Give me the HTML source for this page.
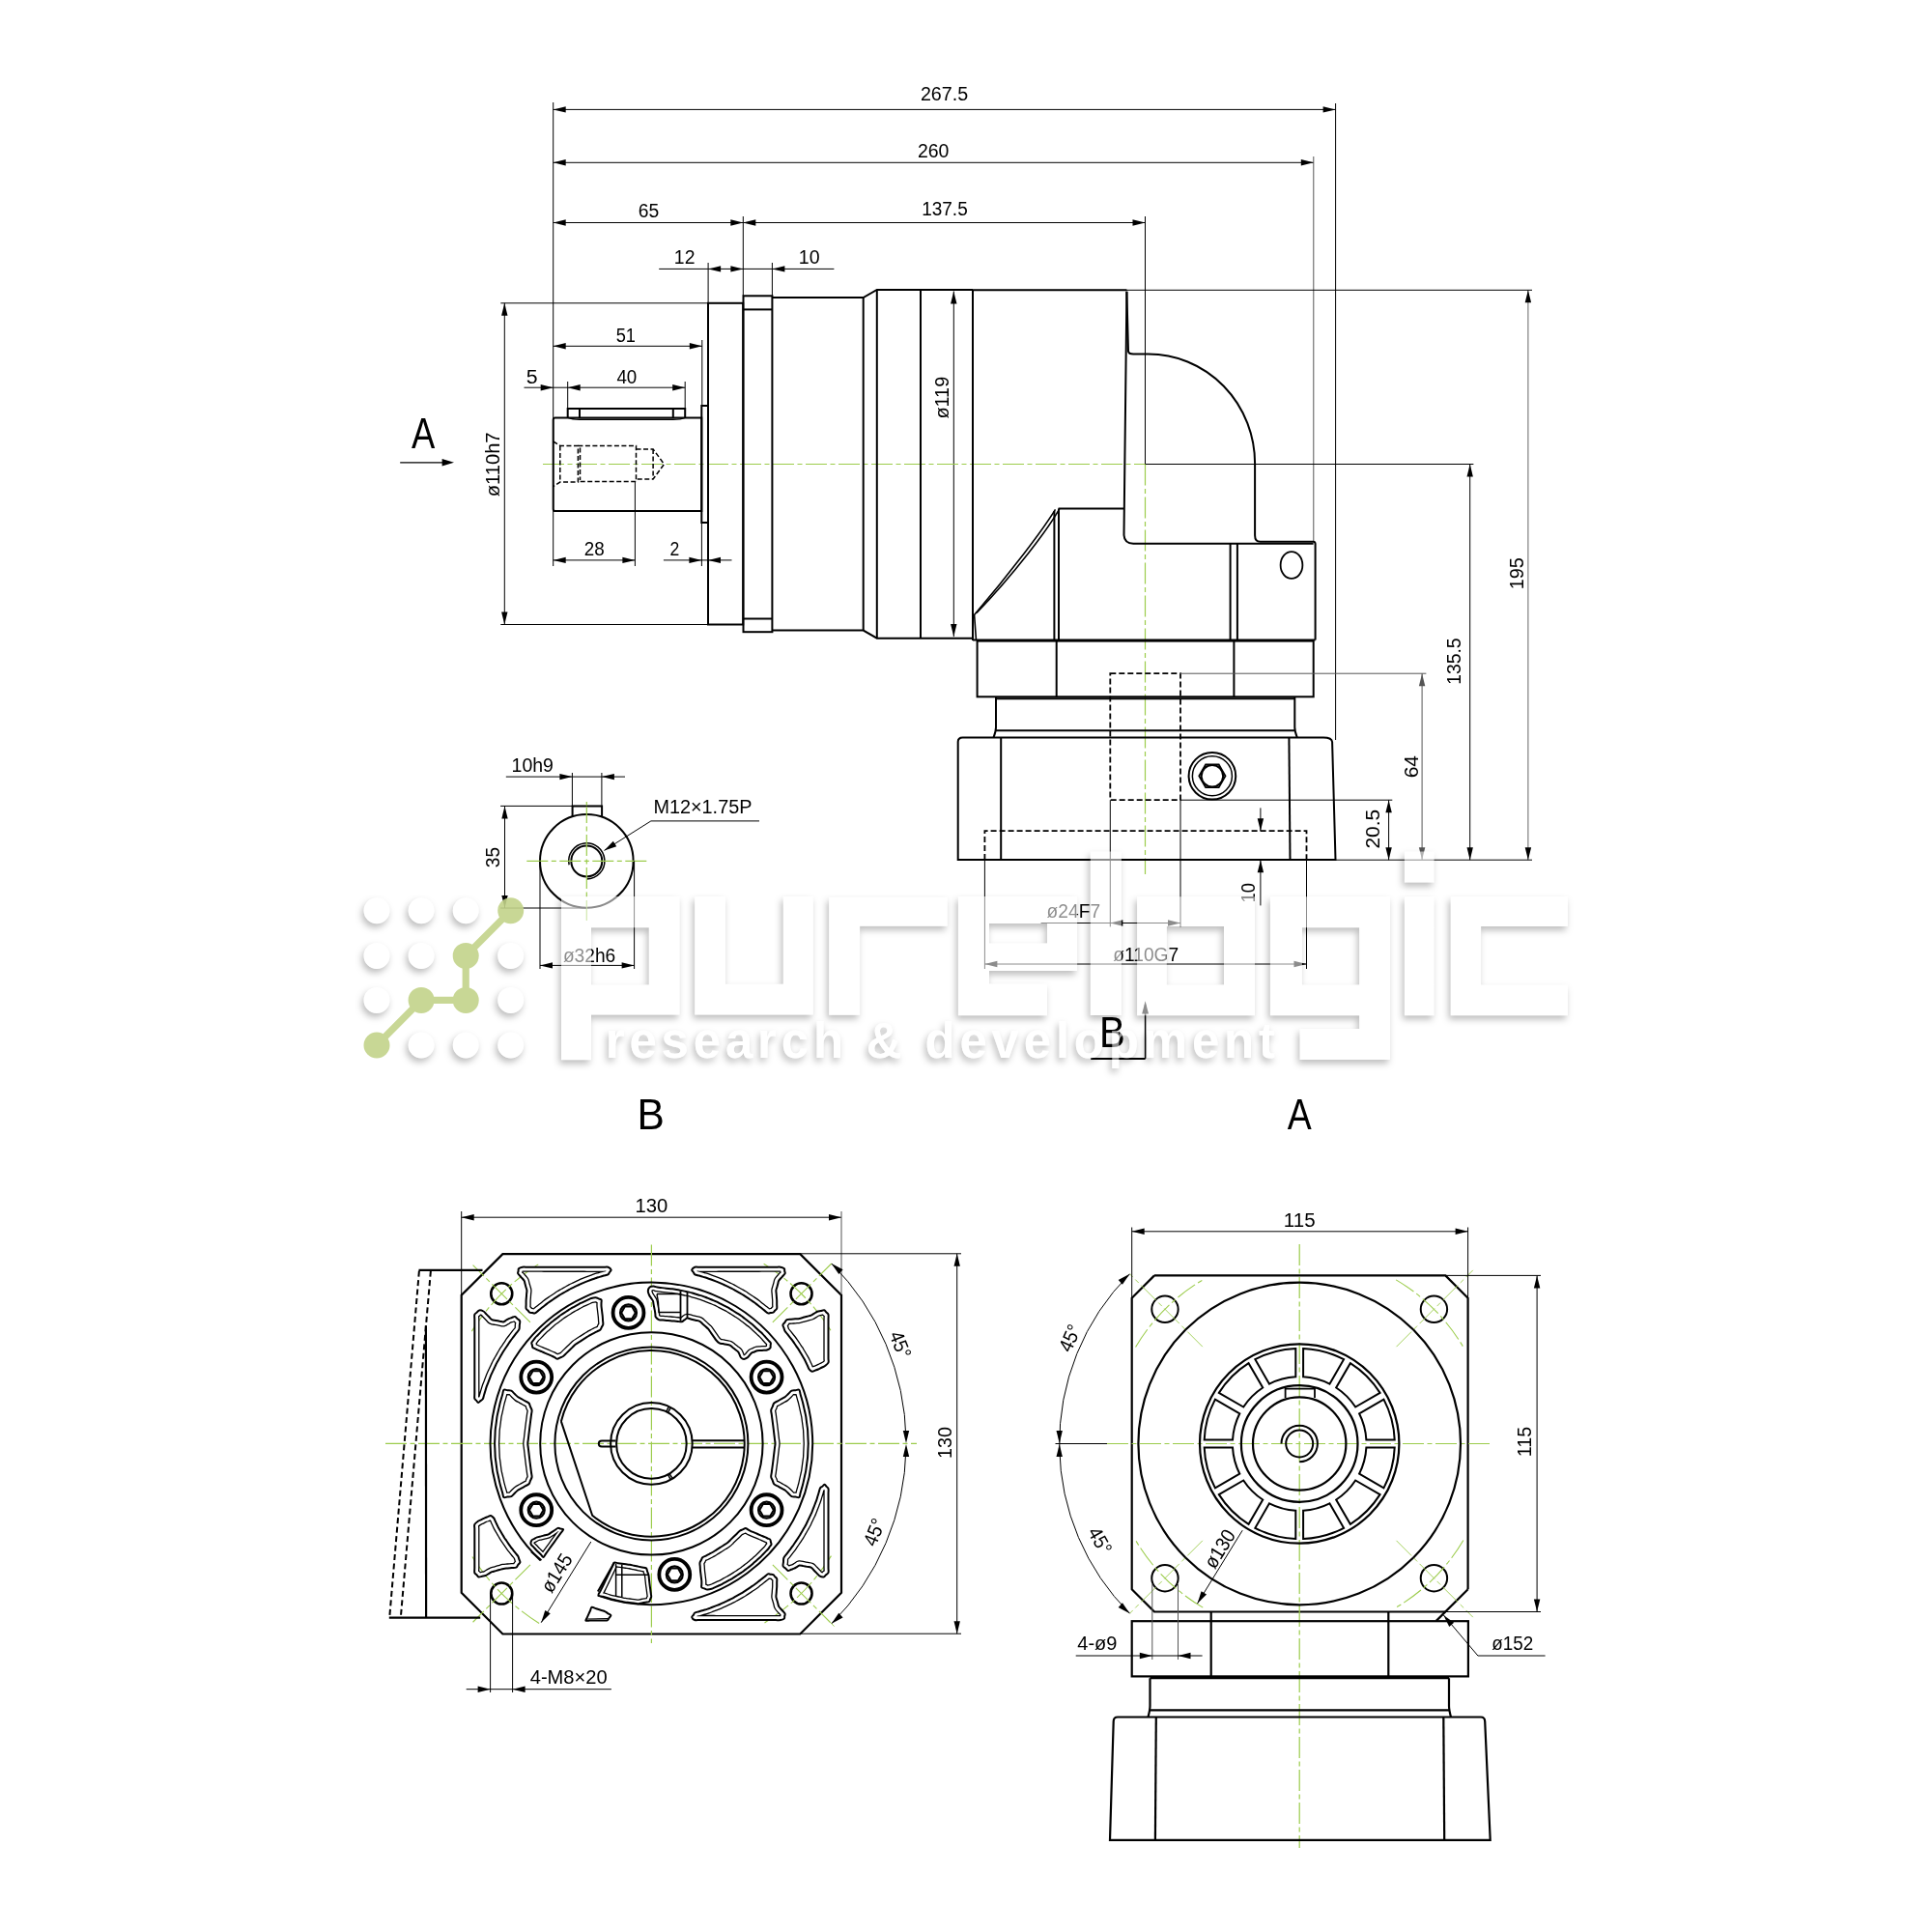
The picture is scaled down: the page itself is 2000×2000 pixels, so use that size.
<!DOCTYPE html>
<html><head><meta charset="utf-8"><style>
html,body{margin:0;padding:0;background:#fff;}
svg{display:block;}
text{font-family:"Liberation Sans",sans-serif;}
</style></head><body>
<svg xmlns="http://www.w3.org/2000/svg" width="2000" height="2000" viewBox="0 0 2000 2000">
<rect width="2000" height="2000" fill="#fff"/>
<g style="will-change:transform">
<line x1="572.7" y1="113.4" x2="1382.6" y2="113.4" stroke="#000" stroke-width="1.0"/>
<path d="M572.7,113.4 L585.7,110.2 L585.7,116.6 Z" fill="#000"/>
<path d="M1382.6,113.4 L1369.6,116.6 L1369.6,110.2 Z" fill="#000"/>
<text x="952.91" y="103.79" font-size="20.7" fill="#000" text-anchor="start" textLength="49.32" lengthAdjust="spacingAndGlyphs">267.5</text>
<line x1="572.7" y1="168.3" x2="1359.8" y2="168.3" stroke="#000" stroke-width="1.0"/>
<path d="M572.7,168.3 L585.7,165.1 L585.7,171.5 Z" fill="#000"/>
<path d="M1359.8,168.3 L1346.8,171.5 L1346.8,165.1 Z" fill="#000"/>
<text x="949.93" y="162.69" font-size="20.7" fill="#000" text-anchor="start" textLength="32.53" lengthAdjust="spacingAndGlyphs">260</text>
<line x1="572.7" y1="230.5" x2="769.3" y2="230.5" stroke="#000" stroke-width="1.0"/>
<path d="M572.7,230.5 L585.7,227.3 L585.7,233.7 Z" fill="#000"/>
<path d="M769.3,230.5 L756.3,233.7 L756.3,227.3 Z" fill="#000"/>
<text x="660.73" y="224.79" font-size="20.7" fill="#000" text-anchor="start" textLength="21.48" lengthAdjust="spacingAndGlyphs">65</text>
<line x1="769.3" y1="230.5" x2="1185.5" y2="230.5" stroke="#000" stroke-width="1.0"/>
<path d="M769.3,230.5 L782.3,227.3 L782.3,233.7 Z" fill="#000"/>
<path d="M1185.5,230.5 L1172.5,233.7 L1172.5,227.3 Z" fill="#000"/>
<text x="954.18" y="222.69" font-size="20.7" fill="#000" text-anchor="start" textLength="47.53" lengthAdjust="spacingAndGlyphs">137.5</text>
<line x1="682.2" y1="278.4" x2="863.4" y2="278.4" stroke="#000" stroke-width="1.0"/>
<path d="M733.1,278.4 L746.1,275.2 L746.1,281.6 Z" fill="#000"/>
<path d="M769.4,278.4 L756.4,281.6 L756.4,275.2 Z" fill="#000"/>
<path d="M799.4,278.4 L812.4,275.2 L812.4,281.6 Z" fill="#000"/>
<text x="697.85" y="272.85" font-size="20.7" fill="#000" text-anchor="start" textLength="21.57" lengthAdjust="spacingAndGlyphs">12</text>
<text x="826.83" y="272.74" font-size="20.7" fill="#000" text-anchor="start" textLength="21.8" lengthAdjust="spacingAndGlyphs">10</text>
<line x1="572.7" y1="106" x2="572.7" y2="586" stroke="#000" stroke-width="1.0"/>
<line x1="769.3" y1="224" x2="769.3" y2="306" stroke="#000" stroke-width="1.0"/>
<line x1="733.1" y1="272" x2="733.1" y2="314" stroke="#000" stroke-width="1.0"/>
<line x1="799.4" y1="272" x2="799.4" y2="306" stroke="#000" stroke-width="1.0"/>
<line x1="1185.5" y1="224" x2="1185.5" y2="480.5" stroke="#000" stroke-width="1.0"/>
<line x1="1359.8" y1="162" x2="1359.8" y2="561" stroke="#555" stroke-width="1.0"/>
<line x1="1382.6" y1="107" x2="1382.6" y2="766" stroke="#000" stroke-width="1.0"/>
<line x1="522.3" y1="313.8" x2="522.3" y2="646.5" stroke="#000" stroke-width="1.0"/>
<path d="M522.3,313.8 L525.5,326.8 L519.1,326.8 Z" fill="#000"/>
<path d="M522.3,646.5 L519.1,633.5 L525.5,633.5 Z" fill="#000"/>
<line x1="518.3" y1="313.8" x2="733" y2="313.8" stroke="#000" stroke-width="1.0"/>
<line x1="518.3" y1="646.5" x2="733" y2="646.5" stroke="#000" stroke-width="1.0"/>
<text x="517.2" y="514.2" font-size="20.7" fill="#000" text-anchor="start" textLength="66.76" lengthAdjust="spacingAndGlyphs" transform="rotate(-90 517.2 514.2)">ø110h7</text>
<line x1="572.7" y1="358.3" x2="726.8" y2="358.3" stroke="#000" stroke-width="1.0"/>
<path d="M572.7,358.3 L585.7,355.1 L585.7,361.5 Z" fill="#000"/>
<path d="M726.8,358.3 L713.8,361.5 L713.8,355.1 Z" fill="#000"/>
<text x="637.67" y="353.54" font-size="20.7" fill="#000" text-anchor="start" textLength="20.28" lengthAdjust="spacingAndGlyphs">51</text>
<line x1="726.8" y1="352" x2="726.8" y2="420" stroke="#000" stroke-width="1.0"/>
<line x1="542.5" y1="401.2" x2="709.2" y2="401.2" stroke="#000" stroke-width="1.0"/>
<path d="M572.7,401.2 L559.7,404.4 L559.7,398 Z" fill="#000"/>
<path d="M587.7,401.2 L600.7,398 L600.7,404.4 Z" fill="#000"/>
<path d="M709.2,401.2 L696.2,404.4 L696.2,398 Z" fill="#000"/>
<text x="544.75" y="396.94" font-size="20.7" fill="#000" text-anchor="start" textLength="11.84" lengthAdjust="spacingAndGlyphs">5</text>
<text x="638.42" y="397.04" font-size="20.7" fill="#000" text-anchor="start" textLength="20.87" lengthAdjust="spacingAndGlyphs">40</text>
<line x1="587.7" y1="395" x2="587.7" y2="423" stroke="#000" stroke-width="1.0"/>
<line x1="709.2" y1="395" x2="709.2" y2="423" stroke="#000" stroke-width="1.0"/>
<line x1="572.7" y1="579.9" x2="657.4" y2="579.9" stroke="#000" stroke-width="1.0"/>
<path d="M572.7,579.9 L585.7,576.7 L585.7,583.1 Z" fill="#000"/>
<path d="M657.4,579.9 L644.4,583.1 L644.4,576.7 Z" fill="#000"/>
<text x="604.76" y="575.14" font-size="20.7" fill="#000" text-anchor="start" textLength="20.94" lengthAdjust="spacingAndGlyphs">28</text>
<line x1="657.4" y1="498" x2="657.4" y2="586" stroke="#000" stroke-width="1.0"/>
<line x1="686.9" y1="579.9" x2="757.5" y2="579.9" stroke="#000" stroke-width="1.0"/>
<path d="M726.4,579.9 L713.4,583.1 L713.4,576.7 Z" fill="#000"/>
<path d="M733,579.9 L746,576.7 L746,583.1 Z" fill="#000"/>
<text x="693.42" y="575.45" font-size="20.7" fill="#000" text-anchor="start" textLength="9.79" lengthAdjust="spacingAndGlyphs">2</text>
<line x1="726.4" y1="541" x2="726.4" y2="586" stroke="#000" stroke-width="1.0"/>
<line x1="987.3" y1="301.5" x2="987.3" y2="659.1" stroke="#000" stroke-width="1.0"/>
<path d="M987.3,301.5 L990.5,314.5 L984.1,314.5 Z" fill="#000"/>
<path d="M987.3,659.1 L984.1,646.1 L990.5,646.1 Z" fill="#000"/>
<text x="982.24" y="433.6" font-size="20.7" fill="#000" text-anchor="start" textLength="43.79" lengthAdjust="spacingAndGlyphs" transform="rotate(-90 982.24 433.6)">ø119</text>
<line x1="414.2" y1="478.8" x2="460" y2="478.8" stroke="#000" stroke-width="1.3"/>
<path d="M470,478.8 L457.6,482.5 L457.6,475.1 Z" fill="#000"/>
<text x="426" y="463.75" font-size="44.5" fill="#000" text-anchor="start" textLength="24.26" lengthAdjust="spacingAndGlyphs">A</text>
<line x1="562" y1="480.5" x2="1300" y2="480.5" stroke="#9ccc4c" stroke-width="1.2" stroke-dasharray="22 3.5 5 3.5"/>
<line x1="1185.5" y1="480.5" x2="1185.5" y2="905" stroke="#9ccc4c" stroke-width="1.2" stroke-dasharray="22 3.5 5 3.5"/>
<path d="M574.7,432.4 H726.3 V529.1 H574.7 Q572.7,529.1 572.7,527 V434.4 Q572.7,432.4 574.7,432.4" stroke="#000" stroke-width="2.0" fill="none"/>
<path d="M587.7,432.4 V423.1 H709.2 V432.4" stroke="#000" stroke-width="2.0" fill="none"/>
<line x1="600" y1="423.1" x2="600" y2="433" stroke="#000" stroke-width="2.0"/>
<line x1="696.8" y1="423.1" x2="696.8" y2="433" stroke="#000" stroke-width="2.0"/>
<path d="M588,432.4 Q592,434.3 600,434.3 H696.8 Q705,434.3 709.2,432.4" stroke="#000" stroke-width="1.4" fill="none"/>
<rect x="726.3" y="420" width="6.7" height="121" stroke="#000" stroke-width="2.0" fill="none"/>
<path d="M572.7,457 L579.8,461.4 H598.4 V499.1 H579.8 L572.7,503.5" stroke="#000" stroke-width="1.5" fill="none" stroke-dasharray="5 2.5"/>
<line x1="579.8" y1="461.4" x2="579.8" y2="499.1" stroke="#000" stroke-width="1.5" stroke-dasharray="5 2.5"/>
<path d="M598.4,461.4 H658.5 V498.5 H598.4" stroke="#000" stroke-width="1.5" fill="none" stroke-dasharray="5 2.5"/>
<line x1="600.5" y1="463.5" x2="600.5" y2="497" stroke="#000" stroke-width="1.5" stroke-dasharray="5 2.5"/>
<path d="M658.5,464.9 H676.1 L687.5,480.5 L676.1,496 H658.5" stroke="#000" stroke-width="1.5" fill="none" stroke-dasharray="5 2.5"/>
<line x1="676.1" y1="464.9" x2="676.1" y2="496" stroke="#000" stroke-width="1.5" stroke-dasharray="5 2.5"/>
<rect x="733" y="313.8" width="36.2" height="332.7" stroke="#000" stroke-width="2.0" fill="none"/>
<rect x="769.5" y="306.3" width="29.9" height="347.9" stroke="#000" stroke-width="2.0" fill="none"/>
<line x1="769.5" y1="320.4" x2="799.4" y2="320.4" stroke="#000" stroke-width="2.0"/>
<line x1="769.5" y1="640.5" x2="799.4" y2="640.5" stroke="#000" stroke-width="2.0"/>
<path d="M799.4,308 H893.7 L907.8,300 H1007" stroke="#000" stroke-width="2.0" fill="none"/>
<path d="M799.4,652.6 H893.7 L907.8,660.7 H1007" stroke="#000" stroke-width="2.0" fill="none"/>
<line x1="893.7" y1="308" x2="893.7" y2="652.6" stroke="#000" stroke-width="2.0"/>
<line x1="907.8" y1="300" x2="907.8" y2="660.7" stroke="#000" stroke-width="2.0"/>
<line x1="953" y1="300" x2="953" y2="660.7" stroke="#000" stroke-width="2.0"/>
<line x1="1007" y1="300.3" x2="1166.4" y2="300.3" stroke="#000" stroke-width="2.0"/>
<line x1="1007" y1="300" x2="1007" y2="663" stroke="#000" stroke-width="2.0"/>
<path d="M1166.4,301.7 L1168,363.8 Q1168.5,366.5 1173.2,366.5 H1188.8 A110.3,113.3 0 0 1 1299.1,479.8 V554.3 Q1299.1,560.8 1304.7,560.8 H1359.6 Q1361.6,561 1361.6,563 V662.6" stroke="#000" stroke-width="2.0" fill="none"/>
<path d="M1166.4,301.7 L1163.5,554 Q1164,562.5 1173.2,562.8 H1359.6" stroke="#000" stroke-width="2.0" fill="none"/>
<line x1="1095.6" y1="526.4" x2="1163.5" y2="526.4" stroke="#000" stroke-width="2.0"/>
<line x1="1091.4" y1="529" x2="1091.4" y2="662.6" stroke="#000" stroke-width="2.0"/>
<line x1="1096" y1="526.4" x2="1096" y2="662.6" stroke="#000" stroke-width="2.0"/>
<path d="M1092.5,527.4 C1080,548 1045,594 1008.6,636.5 L1010.5,662.6" stroke="#000" stroke-width="1.6" fill="none"/>
<path d="M1096.8,526.6 C1084.5,548.5 1049.5,594.5 1011,634.5" stroke="#000" stroke-width="1.6" fill="none"/>
<line x1="1007" y1="662.6" x2="1361.6" y2="662.6" stroke="#000" stroke-width="2.0"/>
<line x1="1273.6" y1="563" x2="1273.6" y2="662.6" stroke="#000" stroke-width="2.0"/>
<line x1="1280.9" y1="563" x2="1280.9" y2="662.6" stroke="#000" stroke-width="2.0"/>
<ellipse cx="1337" cy="585" rx="11.4" ry="13.9" stroke="#000" stroke-width="1.8" fill="none"/>
<rect x="1011.6" y="663.6" width="348.1" height="57.7" stroke="#000" stroke-width="2.0" fill="none"/>
<line x1="1093.7" y1="663.6" x2="1093.7" y2="721.3" stroke="#000" stroke-width="2.0"/>
<line x1="1277.4" y1="663.6" x2="1277.4" y2="721.3" stroke="#000" stroke-width="2.0"/>
<path d="M1031,721.3 V753 Q1031,757 1028.5,763.5 M1340.3,721.3 V753 Q1340.3,757 1342.8,763.5" stroke="#000" stroke-width="2.0" fill="none"/>
<line x1="1031" y1="723.2" x2="1340.3" y2="723.2" stroke="#000" stroke-width="2.0"/>
<line x1="1031" y1="756.2" x2="1340.3" y2="756.2" stroke="#000" stroke-width="2.0"/>
<path d="M991.7,890 V768 Q991.7,763.5 996.5,763.5 H1370 Q1378.6,763.5 1379.1,768 L1382.5,890 Z" stroke="#000" stroke-width="2.0" fill="none"/>
<line x1="1036.2" y1="763.5" x2="1036.2" y2="890" stroke="#000" stroke-width="2.0"/>
<line x1="1334.4" y1="763.5" x2="1335.5" y2="890" stroke="#000" stroke-width="2.0"/>
<rect x="1149.3" y="697.2" width="72.7" height="131" stroke="#000" stroke-width="1.8" fill="none" stroke-dasharray="6 3"/>
<path d="M1019.4,890 V860.2 H1352.5 V890" stroke="#000" stroke-width="1.8" fill="none" stroke-dasharray="6 3"/>
<circle cx="1254.9" cy="803.3" r="24.3" stroke="#000" stroke-width="2" fill="none"/>
<circle cx="1254.9" cy="803.3" r="20.5" stroke="#000" stroke-width="1.5" fill="none"/>
<circle cx="1254.9" cy="803.3" r="11.2" stroke="#000" stroke-width="2" fill="none"/>
<path d="M1268.5,803.3 L1261.7,815.08 L1248.1,815.08 L1241.3,803.3 L1248.1,791.52 L1261.7,791.52 Z" stroke="#000" stroke-width="1.8" fill="none"/>
<line x1="1581.9" y1="300.3" x2="1581.9" y2="890.2" stroke="#666" stroke-width="1.0"/>
<path d="M1581.9,300.3 L1585.1,313.3 L1578.7,313.3 Z" fill="#000"/>
<path d="M1581.9,890.2 L1578.7,877.2 L1585.1,877.2 Z" fill="#000"/>
<line x1="1166" y1="300.3" x2="1586" y2="300.3" stroke="#000" stroke-width="1.0"/>
<line x1="1382.5" y1="890.2" x2="1586" y2="890.2" stroke="#000" stroke-width="1.0"/>
<text x="1576.64" y="610.29" font-size="20.7" fill="#000" text-anchor="start" textLength="33.16" lengthAdjust="spacingAndGlyphs" transform="rotate(-90 1576.64 610.29)">195</text>
<line x1="1521.7" y1="480.5" x2="1521.7" y2="890.2" stroke="#000" stroke-width="1.0"/>
<path d="M1521.7,480.5 L1524.9,493.5 L1518.5,493.5 Z" fill="#000"/>
<path d="M1521.7,890.2 L1518.5,877.2 L1524.9,877.2 Z" fill="#000"/>
<line x1="1185.5" y1="480.5" x2="1525.4" y2="480.5" stroke="#000" stroke-width="1.0"/>
<text x="1512.29" y="708.75" font-size="20.7" fill="#000" text-anchor="start" textLength="48.37" lengthAdjust="spacingAndGlyphs" transform="rotate(-90 1512.29 708.75)">135.5</text>
<line x1="1472.1" y1="697.2" x2="1472.1" y2="890.2" stroke="#555" stroke-width="1.0"/>
<path d="M1472.1,697.2 L1475.3,710.2 L1468.9,710.2 Z" fill="#555"/>
<path d="M1472.1,890.2 L1468.9,877.2 L1475.3,877.2 Z" fill="#555"/>
<line x1="1222" y1="697.2" x2="1476.4" y2="697.2" stroke="#555" stroke-width="1.0"/>
<text x="1468.14" y="805.35" font-size="20.7" fill="#000" text-anchor="start" textLength="23.43" lengthAdjust="spacingAndGlyphs" transform="rotate(-90 1468.14 805.35)">64</text>
<line x1="1437.6" y1="828.2" x2="1437.6" y2="890.2" stroke="#000" stroke-width="1.0"/>
<path d="M1437.6,828.2 L1440.8,841.2 L1434.4,841.2 Z" fill="#000"/>
<path d="M1437.6,890.2 L1434.4,877.2 L1440.8,877.2 Z" fill="#000"/>
<line x1="1222" y1="828.2" x2="1441.3" y2="828.2" stroke="#000" stroke-width="1.0"/>
<text x="1428.24" y="878.55" font-size="20.7" fill="#000" text-anchor="start" textLength="40.72" lengthAdjust="spacingAndGlyphs" transform="rotate(-90 1428.24 878.55)">20.5</text>
<line x1="1304.9" y1="836.4" x2="1304.9" y2="860.2" stroke="#000" stroke-width="1.0"/>
<path d="M1304.9,860.2 L1301.7,847.2 L1308.1,847.2 Z" fill="#000"/>
<line x1="1304.9" y1="890.2" x2="1304.9" y2="937.4" stroke="#000" stroke-width="1.0"/>
<path d="M1304.9,890.2 L1308.1,903.2 L1301.7,903.2 Z" fill="#000"/>
<text x="1298.64" y="934.47" font-size="20.7" fill="#000" text-anchor="start" textLength="20.45" lengthAdjust="spacingAndGlyphs" transform="rotate(-90 1298.64 934.47)">10</text>
<line x1="1149.3" y1="828.2" x2="1149.3" y2="959.4" stroke="#000" stroke-width="1.0"/>
<line x1="1222" y1="828.2" x2="1222" y2="959.4" stroke="#000" stroke-width="1.0"/>
<line x1="1077.6" y1="955.5" x2="1222" y2="955.5" stroke="#000" stroke-width="1.0"/>
<path d="M1149.3,955.5 L1162.3,952.3 L1162.3,958.7 Z" fill="#000"/>
<path d="M1222,955.5 L1209,958.7 L1209,952.3 Z" fill="#000"/>
<text x="1083.62" y="950.44" font-size="20.7" fill="#000" text-anchor="start" textLength="55.44" lengthAdjust="spacingAndGlyphs">ø24F7</text>
<line x1="1019.4" y1="890" x2="1019.4" y2="1003" stroke="#000" stroke-width="1.0"/>
<line x1="1352.5" y1="890" x2="1352.5" y2="1003" stroke="#000" stroke-width="1.0"/>
<line x1="1019.4" y1="998" x2="1352.5" y2="998" stroke="#000" stroke-width="1.0"/>
<path d="M1019.4,998 L1032.4,994.8 L1032.4,1001.2 Z" fill="#000"/>
<path d="M1352.5,998 L1339.5,1001.2 L1339.5,994.8 Z" fill="#000"/>
<text x="1152.33" y="994.89" font-size="20.7" fill="#000" text-anchor="start" textLength="67.81" lengthAdjust="spacingAndGlyphs">ø110G7</text>
<line x1="1185.6" y1="1040" x2="1185.6" y2="1096" stroke="#000" stroke-width="1.5"/>
<line x1="1129.2" y1="1096" x2="1185.6" y2="1096" stroke="#000" stroke-width="1.8"/>
<path d="M1185.6,1036.2 L1189,1049.5 L1182.2,1049.5 Z" fill="#000"/>
<text x="1137.88" y="1083.63" font-size="44" fill="#000" text-anchor="start" textLength="26.81" lengthAdjust="spacingAndGlyphs">B</text>
<circle cx="607.3" cy="891.4" r="48.3" stroke="#000" stroke-width="2.0" fill="none"/>
<circle cx="607.3" cy="891.4" r="16" stroke="#000" stroke-width="2.0" fill="none"/>
<path d="M589.11,895.27 A18.6,18.6 0 1 1 607.3,910" stroke="#000" stroke-width="1.5" fill="none"/>
<path d="M592.6,845.5 V834.4 H623.1 V845.8" stroke="#000" stroke-width="2.0" fill="none"/>
<line x1="545.3" y1="891.4" x2="669.5" y2="891.4" stroke="#9ccc4c" stroke-width="1.2" stroke-dasharray="22 3.5 5 3.5"/>
<line x1="607.3" y1="830" x2="607.3" y2="953" stroke="#9ccc4c" stroke-width="1.2" stroke-dasharray="22 3.5 5 3.5"/>
<line x1="523.8" y1="804.1" x2="647" y2="804.1" stroke="#000" stroke-width="1.0"/>
<path d="M592.4,804.1 L579.4,807.3 L579.4,800.9 Z" fill="#000"/>
<path d="M622.9,804.1 L635.9,800.9 L635.9,807.3 Z" fill="#000"/>
<line x1="592.4" y1="800" x2="592.4" y2="834.4" stroke="#000" stroke-width="1.0"/>
<line x1="622.9" y1="800" x2="622.9" y2="834.4" stroke="#000" stroke-width="1.0"/>
<text x="529.54" y="798.9" font-size="20.7" fill="#000" text-anchor="start" textLength="43.43" lengthAdjust="spacingAndGlyphs">10h9</text>
<line x1="522.5" y1="834.4" x2="522.5" y2="940" stroke="#000" stroke-width="1.0"/>
<path d="M522.5,834.4 L525.7,847.4 L519.3,847.4 Z" fill="#000"/>
<path d="M522.5,940 L519.3,927 L525.7,927 Z" fill="#000"/>
<line x1="518.1" y1="834.4" x2="622.9" y2="834.4" stroke="#000" stroke-width="1.0"/>
<line x1="518.1" y1="940" x2="607.3" y2="940" stroke="#000" stroke-width="1.0"/>
<text x="517.14" y="898.17" font-size="20.7" fill="#000" text-anchor="start" textLength="21.27" lengthAdjust="spacingAndGlyphs" transform="rotate(-90 517.14 898.17)">35</text>
<line x1="625.5" y1="880.4" x2="673.9" y2="849.9" stroke="#000" stroke-width="1.0"/>
<path d="M625.5,880.4 L634.79,870.76 L638.2,876.18 Z" fill="#000"/>
<line x1="673.9" y1="849.9" x2="786" y2="849.9" stroke="#000" stroke-width="1.0"/>
<text x="676.41" y="841.89" font-size="20.7" fill="#000" text-anchor="start" textLength="102.03" lengthAdjust="spacingAndGlyphs">M12×1.75P</text>
<line x1="559" y1="891.4" x2="559" y2="1003" stroke="#000" stroke-width="1.0"/>
<line x1="656.6" y1="891.4" x2="656.6" y2="1003" stroke="#000" stroke-width="1.0"/>
<line x1="559" y1="999.4" x2="656.6" y2="999.4" stroke="#000" stroke-width="1.0"/>
<path d="M559,999.4 L572,996.2 L572,1002.6 Z" fill="#000"/>
<path d="M656.6,999.4 L643.6,1002.6 L643.6,996.2 Z" fill="#000"/>
<text x="582.92" y="995.5" font-size="20.7" fill="#000" text-anchor="start" textLength="54.35" lengthAdjust="spacingAndGlyphs">ø32h6</text>
<path d="M520.4,1298.1 L828.3,1298.1 L871,1340.8 L871,1648.8 L828.3,1691.5 L520.4,1691.5 L477.7,1648.8 L477.7,1340.8 Z" stroke="#000" stroke-width="2.2" fill="none"/>
<line x1="399" y1="1494.4" x2="949" y2="1494.4" stroke="#9ccc4c" stroke-width="1.2" stroke-dasharray="22 3.5 5 3.5"/>
<line x1="674.4" y1="1288.5" x2="674.4" y2="1701" stroke="#9ccc4c" stroke-width="1.2" stroke-dasharray="22 3.5 5 3.5"/>
<circle cx="519.26" cy="1339.26" r="11" stroke="#000" stroke-width="2.6" fill="none"/>
<line x1="548.96" y1="1368.96" x2="489.56" y2="1309.56" stroke="#9ccc4c" stroke-width="1.1" stroke-dasharray="22 3.5 5 3.5"/>
<path d="M488.34,1378.14 A219.4,219.4 0 0 1 558.14,1308.34" stroke="#9ccc4c" stroke-width="1.1" fill="none" stroke-dasharray="22 3.5 5 3.5"/>
<circle cx="829.54" cy="1339.26" r="11" stroke="#000" stroke-width="2.6" fill="none"/>
<line x1="799.84" y1="1368.96" x2="860.79" y2="1308.01" stroke="#9ccc4c" stroke-width="1.1" stroke-dasharray="22 3.5 5 3.5"/>
<path d="M790.66,1308.34 A219.4,219.4 0 0 1 860.46,1378.14" stroke="#9ccc4c" stroke-width="1.1" fill="none" stroke-dasharray="22 3.5 5 3.5"/>
<circle cx="829.54" cy="1649.54" r="11" stroke="#000" stroke-width="2.6" fill="none"/>
<line x1="799.84" y1="1619.84" x2="859.24" y2="1679.24" stroke="#9ccc4c" stroke-width="1.1" stroke-dasharray="22 3.5 5 3.5"/>
<path d="M860.46,1610.66 A219.4,219.4 0 0 1 790.66,1680.46" stroke="#9ccc4c" stroke-width="1.1" fill="none" stroke-dasharray="22 3.5 5 3.5"/>
<circle cx="519.26" cy="1649.54" r="11" stroke="#000" stroke-width="2.6" fill="none"/>
<line x1="548.96" y1="1619.84" x2="489.56" y2="1679.24" stroke="#9ccc4c" stroke-width="1.1" stroke-dasharray="22 3.5 5 3.5"/>
<path d="M558.14,1680.46 A219.4,219.4 0 0 1 488.34,1610.66" stroke="#9ccc4c" stroke-width="1.1" fill="none" stroke-dasharray="22 3.5 5 3.5"/>
<path d="M559.37,1615.19 A166.8,166.8 0 1 1 618.72,1651.63" stroke="#000" stroke-width="2.0" fill="none"/>
<circle cx="674.4" cy="1494.4" r="115.2" stroke="#000" stroke-width="2.0" fill="none"/>
<circle cx="674.4" cy="1494.4" r="100" stroke="#000" stroke-width="2.0" fill="none"/>
<path d="M580.88,1471.43 A96.3,96.3 0 1 1 613.15,1568.71 L580.88,1471.43" stroke="#000" stroke-width="2.0" fill="none"/>
<circle cx="674.4" cy="1494.4" r="42.3" stroke="#000" stroke-width="2.0" fill="none"/>
<circle cx="674.4" cy="1494.4" r="36.3" stroke="#000" stroke-width="2.0" fill="none"/>
<line x1="691.44" y1="1462.35" x2="694.26" y2="1457.05" stroke="#000" stroke-width="1.5"/>
<line x1="689.74" y1="1461.5" x2="692.28" y2="1456.06" stroke="#000" stroke-width="1.5"/>
<line x1="691.44" y1="1526.45" x2="694.26" y2="1531.75" stroke="#000" stroke-width="1.5"/>
<line x1="693.1" y1="1525.52" x2="696.19" y2="1530.66" stroke="#000" stroke-width="1.5"/>
<line x1="716.5" y1="1491.3" x2="770" y2="1491.3" stroke="#000" stroke-width="2.0"/>
<line x1="716.5" y1="1498.6" x2="770" y2="1498.6" stroke="#000" stroke-width="2.0"/>
<path d="M637.5,1491.5 H623 Q619.8,1491.5 619.8,1494.6 Q619.8,1497.6 623,1497.6 H637.5" stroke="#000" stroke-width="2.0" fill="none"/>
<circle cx="555.23" cy="1425.6" r="15.95" stroke="#000" stroke-width="3.8" fill="none"/>
<circle cx="555.23" cy="1425.6" r="8.5" stroke="#000" stroke-width="2.2" fill="none"/>
<path d="M562.53,1425.6 L558.88,1431.92 L551.58,1431.92 L547.93,1425.6 L551.58,1419.28 L558.88,1419.28 Z" stroke="#000" stroke-width="2.0" fill="none"/>
<circle cx="650.51" cy="1358.89" r="15.95" stroke="#000" stroke-width="3.8" fill="none"/>
<circle cx="650.51" cy="1358.89" r="8.5" stroke="#000" stroke-width="2.2" fill="none"/>
<path d="M657.81,1358.89 L654.16,1365.21 L646.86,1365.21 L643.21,1358.89 L646.86,1352.57 L654.16,1352.57 Z" stroke="#000" stroke-width="2.0" fill="none"/>
<circle cx="793.57" cy="1425.6" r="15.95" stroke="#000" stroke-width="3.8" fill="none"/>
<circle cx="793.57" cy="1425.6" r="8.5" stroke="#000" stroke-width="2.2" fill="none"/>
<path d="M800.87,1425.6 L797.22,1431.92 L789.92,1431.92 L786.27,1425.6 L789.92,1419.28 L797.22,1419.28 Z" stroke="#000" stroke-width="2.0" fill="none"/>
<circle cx="793.57" cy="1563.2" r="15.95" stroke="#000" stroke-width="3.8" fill="none"/>
<circle cx="793.57" cy="1563.2" r="8.5" stroke="#000" stroke-width="2.2" fill="none"/>
<path d="M800.87,1563.2 L797.22,1569.52 L789.92,1569.52 L786.27,1563.2 L789.92,1556.88 L797.22,1556.88 Z" stroke="#000" stroke-width="2.0" fill="none"/>
<circle cx="698.29" cy="1629.91" r="15.95" stroke="#000" stroke-width="3.8" fill="none"/>
<circle cx="698.29" cy="1629.91" r="8.5" stroke="#000" stroke-width="2.2" fill="none"/>
<path d="M705.59,1629.91 L701.94,1636.23 L694.64,1636.23 L690.99,1629.91 L694.64,1623.59 L701.94,1623.59 Z" stroke="#000" stroke-width="2.0" fill="none"/>
<circle cx="555.23" cy="1563.2" r="15.95" stroke="#000" stroke-width="3.8" fill="none"/>
<circle cx="555.23" cy="1563.2" r="8.5" stroke="#000" stroke-width="2.2" fill="none"/>
<path d="M562.53,1563.2 L558.88,1569.52 L551.58,1569.52 L547.93,1563.2 L551.58,1556.88 L558.88,1556.88 Z" stroke="#000" stroke-width="2.0" fill="none"/>
<clipPath id="cp1"><path d="M616.7,1343.3 C617.95,1343.37 618.63,1344.03 619.6,1344.4 C620.57,1344.77 622.02,1344.78 622.5,1345.5 C622.98,1346.22 622.5,1347.67 622.5,1348.75 C622.5,1349.83 622.43,1350.85 622.5,1352 C622.57,1353.15 622.79,1354.44 622.93,1355.67 C623.08,1356.89 623.22,1358.11 623.37,1359.33 C623.51,1360.56 623.69,1361.72 623.8,1363 C623.91,1364.28 623.97,1365.67 624.05,1367 C624.13,1368.33 624.49,1369.88 624.3,1371 C624.11,1372.12 623.37,1372.83 622.9,1373.75 C622.43,1374.67 622.3,1375.75 621.5,1376.5 C620.7,1377.25 619.23,1377.68 618.1,1378.27 C616.97,1378.86 615.83,1379.44 614.7,1380.03 C613.57,1380.62 612.5,1381.1 611.3,1381.8 C610.1,1382.5 608.75,1383.42 607.47,1384.22 C606.2,1385.03 604.92,1385.84 603.65,1386.65 C602.38,1387.46 601.1,1388.27 599.83,1389.08 C598.55,1389.88 597.18,1390.58 596,1391.5 C594.82,1392.42 593.83,1393.58 592.75,1394.62 C591.67,1395.67 590.58,1396.71 589.5,1397.75 C588.42,1398.79 587.33,1399.83 586.25,1400.88 C585.17,1401.92 584.04,1403.25 583,1404 C581.96,1404.75 581,1404.93 580,1405.4 C579,1405.87 577.92,1406.8 577,1406.8 C576.08,1406.8 575.33,1405.87 574.5,1405.4 C573.67,1404.93 573.04,1404.5 572,1404 C570.96,1403.5 569.5,1402.93 568.25,1402.4 C567,1401.87 565.75,1401.33 564.5,1400.8 C563.25,1400.27 562,1399.73 560.75,1399.2 C559.5,1398.67 558.08,1398.08 557,1397.6 C555.92,1397.12 555.17,1396.73 554.25,1396.3 C553.33,1395.87 552.06,1395.63 551.5,1395 C550.94,1394.37 551.1,1393.33 550.9,1392.5 C550.7,1391.67 550.11,1390.83 550.3,1390 C550.49,1389.17 551.47,1388.35 552.05,1387.52 C552.63,1386.7 553.04,1385.93 553.8,1385.04 C554.55,1384.15 555.66,1383.14 556.59,1382.19 C557.52,1381.23 558.45,1380.28 559.38,1379.33 C560.3,1378.38 561.2,1377.39 562.16,1376.47 C563.13,1375.56 564.16,1374.71 565.16,1373.83 C566.15,1372.95 567.15,1372.06 568.15,1371.18 C569.14,1370.3 570.11,1369.38 571.14,1368.54 C572.17,1367.7 573.26,1366.93 574.32,1366.12 C575.38,1365.32 576.44,1364.51 577.49,1363.7 C578.55,1362.9 579.59,1362.05 580.67,1361.29 C581.76,1360.52 582.9,1359.84 584.02,1359.11 C585.14,1358.38 586.25,1357.66 587.37,1356.93 C588.48,1356.21 589.57,1355.44 590.71,1354.76 C591.86,1354.07 593.05,1353.47 594.21,1352.83 C595.38,1352.19 596.54,1351.55 597.71,1350.91 C598.88,1350.26 600.02,1349.58 601.21,1348.98 C602.4,1348.38 603.63,1347.87 604.84,1347.32 C606.05,1346.76 607.26,1346.21 608.47,1345.66 C609.68,1345.1 610.73,1344.38 612.1,1343.99 C613.47,1343.6 615.45,1343.23 616.7,1343.3 Z"/></clipPath>
<g clip-path="url(#cp1)"><path d="M616.7,1343.3 C617.95,1343.37 618.63,1344.03 619.6,1344.4 C620.57,1344.77 622.02,1344.78 622.5,1345.5 C622.98,1346.22 622.5,1347.67 622.5,1348.75 C622.5,1349.83 622.43,1350.85 622.5,1352 C622.57,1353.15 622.79,1354.44 622.93,1355.67 C623.08,1356.89 623.22,1358.11 623.37,1359.33 C623.51,1360.56 623.69,1361.72 623.8,1363 C623.91,1364.28 623.97,1365.67 624.05,1367 C624.13,1368.33 624.49,1369.88 624.3,1371 C624.11,1372.12 623.37,1372.83 622.9,1373.75 C622.43,1374.67 622.3,1375.75 621.5,1376.5 C620.7,1377.25 619.23,1377.68 618.1,1378.27 C616.97,1378.86 615.83,1379.44 614.7,1380.03 C613.57,1380.62 612.5,1381.1 611.3,1381.8 C610.1,1382.5 608.75,1383.42 607.47,1384.22 C606.2,1385.03 604.92,1385.84 603.65,1386.65 C602.38,1387.46 601.1,1388.27 599.83,1389.08 C598.55,1389.88 597.18,1390.58 596,1391.5 C594.82,1392.42 593.83,1393.58 592.75,1394.62 C591.67,1395.67 590.58,1396.71 589.5,1397.75 C588.42,1398.79 587.33,1399.83 586.25,1400.88 C585.17,1401.92 584.04,1403.25 583,1404 C581.96,1404.75 581,1404.93 580,1405.4 C579,1405.87 577.92,1406.8 577,1406.8 C576.08,1406.8 575.33,1405.87 574.5,1405.4 C573.67,1404.93 573.04,1404.5 572,1404 C570.96,1403.5 569.5,1402.93 568.25,1402.4 C567,1401.87 565.75,1401.33 564.5,1400.8 C563.25,1400.27 562,1399.73 560.75,1399.2 C559.5,1398.67 558.08,1398.08 557,1397.6 C555.92,1397.12 555.17,1396.73 554.25,1396.3 C553.33,1395.87 552.06,1395.63 551.5,1395 C550.94,1394.37 551.1,1393.33 550.9,1392.5 C550.7,1391.67 550.11,1390.83 550.3,1390 C550.49,1389.17 551.47,1388.35 552.05,1387.52 C552.63,1386.7 553.04,1385.93 553.8,1385.04 C554.55,1384.15 555.66,1383.14 556.59,1382.19 C557.52,1381.23 558.45,1380.28 559.38,1379.33 C560.3,1378.38 561.2,1377.39 562.16,1376.47 C563.13,1375.56 564.16,1374.71 565.16,1373.83 C566.15,1372.95 567.15,1372.06 568.15,1371.18 C569.14,1370.3 570.11,1369.38 571.14,1368.54 C572.17,1367.7 573.26,1366.93 574.32,1366.12 C575.38,1365.32 576.44,1364.51 577.49,1363.7 C578.55,1362.9 579.59,1362.05 580.67,1361.29 C581.76,1360.52 582.9,1359.84 584.02,1359.11 C585.14,1358.38 586.25,1357.66 587.37,1356.93 C588.48,1356.21 589.57,1355.44 590.71,1354.76 C591.86,1354.07 593.05,1353.47 594.21,1352.83 C595.38,1352.19 596.54,1351.55 597.71,1350.91 C598.88,1350.26 600.02,1349.58 601.21,1348.98 C602.4,1348.38 603.63,1347.87 604.84,1347.32 C606.05,1346.76 607.26,1346.21 608.47,1345.66 C609.68,1345.1 610.73,1344.38 612.1,1343.99 C613.47,1343.6 615.45,1343.23 616.7,1343.3 Z" fill="none" stroke="#000" stroke-width="10.3" stroke-linejoin="round"/><path d="M616.7,1343.3 C617.95,1343.37 618.63,1344.03 619.6,1344.4 C620.57,1344.77 622.02,1344.78 622.5,1345.5 C622.98,1346.22 622.5,1347.67 622.5,1348.75 C622.5,1349.83 622.43,1350.85 622.5,1352 C622.57,1353.15 622.79,1354.44 622.93,1355.67 C623.08,1356.89 623.22,1358.11 623.37,1359.33 C623.51,1360.56 623.69,1361.72 623.8,1363 C623.91,1364.28 623.97,1365.67 624.05,1367 C624.13,1368.33 624.49,1369.88 624.3,1371 C624.11,1372.12 623.37,1372.83 622.9,1373.75 C622.43,1374.67 622.3,1375.75 621.5,1376.5 C620.7,1377.25 619.23,1377.68 618.1,1378.27 C616.97,1378.86 615.83,1379.44 614.7,1380.03 C613.57,1380.62 612.5,1381.1 611.3,1381.8 C610.1,1382.5 608.75,1383.42 607.47,1384.22 C606.2,1385.03 604.92,1385.84 603.65,1386.65 C602.38,1387.46 601.1,1388.27 599.83,1389.08 C598.55,1389.88 597.18,1390.58 596,1391.5 C594.82,1392.42 593.83,1393.58 592.75,1394.62 C591.67,1395.67 590.58,1396.71 589.5,1397.75 C588.42,1398.79 587.33,1399.83 586.25,1400.88 C585.17,1401.92 584.04,1403.25 583,1404 C581.96,1404.75 581,1404.93 580,1405.4 C579,1405.87 577.92,1406.8 577,1406.8 C576.08,1406.8 575.33,1405.87 574.5,1405.4 C573.67,1404.93 573.04,1404.5 572,1404 C570.96,1403.5 569.5,1402.93 568.25,1402.4 C567,1401.87 565.75,1401.33 564.5,1400.8 C563.25,1400.27 562,1399.73 560.75,1399.2 C559.5,1398.67 558.08,1398.08 557,1397.6 C555.92,1397.12 555.17,1396.73 554.25,1396.3 C553.33,1395.87 552.06,1395.63 551.5,1395 C550.94,1394.37 551.1,1393.33 550.9,1392.5 C550.7,1391.67 550.11,1390.83 550.3,1390 C550.49,1389.17 551.47,1388.35 552.05,1387.52 C552.63,1386.7 553.04,1385.93 553.8,1385.04 C554.55,1384.15 555.66,1383.14 556.59,1382.19 C557.52,1381.23 558.45,1380.28 559.38,1379.33 C560.3,1378.38 561.2,1377.39 562.16,1376.47 C563.13,1375.56 564.16,1374.71 565.16,1373.83 C566.15,1372.95 567.15,1372.06 568.15,1371.18 C569.14,1370.3 570.11,1369.38 571.14,1368.54 C572.17,1367.7 573.26,1366.93 574.32,1366.12 C575.38,1365.32 576.44,1364.51 577.49,1363.7 C578.55,1362.9 579.59,1362.05 580.67,1361.29 C581.76,1360.52 582.9,1359.84 584.02,1359.11 C585.14,1358.38 586.25,1357.66 587.37,1356.93 C588.48,1356.21 589.57,1355.44 590.71,1354.76 C591.86,1354.07 593.05,1353.47 594.21,1352.83 C595.38,1352.19 596.54,1351.55 597.71,1350.91 C598.88,1350.26 600.02,1349.58 601.21,1348.98 C602.4,1348.38 603.63,1347.87 604.84,1347.32 C606.05,1346.76 607.26,1346.21 608.47,1345.66 C609.68,1345.1 610.73,1344.38 612.1,1343.99 C613.47,1343.6 615.45,1343.23 616.7,1343.3 Z" fill="none" stroke="#fff" stroke-width="7.7" stroke-linejoin="round"/></g>
<path d="M616.7,1343.3 C617.95,1343.37 618.63,1344.03 619.6,1344.4 C620.57,1344.77 622.02,1344.78 622.5,1345.5 C622.98,1346.22 622.5,1347.67 622.5,1348.75 C622.5,1349.83 622.43,1350.85 622.5,1352 C622.57,1353.15 622.79,1354.44 622.93,1355.67 C623.08,1356.89 623.22,1358.11 623.37,1359.33 C623.51,1360.56 623.69,1361.72 623.8,1363 C623.91,1364.28 623.97,1365.67 624.05,1367 C624.13,1368.33 624.49,1369.88 624.3,1371 C624.11,1372.12 623.37,1372.83 622.9,1373.75 C622.43,1374.67 622.3,1375.75 621.5,1376.5 C620.7,1377.25 619.23,1377.68 618.1,1378.27 C616.97,1378.86 615.83,1379.44 614.7,1380.03 C613.57,1380.62 612.5,1381.1 611.3,1381.8 C610.1,1382.5 608.75,1383.42 607.47,1384.22 C606.2,1385.03 604.92,1385.84 603.65,1386.65 C602.38,1387.46 601.1,1388.27 599.83,1389.08 C598.55,1389.88 597.18,1390.58 596,1391.5 C594.82,1392.42 593.83,1393.58 592.75,1394.62 C591.67,1395.67 590.58,1396.71 589.5,1397.75 C588.42,1398.79 587.33,1399.83 586.25,1400.88 C585.17,1401.92 584.04,1403.25 583,1404 C581.96,1404.75 581,1404.93 580,1405.4 C579,1405.87 577.92,1406.8 577,1406.8 C576.08,1406.8 575.33,1405.87 574.5,1405.4 C573.67,1404.93 573.04,1404.5 572,1404 C570.96,1403.5 569.5,1402.93 568.25,1402.4 C567,1401.87 565.75,1401.33 564.5,1400.8 C563.25,1400.27 562,1399.73 560.75,1399.2 C559.5,1398.67 558.08,1398.08 557,1397.6 C555.92,1397.12 555.17,1396.73 554.25,1396.3 C553.33,1395.87 552.06,1395.63 551.5,1395 C550.94,1394.37 551.1,1393.33 550.9,1392.5 C550.7,1391.67 550.11,1390.83 550.3,1390 C550.49,1389.17 551.47,1388.35 552.05,1387.52 C552.63,1386.7 553.04,1385.93 553.8,1385.04 C554.55,1384.15 555.66,1383.14 556.59,1382.19 C557.52,1381.23 558.45,1380.28 559.38,1379.33 C560.3,1378.38 561.2,1377.39 562.16,1376.47 C563.13,1375.56 564.16,1374.71 565.16,1373.83 C566.15,1372.95 567.15,1372.06 568.15,1371.18 C569.14,1370.3 570.11,1369.38 571.14,1368.54 C572.17,1367.7 573.26,1366.93 574.32,1366.12 C575.38,1365.32 576.44,1364.51 577.49,1363.7 C578.55,1362.9 579.59,1362.05 580.67,1361.29 C581.76,1360.52 582.9,1359.84 584.02,1359.11 C585.14,1358.38 586.25,1357.66 587.37,1356.93 C588.48,1356.21 589.57,1355.44 590.71,1354.76 C591.86,1354.07 593.05,1353.47 594.21,1352.83 C595.38,1352.19 596.54,1351.55 597.71,1350.91 C598.88,1350.26 600.02,1349.58 601.21,1348.98 C602.4,1348.38 603.63,1347.87 604.84,1347.32 C606.05,1346.76 607.26,1346.21 608.47,1345.66 C609.68,1345.1 610.73,1344.38 612.1,1343.99 C613.47,1343.6 615.45,1343.23 616.7,1343.3 Z" fill="none" stroke="#000" stroke-width="2.0" stroke-linejoin="round"/>
<clipPath id="cp2"><path d="M732.1,1645.5 C730.85,1645.43 730.17,1644.77 729.2,1644.4 C728.23,1644.03 726.78,1644.03 726.3,1643.3 C725.82,1642.58 726.3,1641.13 726.3,1640.05 C726.3,1638.97 726.37,1637.95 726.3,1636.8 C726.23,1635.65 726.01,1634.36 725.87,1633.13 C725.72,1631.91 725.58,1630.69 725.43,1629.47 C725.29,1628.24 725.11,1627.08 725,1625.8 C724.89,1624.52 724.83,1623.13 724.75,1621.8 C724.67,1620.47 724.31,1618.93 724.5,1617.8 C724.69,1616.68 725.43,1615.97 725.9,1615.05 C726.37,1614.13 726.5,1613.05 727.3,1612.3 C728.1,1611.55 729.57,1611.12 730.7,1610.53 C731.83,1609.94 732.97,1609.36 734.1,1608.77 C735.23,1608.18 736.3,1607.7 737.5,1607 C738.7,1606.3 740.05,1605.38 741.33,1604.58 C742.6,1603.77 743.88,1602.96 745.15,1602.15 C746.42,1601.34 747.7,1600.53 748.97,1599.73 C750.25,1598.92 751.62,1598.23 752.8,1597.3 C753.98,1596.38 754.97,1595.22 756.05,1594.18 C757.13,1593.13 758.22,1592.09 759.3,1591.05 C760.38,1590.01 761.47,1588.97 762.55,1587.93 C763.63,1586.88 764.76,1585.55 765.8,1584.8 C766.84,1584.05 767.8,1583.87 768.8,1583.4 C769.8,1582.93 770.88,1582 771.8,1582 C772.72,1582 773.47,1582.93 774.3,1583.4 C775.13,1583.87 775.76,1584.3 776.8,1584.8 C777.84,1585.3 779.3,1585.87 780.55,1586.4 C781.8,1586.93 783.05,1587.47 784.3,1588 C785.55,1588.53 786.8,1589.07 788.05,1589.6 C789.3,1590.13 790.72,1590.72 791.8,1591.2 C792.88,1591.68 793.63,1592.07 794.55,1592.5 C795.47,1592.93 796.74,1593.17 797.3,1593.8 C797.86,1594.43 797.7,1595.47 797.9,1596.3 C798.1,1597.13 798.69,1597.97 798.5,1598.8 C798.31,1599.63 797.33,1600.45 796.75,1601.28 C796.17,1602.1 795.76,1602.87 795,1603.76 C794.25,1604.65 793.14,1605.66 792.21,1606.61 C791.28,1607.57 790.35,1608.52 789.42,1609.47 C788.5,1610.42 787.6,1611.41 786.64,1612.33 C785.67,1613.24 784.64,1614.09 783.64,1614.97 C782.65,1615.85 781.65,1616.74 780.65,1617.62 C779.66,1618.5 778.69,1619.42 777.66,1620.26 C776.63,1621.1 775.54,1621.87 774.48,1622.68 C773.42,1623.48 772.36,1624.29 771.31,1625.1 C770.25,1625.9 769.21,1626.75 768.13,1627.51 C767.04,1628.28 765.9,1628.96 764.78,1629.69 C763.66,1630.42 762.55,1631.14 761.43,1631.87 C760.32,1632.59 759.23,1633.36 758.09,1634.04 C756.94,1634.73 755.75,1635.33 754.59,1635.97 C753.42,1636.61 752.26,1637.25 751.09,1637.89 C749.92,1638.54 748.78,1639.22 747.59,1639.82 C746.4,1640.42 745.17,1640.93 743.96,1641.48 C742.75,1642.04 741.54,1642.59 740.33,1643.14 C739.12,1643.7 738.07,1644.42 736.7,1644.81 C735.33,1645.2 733.35,1645.57 732.1,1645.5 Z"/></clipPath>
<g clip-path="url(#cp2)"><path d="M732.1,1645.5 C730.85,1645.43 730.17,1644.77 729.2,1644.4 C728.23,1644.03 726.78,1644.03 726.3,1643.3 C725.82,1642.58 726.3,1641.13 726.3,1640.05 C726.3,1638.97 726.37,1637.95 726.3,1636.8 C726.23,1635.65 726.01,1634.36 725.87,1633.13 C725.72,1631.91 725.58,1630.69 725.43,1629.47 C725.29,1628.24 725.11,1627.08 725,1625.8 C724.89,1624.52 724.83,1623.13 724.75,1621.8 C724.67,1620.47 724.31,1618.93 724.5,1617.8 C724.69,1616.68 725.43,1615.97 725.9,1615.05 C726.37,1614.13 726.5,1613.05 727.3,1612.3 C728.1,1611.55 729.57,1611.12 730.7,1610.53 C731.83,1609.94 732.97,1609.36 734.1,1608.77 C735.23,1608.18 736.3,1607.7 737.5,1607 C738.7,1606.3 740.05,1605.38 741.33,1604.58 C742.6,1603.77 743.88,1602.96 745.15,1602.15 C746.42,1601.34 747.7,1600.53 748.97,1599.73 C750.25,1598.92 751.62,1598.23 752.8,1597.3 C753.98,1596.38 754.97,1595.22 756.05,1594.18 C757.13,1593.13 758.22,1592.09 759.3,1591.05 C760.38,1590.01 761.47,1588.97 762.55,1587.93 C763.63,1586.88 764.76,1585.55 765.8,1584.8 C766.84,1584.05 767.8,1583.87 768.8,1583.4 C769.8,1582.93 770.88,1582 771.8,1582 C772.72,1582 773.47,1582.93 774.3,1583.4 C775.13,1583.87 775.76,1584.3 776.8,1584.8 C777.84,1585.3 779.3,1585.87 780.55,1586.4 C781.8,1586.93 783.05,1587.47 784.3,1588 C785.55,1588.53 786.8,1589.07 788.05,1589.6 C789.3,1590.13 790.72,1590.72 791.8,1591.2 C792.88,1591.68 793.63,1592.07 794.55,1592.5 C795.47,1592.93 796.74,1593.17 797.3,1593.8 C797.86,1594.43 797.7,1595.47 797.9,1596.3 C798.1,1597.13 798.69,1597.97 798.5,1598.8 C798.31,1599.63 797.33,1600.45 796.75,1601.28 C796.17,1602.1 795.76,1602.87 795,1603.76 C794.25,1604.65 793.14,1605.66 792.21,1606.61 C791.28,1607.57 790.35,1608.52 789.42,1609.47 C788.5,1610.42 787.6,1611.41 786.64,1612.33 C785.67,1613.24 784.64,1614.09 783.64,1614.97 C782.65,1615.85 781.65,1616.74 780.65,1617.62 C779.66,1618.5 778.69,1619.42 777.66,1620.26 C776.63,1621.1 775.54,1621.87 774.48,1622.68 C773.42,1623.48 772.36,1624.29 771.31,1625.1 C770.25,1625.9 769.21,1626.75 768.13,1627.51 C767.04,1628.28 765.9,1628.96 764.78,1629.69 C763.66,1630.42 762.55,1631.14 761.43,1631.87 C760.32,1632.59 759.23,1633.36 758.09,1634.04 C756.94,1634.73 755.75,1635.33 754.59,1635.97 C753.42,1636.61 752.26,1637.25 751.09,1637.89 C749.92,1638.54 748.78,1639.22 747.59,1639.82 C746.4,1640.42 745.17,1640.93 743.96,1641.48 C742.75,1642.04 741.54,1642.59 740.33,1643.14 C739.12,1643.7 738.07,1644.42 736.7,1644.81 C735.33,1645.2 733.35,1645.57 732.1,1645.5 Z" fill="none" stroke="#000" stroke-width="10.3" stroke-linejoin="round"/><path d="M732.1,1645.5 C730.85,1645.43 730.17,1644.77 729.2,1644.4 C728.23,1644.03 726.78,1644.03 726.3,1643.3 C725.82,1642.58 726.3,1641.13 726.3,1640.05 C726.3,1638.97 726.37,1637.95 726.3,1636.8 C726.23,1635.65 726.01,1634.36 725.87,1633.13 C725.72,1631.91 725.58,1630.69 725.43,1629.47 C725.29,1628.24 725.11,1627.08 725,1625.8 C724.89,1624.52 724.83,1623.13 724.75,1621.8 C724.67,1620.47 724.31,1618.93 724.5,1617.8 C724.69,1616.68 725.43,1615.97 725.9,1615.05 C726.37,1614.13 726.5,1613.05 727.3,1612.3 C728.1,1611.55 729.57,1611.12 730.7,1610.53 C731.83,1609.94 732.97,1609.36 734.1,1608.77 C735.23,1608.18 736.3,1607.7 737.5,1607 C738.7,1606.3 740.05,1605.38 741.33,1604.58 C742.6,1603.77 743.88,1602.96 745.15,1602.15 C746.42,1601.34 747.7,1600.53 748.97,1599.73 C750.25,1598.92 751.62,1598.23 752.8,1597.3 C753.98,1596.38 754.97,1595.22 756.05,1594.18 C757.13,1593.13 758.22,1592.09 759.3,1591.05 C760.38,1590.01 761.47,1588.97 762.55,1587.93 C763.63,1586.88 764.76,1585.55 765.8,1584.8 C766.84,1584.05 767.8,1583.87 768.8,1583.4 C769.8,1582.93 770.88,1582 771.8,1582 C772.72,1582 773.47,1582.93 774.3,1583.4 C775.13,1583.87 775.76,1584.3 776.8,1584.8 C777.84,1585.3 779.3,1585.87 780.55,1586.4 C781.8,1586.93 783.05,1587.47 784.3,1588 C785.55,1588.53 786.8,1589.07 788.05,1589.6 C789.3,1590.13 790.72,1590.72 791.8,1591.2 C792.88,1591.68 793.63,1592.07 794.55,1592.5 C795.47,1592.93 796.74,1593.17 797.3,1593.8 C797.86,1594.43 797.7,1595.47 797.9,1596.3 C798.1,1597.13 798.69,1597.97 798.5,1598.8 C798.31,1599.63 797.33,1600.45 796.75,1601.28 C796.17,1602.1 795.76,1602.87 795,1603.76 C794.25,1604.65 793.14,1605.66 792.21,1606.61 C791.28,1607.57 790.35,1608.52 789.42,1609.47 C788.5,1610.42 787.6,1611.41 786.64,1612.33 C785.67,1613.24 784.64,1614.09 783.64,1614.97 C782.65,1615.85 781.65,1616.74 780.65,1617.62 C779.66,1618.5 778.69,1619.42 777.66,1620.26 C776.63,1621.1 775.54,1621.87 774.48,1622.68 C773.42,1623.48 772.36,1624.29 771.31,1625.1 C770.25,1625.9 769.21,1626.75 768.13,1627.51 C767.04,1628.28 765.9,1628.96 764.78,1629.69 C763.66,1630.42 762.55,1631.14 761.43,1631.87 C760.32,1632.59 759.23,1633.36 758.09,1634.04 C756.94,1634.73 755.75,1635.33 754.59,1635.97 C753.42,1636.61 752.26,1637.25 751.09,1637.89 C749.92,1638.54 748.78,1639.22 747.59,1639.82 C746.4,1640.42 745.17,1640.93 743.96,1641.48 C742.75,1642.04 741.54,1642.59 740.33,1643.14 C739.12,1643.7 738.07,1644.42 736.7,1644.81 C735.33,1645.2 733.35,1645.57 732.1,1645.5 Z" fill="none" stroke="#fff" stroke-width="7.7" stroke-linejoin="round"/></g>
<path d="M732.1,1645.5 C730.85,1645.43 730.17,1644.77 729.2,1644.4 C728.23,1644.03 726.78,1644.03 726.3,1643.3 C725.82,1642.58 726.3,1641.13 726.3,1640.05 C726.3,1638.97 726.37,1637.95 726.3,1636.8 C726.23,1635.65 726.01,1634.36 725.87,1633.13 C725.72,1631.91 725.58,1630.69 725.43,1629.47 C725.29,1628.24 725.11,1627.08 725,1625.8 C724.89,1624.52 724.83,1623.13 724.75,1621.8 C724.67,1620.47 724.31,1618.93 724.5,1617.8 C724.69,1616.68 725.43,1615.97 725.9,1615.05 C726.37,1614.13 726.5,1613.05 727.3,1612.3 C728.1,1611.55 729.57,1611.12 730.7,1610.53 C731.83,1609.94 732.97,1609.36 734.1,1608.77 C735.23,1608.18 736.3,1607.7 737.5,1607 C738.7,1606.3 740.05,1605.38 741.33,1604.58 C742.6,1603.77 743.88,1602.96 745.15,1602.15 C746.42,1601.34 747.7,1600.53 748.97,1599.73 C750.25,1598.92 751.62,1598.23 752.8,1597.3 C753.98,1596.38 754.97,1595.22 756.05,1594.18 C757.13,1593.13 758.22,1592.09 759.3,1591.05 C760.38,1590.01 761.47,1588.97 762.55,1587.93 C763.63,1586.88 764.76,1585.55 765.8,1584.8 C766.84,1584.05 767.8,1583.87 768.8,1583.4 C769.8,1582.93 770.88,1582 771.8,1582 C772.72,1582 773.47,1582.93 774.3,1583.4 C775.13,1583.87 775.76,1584.3 776.8,1584.8 C777.84,1585.3 779.3,1585.87 780.55,1586.4 C781.8,1586.93 783.05,1587.47 784.3,1588 C785.55,1588.53 786.8,1589.07 788.05,1589.6 C789.3,1590.13 790.72,1590.72 791.8,1591.2 C792.88,1591.68 793.63,1592.07 794.55,1592.5 C795.47,1592.93 796.74,1593.17 797.3,1593.8 C797.86,1594.43 797.7,1595.47 797.9,1596.3 C798.1,1597.13 798.69,1597.97 798.5,1598.8 C798.31,1599.63 797.33,1600.45 796.75,1601.28 C796.17,1602.1 795.76,1602.87 795,1603.76 C794.25,1604.65 793.14,1605.66 792.21,1606.61 C791.28,1607.57 790.35,1608.52 789.42,1609.47 C788.5,1610.42 787.6,1611.41 786.64,1612.33 C785.67,1613.24 784.64,1614.09 783.64,1614.97 C782.65,1615.85 781.65,1616.74 780.65,1617.62 C779.66,1618.5 778.69,1619.42 777.66,1620.26 C776.63,1621.1 775.54,1621.87 774.48,1622.68 C773.42,1623.48 772.36,1624.29 771.31,1625.1 C770.25,1625.9 769.21,1626.75 768.13,1627.51 C767.04,1628.28 765.9,1628.96 764.78,1629.69 C763.66,1630.42 762.55,1631.14 761.43,1631.87 C760.32,1632.59 759.23,1633.36 758.09,1634.04 C756.94,1634.73 755.75,1635.33 754.59,1635.97 C753.42,1636.61 752.26,1637.25 751.09,1637.89 C749.92,1638.54 748.78,1639.22 747.59,1639.82 C746.4,1640.42 745.17,1640.93 743.96,1641.48 C742.75,1642.04 741.54,1642.59 740.33,1643.14 C739.12,1643.7 738.07,1644.42 736.7,1644.81 C735.33,1645.2 733.35,1645.57 732.1,1645.5 Z" fill="none" stroke="#000" stroke-width="2.0" stroke-linejoin="round"/>
<clipPath id="cp3"><path d="M521.5,1438.8 C522.35,1438.13 524.07,1439.07 525.35,1439.2 C526.63,1439.33 527.99,1439 529.2,1439.6 C530.41,1440.2 531.47,1441.73 532.6,1442.8 C533.73,1443.87 534.79,1445.11 536,1446 C537.21,1446.89 538.56,1447.44 539.83,1448.17 C541.11,1448.89 542.39,1449.61 543.67,1450.33 C544.94,1451.06 546.6,1451.51 547.5,1452.5 C548.4,1453.49 548.53,1455 549.05,1456.25 C549.57,1457.5 550.43,1458.71 550.6,1460 C550.77,1461.29 550.25,1462.67 550.08,1464 C549.9,1465.33 549.72,1466.67 549.55,1468 C549.38,1469.33 549.2,1470.67 549.02,1472 C548.85,1473.33 548.68,1474.57 548.5,1476 C548.32,1477.43 548.13,1479.07 547.95,1480.6 C547.77,1482.13 547.58,1483.67 547.4,1485.2 C547.22,1486.73 547.03,1488.27 546.85,1489.8 C546.67,1491.33 546.3,1492.86 546.3,1494.4 C546.3,1495.94 546.67,1497.5 546.85,1499.05 C547.03,1500.6 547.22,1502.15 547.4,1503.7 C547.58,1505.25 547.77,1506.8 547.95,1508.35 C548.13,1509.9 548.32,1511.56 548.5,1513 C548.68,1514.44 548.85,1515.67 549.02,1517 C549.2,1518.33 549.38,1519.67 549.55,1521 C549.72,1522.33 549.9,1523.67 550.08,1525 C550.25,1526.33 550.77,1527.72 550.6,1529 C550.43,1530.28 549.57,1531.43 549.05,1532.65 C548.53,1533.87 548.4,1535.33 547.5,1536.3 C546.6,1537.27 544.94,1537.74 543.67,1538.47 C542.39,1539.19 541.11,1539.91 539.83,1540.63 C538.56,1541.36 537.21,1541.91 536,1542.8 C534.79,1543.69 533.73,1544.93 532.6,1546 C531.47,1547.07 530.41,1548.6 529.2,1549.2 C527.99,1549.8 526.63,1549.47 525.35,1549.6 C524.07,1549.73 522.35,1550.67 521.5,1550 C520.65,1549.33 520.66,1547.07 520.25,1545.61 C519.83,1544.14 519.41,1542.68 518.99,1541.21 C518.58,1539.75 518.12,1538.32 517.74,1536.82 C517.36,1535.31 517.05,1533.72 516.7,1532.17 C516.35,1530.61 516,1529.06 515.66,1527.51 C515.31,1525.96 514.89,1524.42 514.62,1522.86 C514.34,1521.3 514.2,1519.71 513.99,1518.14 C513.78,1516.56 513.57,1514.99 513.36,1513.41 C513.15,1511.84 512.87,1510.27 512.73,1508.69 C512.59,1507.11 512.59,1505.51 512.52,1503.92 C512.45,1502.34 512.38,1500.75 512.31,1499.16 C512.24,1497.57 512.1,1495.99 512.1,1494.4 C512.1,1492.81 512.24,1491.23 512.31,1489.64 C512.38,1488.05 512.45,1486.46 512.52,1484.88 C512.59,1483.29 512.59,1481.69 512.73,1480.11 C512.87,1478.53 513.15,1476.96 513.36,1475.39 C513.57,1473.81 513.78,1472.24 513.99,1470.66 C514.2,1469.09 514.34,1467.5 514.62,1465.94 C514.89,1464.38 515.31,1462.84 515.66,1461.29 C516,1459.74 516.35,1458.19 516.7,1456.63 C517.05,1455.08 517.36,1453.49 517.74,1451.98 C518.12,1450.48 518.58,1449.05 518.99,1447.59 C519.41,1446.12 519.83,1444.66 520.25,1443.19 C520.66,1441.73 520.65,1439.47 521.5,1438.8 Z"/></clipPath>
<g clip-path="url(#cp3)"><path d="M521.5,1438.8 C522.35,1438.13 524.07,1439.07 525.35,1439.2 C526.63,1439.33 527.99,1439 529.2,1439.6 C530.41,1440.2 531.47,1441.73 532.6,1442.8 C533.73,1443.87 534.79,1445.11 536,1446 C537.21,1446.89 538.56,1447.44 539.83,1448.17 C541.11,1448.89 542.39,1449.61 543.67,1450.33 C544.94,1451.06 546.6,1451.51 547.5,1452.5 C548.4,1453.49 548.53,1455 549.05,1456.25 C549.57,1457.5 550.43,1458.71 550.6,1460 C550.77,1461.29 550.25,1462.67 550.08,1464 C549.9,1465.33 549.72,1466.67 549.55,1468 C549.38,1469.33 549.2,1470.67 549.02,1472 C548.85,1473.33 548.68,1474.57 548.5,1476 C548.32,1477.43 548.13,1479.07 547.95,1480.6 C547.77,1482.13 547.58,1483.67 547.4,1485.2 C547.22,1486.73 547.03,1488.27 546.85,1489.8 C546.67,1491.33 546.3,1492.86 546.3,1494.4 C546.3,1495.94 546.67,1497.5 546.85,1499.05 C547.03,1500.6 547.22,1502.15 547.4,1503.7 C547.58,1505.25 547.77,1506.8 547.95,1508.35 C548.13,1509.9 548.32,1511.56 548.5,1513 C548.68,1514.44 548.85,1515.67 549.02,1517 C549.2,1518.33 549.38,1519.67 549.55,1521 C549.72,1522.33 549.9,1523.67 550.08,1525 C550.25,1526.33 550.77,1527.72 550.6,1529 C550.43,1530.28 549.57,1531.43 549.05,1532.65 C548.53,1533.87 548.4,1535.33 547.5,1536.3 C546.6,1537.27 544.94,1537.74 543.67,1538.47 C542.39,1539.19 541.11,1539.91 539.83,1540.63 C538.56,1541.36 537.21,1541.91 536,1542.8 C534.79,1543.69 533.73,1544.93 532.6,1546 C531.47,1547.07 530.41,1548.6 529.2,1549.2 C527.99,1549.8 526.63,1549.47 525.35,1549.6 C524.07,1549.73 522.35,1550.67 521.5,1550 C520.65,1549.33 520.66,1547.07 520.25,1545.61 C519.83,1544.14 519.41,1542.68 518.99,1541.21 C518.58,1539.75 518.12,1538.32 517.74,1536.82 C517.36,1535.31 517.05,1533.72 516.7,1532.17 C516.35,1530.61 516,1529.06 515.66,1527.51 C515.31,1525.96 514.89,1524.42 514.62,1522.86 C514.34,1521.3 514.2,1519.71 513.99,1518.14 C513.78,1516.56 513.57,1514.99 513.36,1513.41 C513.15,1511.84 512.87,1510.27 512.73,1508.69 C512.59,1507.11 512.59,1505.51 512.52,1503.92 C512.45,1502.34 512.38,1500.75 512.31,1499.16 C512.24,1497.57 512.1,1495.99 512.1,1494.4 C512.1,1492.81 512.24,1491.23 512.31,1489.64 C512.38,1488.05 512.45,1486.46 512.52,1484.88 C512.59,1483.29 512.59,1481.69 512.73,1480.11 C512.87,1478.53 513.15,1476.96 513.36,1475.39 C513.57,1473.81 513.78,1472.24 513.99,1470.66 C514.2,1469.09 514.34,1467.5 514.62,1465.94 C514.89,1464.38 515.31,1462.84 515.66,1461.29 C516,1459.74 516.35,1458.19 516.7,1456.63 C517.05,1455.08 517.36,1453.49 517.74,1451.98 C518.12,1450.48 518.58,1449.05 518.99,1447.59 C519.41,1446.12 519.83,1444.66 520.25,1443.19 C520.66,1441.73 520.65,1439.47 521.5,1438.8 Z" fill="none" stroke="#000" stroke-width="10.3" stroke-linejoin="round"/><path d="M521.5,1438.8 C522.35,1438.13 524.07,1439.07 525.35,1439.2 C526.63,1439.33 527.99,1439 529.2,1439.6 C530.41,1440.2 531.47,1441.73 532.6,1442.8 C533.73,1443.87 534.79,1445.11 536,1446 C537.21,1446.89 538.56,1447.44 539.83,1448.17 C541.11,1448.89 542.39,1449.61 543.67,1450.33 C544.94,1451.06 546.6,1451.51 547.5,1452.5 C548.4,1453.49 548.53,1455 549.05,1456.25 C549.57,1457.5 550.43,1458.71 550.6,1460 C550.77,1461.29 550.25,1462.67 550.08,1464 C549.9,1465.33 549.72,1466.67 549.55,1468 C549.38,1469.33 549.2,1470.67 549.02,1472 C548.85,1473.33 548.68,1474.57 548.5,1476 C548.32,1477.43 548.13,1479.07 547.95,1480.6 C547.77,1482.13 547.58,1483.67 547.4,1485.2 C547.22,1486.73 547.03,1488.27 546.85,1489.8 C546.67,1491.33 546.3,1492.86 546.3,1494.4 C546.3,1495.94 546.67,1497.5 546.85,1499.05 C547.03,1500.6 547.22,1502.15 547.4,1503.7 C547.58,1505.25 547.77,1506.8 547.95,1508.35 C548.13,1509.9 548.32,1511.56 548.5,1513 C548.68,1514.44 548.85,1515.67 549.02,1517 C549.2,1518.33 549.38,1519.67 549.55,1521 C549.72,1522.33 549.9,1523.67 550.08,1525 C550.25,1526.33 550.77,1527.72 550.6,1529 C550.43,1530.28 549.57,1531.43 549.05,1532.65 C548.53,1533.87 548.4,1535.33 547.5,1536.3 C546.6,1537.27 544.94,1537.74 543.67,1538.47 C542.39,1539.19 541.11,1539.91 539.83,1540.63 C538.56,1541.36 537.21,1541.91 536,1542.8 C534.79,1543.69 533.73,1544.93 532.6,1546 C531.47,1547.07 530.41,1548.6 529.2,1549.2 C527.99,1549.8 526.63,1549.47 525.35,1549.6 C524.07,1549.73 522.35,1550.67 521.5,1550 C520.65,1549.33 520.66,1547.07 520.25,1545.61 C519.83,1544.14 519.41,1542.68 518.99,1541.21 C518.58,1539.75 518.12,1538.32 517.74,1536.82 C517.36,1535.31 517.05,1533.72 516.7,1532.17 C516.35,1530.61 516,1529.06 515.66,1527.51 C515.31,1525.96 514.89,1524.42 514.62,1522.86 C514.34,1521.3 514.2,1519.71 513.99,1518.14 C513.78,1516.56 513.57,1514.99 513.36,1513.41 C513.15,1511.84 512.87,1510.27 512.73,1508.69 C512.59,1507.11 512.59,1505.51 512.52,1503.92 C512.45,1502.34 512.38,1500.75 512.31,1499.16 C512.24,1497.57 512.1,1495.99 512.1,1494.4 C512.1,1492.81 512.24,1491.23 512.31,1489.64 C512.38,1488.05 512.45,1486.46 512.52,1484.88 C512.59,1483.29 512.59,1481.69 512.73,1480.11 C512.87,1478.53 513.15,1476.96 513.36,1475.39 C513.57,1473.81 513.78,1472.24 513.99,1470.66 C514.2,1469.09 514.34,1467.5 514.62,1465.94 C514.89,1464.38 515.31,1462.84 515.66,1461.29 C516,1459.74 516.35,1458.19 516.7,1456.63 C517.05,1455.08 517.36,1453.49 517.74,1451.98 C518.12,1450.48 518.58,1449.05 518.99,1447.59 C519.41,1446.12 519.83,1444.66 520.25,1443.19 C520.66,1441.73 520.65,1439.47 521.5,1438.8 Z" fill="none" stroke="#fff" stroke-width="7.7" stroke-linejoin="round"/></g>
<path d="M521.5,1438.8 C522.35,1438.13 524.07,1439.07 525.35,1439.2 C526.63,1439.33 527.99,1439 529.2,1439.6 C530.41,1440.2 531.47,1441.73 532.6,1442.8 C533.73,1443.87 534.79,1445.11 536,1446 C537.21,1446.89 538.56,1447.44 539.83,1448.17 C541.11,1448.89 542.39,1449.61 543.67,1450.33 C544.94,1451.06 546.6,1451.51 547.5,1452.5 C548.4,1453.49 548.53,1455 549.05,1456.25 C549.57,1457.5 550.43,1458.71 550.6,1460 C550.77,1461.29 550.25,1462.67 550.08,1464 C549.9,1465.33 549.72,1466.67 549.55,1468 C549.38,1469.33 549.2,1470.67 549.02,1472 C548.85,1473.33 548.68,1474.57 548.5,1476 C548.32,1477.43 548.13,1479.07 547.95,1480.6 C547.77,1482.13 547.58,1483.67 547.4,1485.2 C547.22,1486.73 547.03,1488.27 546.85,1489.8 C546.67,1491.33 546.3,1492.86 546.3,1494.4 C546.3,1495.94 546.67,1497.5 546.85,1499.05 C547.03,1500.6 547.22,1502.15 547.4,1503.7 C547.58,1505.25 547.77,1506.8 547.95,1508.35 C548.13,1509.9 548.32,1511.56 548.5,1513 C548.68,1514.44 548.85,1515.67 549.02,1517 C549.2,1518.33 549.38,1519.67 549.55,1521 C549.72,1522.33 549.9,1523.67 550.08,1525 C550.25,1526.33 550.77,1527.72 550.6,1529 C550.43,1530.28 549.57,1531.43 549.05,1532.65 C548.53,1533.87 548.4,1535.33 547.5,1536.3 C546.6,1537.27 544.94,1537.74 543.67,1538.47 C542.39,1539.19 541.11,1539.91 539.83,1540.63 C538.56,1541.36 537.21,1541.91 536,1542.8 C534.79,1543.69 533.73,1544.93 532.6,1546 C531.47,1547.07 530.41,1548.6 529.2,1549.2 C527.99,1549.8 526.63,1549.47 525.35,1549.6 C524.07,1549.73 522.35,1550.67 521.5,1550 C520.65,1549.33 520.66,1547.07 520.25,1545.61 C519.83,1544.14 519.41,1542.68 518.99,1541.21 C518.58,1539.75 518.12,1538.32 517.74,1536.82 C517.36,1535.31 517.05,1533.72 516.7,1532.17 C516.35,1530.61 516,1529.06 515.66,1527.51 C515.31,1525.96 514.89,1524.42 514.62,1522.86 C514.34,1521.3 514.2,1519.71 513.99,1518.14 C513.78,1516.56 513.57,1514.99 513.36,1513.41 C513.15,1511.84 512.87,1510.27 512.73,1508.69 C512.59,1507.11 512.59,1505.51 512.52,1503.92 C512.45,1502.34 512.38,1500.75 512.31,1499.16 C512.24,1497.57 512.1,1495.99 512.1,1494.4 C512.1,1492.81 512.24,1491.23 512.31,1489.64 C512.38,1488.05 512.45,1486.46 512.52,1484.88 C512.59,1483.29 512.59,1481.69 512.73,1480.11 C512.87,1478.53 513.15,1476.96 513.36,1475.39 C513.57,1473.81 513.78,1472.24 513.99,1470.66 C514.2,1469.09 514.34,1467.5 514.62,1465.94 C514.89,1464.38 515.31,1462.84 515.66,1461.29 C516,1459.74 516.35,1458.19 516.7,1456.63 C517.05,1455.08 517.36,1453.49 517.74,1451.98 C518.12,1450.48 518.58,1449.05 518.99,1447.59 C519.41,1446.12 519.83,1444.66 520.25,1443.19 C520.66,1441.73 520.65,1439.47 521.5,1438.8 Z" fill="none" stroke="#000" stroke-width="2.0" stroke-linejoin="round"/>
<clipPath id="cp4"><path d="M827.3,1550 C826.45,1550.67 824.73,1549.73 823.45,1549.6 C822.17,1549.47 820.81,1549.8 819.6,1549.2 C818.39,1548.6 817.33,1547.07 816.2,1546 C815.07,1544.93 814.01,1543.69 812.8,1542.8 C811.59,1541.91 810.24,1541.36 808.97,1540.63 C807.69,1539.91 806.41,1539.19 805.13,1538.47 C803.86,1537.74 802.2,1537.29 801.3,1536.3 C800.4,1535.31 800.27,1533.8 799.75,1532.55 C799.23,1531.3 798.37,1530.09 798.2,1528.8 C798.03,1527.51 798.55,1526.13 798.72,1524.8 C798.9,1523.47 799.08,1522.13 799.25,1520.8 C799.42,1519.47 799.6,1518.13 799.77,1516.8 C799.95,1515.47 800.12,1514.23 800.3,1512.8 C800.48,1511.37 800.67,1509.73 800.85,1508.2 C801.03,1506.67 801.22,1505.13 801.4,1503.6 C801.58,1502.07 801.77,1500.53 801.95,1499 C802.13,1497.47 802.5,1495.94 802.5,1494.4 C802.5,1492.86 802.13,1491.3 801.95,1489.75 C801.77,1488.2 801.58,1486.65 801.4,1485.1 C801.22,1483.55 801.03,1482 800.85,1480.45 C800.67,1478.9 800.48,1477.24 800.3,1475.8 C800.12,1474.36 799.95,1473.13 799.77,1471.8 C799.6,1470.47 799.42,1469.13 799.25,1467.8 C799.08,1466.47 798.9,1465.13 798.72,1463.8 C798.55,1462.47 798.03,1461.08 798.2,1459.8 C798.37,1458.53 799.23,1457.37 799.75,1456.15 C800.27,1454.93 800.4,1453.47 801.3,1452.5 C802.2,1451.53 803.86,1451.06 805.13,1450.33 C806.41,1449.61 807.69,1448.89 808.97,1448.17 C810.24,1447.44 811.59,1446.89 812.8,1446 C814.01,1445.11 815.07,1443.87 816.2,1442.8 C817.33,1441.73 818.39,1440.2 819.6,1439.6 C820.81,1439 822.17,1439.33 823.45,1439.2 C824.73,1439.07 826.45,1438.13 827.3,1438.8 C828.15,1439.47 828.14,1441.73 828.55,1443.19 C828.97,1444.66 829.39,1446.12 829.81,1447.59 C830.22,1449.05 830.68,1450.48 831.06,1451.98 C831.44,1453.49 831.75,1455.08 832.1,1456.63 C832.45,1458.19 832.8,1459.74 833.14,1461.29 C833.49,1462.84 833.91,1464.38 834.18,1465.94 C834.46,1467.5 834.6,1469.09 834.81,1470.66 C835.02,1472.24 835.23,1473.81 835.44,1475.39 C835.65,1476.96 835.93,1478.53 836.07,1480.11 C836.21,1481.69 836.21,1483.29 836.28,1484.88 C836.35,1486.46 836.42,1488.05 836.49,1489.64 C836.56,1491.23 836.7,1492.81 836.7,1494.4 C836.7,1495.99 836.56,1497.57 836.49,1499.16 C836.42,1500.75 836.35,1502.34 836.28,1503.92 C836.21,1505.51 836.21,1507.11 836.07,1508.69 C835.93,1510.27 835.65,1511.84 835.44,1513.41 C835.23,1514.99 835.02,1516.56 834.81,1518.14 C834.6,1519.71 834.46,1521.3 834.18,1522.86 C833.91,1524.42 833.49,1525.96 833.14,1527.51 C832.8,1529.06 832.45,1530.61 832.1,1532.17 C831.75,1533.72 831.44,1535.31 831.06,1536.82 C830.68,1538.32 830.22,1539.75 829.81,1541.21 C829.39,1542.68 828.97,1544.14 828.55,1545.61 C828.14,1547.07 828.15,1549.33 827.3,1550 Z"/></clipPath>
<g clip-path="url(#cp4)"><path d="M827.3,1550 C826.45,1550.67 824.73,1549.73 823.45,1549.6 C822.17,1549.47 820.81,1549.8 819.6,1549.2 C818.39,1548.6 817.33,1547.07 816.2,1546 C815.07,1544.93 814.01,1543.69 812.8,1542.8 C811.59,1541.91 810.24,1541.36 808.97,1540.63 C807.69,1539.91 806.41,1539.19 805.13,1538.47 C803.86,1537.74 802.2,1537.29 801.3,1536.3 C800.4,1535.31 800.27,1533.8 799.75,1532.55 C799.23,1531.3 798.37,1530.09 798.2,1528.8 C798.03,1527.51 798.55,1526.13 798.72,1524.8 C798.9,1523.47 799.08,1522.13 799.25,1520.8 C799.42,1519.47 799.6,1518.13 799.77,1516.8 C799.95,1515.47 800.12,1514.23 800.3,1512.8 C800.48,1511.37 800.67,1509.73 800.85,1508.2 C801.03,1506.67 801.22,1505.13 801.4,1503.6 C801.58,1502.07 801.77,1500.53 801.95,1499 C802.13,1497.47 802.5,1495.94 802.5,1494.4 C802.5,1492.86 802.13,1491.3 801.95,1489.75 C801.77,1488.2 801.58,1486.65 801.4,1485.1 C801.22,1483.55 801.03,1482 800.85,1480.45 C800.67,1478.9 800.48,1477.24 800.3,1475.8 C800.12,1474.36 799.95,1473.13 799.77,1471.8 C799.6,1470.47 799.42,1469.13 799.25,1467.8 C799.08,1466.47 798.9,1465.13 798.72,1463.8 C798.55,1462.47 798.03,1461.08 798.2,1459.8 C798.37,1458.53 799.23,1457.37 799.75,1456.15 C800.27,1454.93 800.4,1453.47 801.3,1452.5 C802.2,1451.53 803.86,1451.06 805.13,1450.33 C806.41,1449.61 807.69,1448.89 808.97,1448.17 C810.24,1447.44 811.59,1446.89 812.8,1446 C814.01,1445.11 815.07,1443.87 816.2,1442.8 C817.33,1441.73 818.39,1440.2 819.6,1439.6 C820.81,1439 822.17,1439.33 823.45,1439.2 C824.73,1439.07 826.45,1438.13 827.3,1438.8 C828.15,1439.47 828.14,1441.73 828.55,1443.19 C828.97,1444.66 829.39,1446.12 829.81,1447.59 C830.22,1449.05 830.68,1450.48 831.06,1451.98 C831.44,1453.49 831.75,1455.08 832.1,1456.63 C832.45,1458.19 832.8,1459.74 833.14,1461.29 C833.49,1462.84 833.91,1464.38 834.18,1465.94 C834.46,1467.5 834.6,1469.09 834.81,1470.66 C835.02,1472.24 835.23,1473.81 835.44,1475.39 C835.65,1476.96 835.93,1478.53 836.07,1480.11 C836.21,1481.69 836.21,1483.29 836.28,1484.88 C836.35,1486.46 836.42,1488.05 836.49,1489.64 C836.56,1491.23 836.7,1492.81 836.7,1494.4 C836.7,1495.99 836.56,1497.57 836.49,1499.16 C836.42,1500.75 836.35,1502.34 836.28,1503.92 C836.21,1505.51 836.21,1507.11 836.07,1508.69 C835.93,1510.27 835.65,1511.84 835.44,1513.41 C835.23,1514.99 835.02,1516.56 834.81,1518.14 C834.6,1519.71 834.46,1521.3 834.18,1522.86 C833.91,1524.42 833.49,1525.96 833.14,1527.51 C832.8,1529.06 832.45,1530.61 832.1,1532.17 C831.75,1533.72 831.44,1535.31 831.06,1536.82 C830.68,1538.32 830.22,1539.75 829.81,1541.21 C829.39,1542.68 828.97,1544.14 828.55,1545.61 C828.14,1547.07 828.15,1549.33 827.3,1550 Z" fill="none" stroke="#000" stroke-width="10.3" stroke-linejoin="round"/><path d="M827.3,1550 C826.45,1550.67 824.73,1549.73 823.45,1549.6 C822.17,1549.47 820.81,1549.8 819.6,1549.2 C818.39,1548.6 817.33,1547.07 816.2,1546 C815.07,1544.93 814.01,1543.69 812.8,1542.8 C811.59,1541.91 810.24,1541.36 808.97,1540.63 C807.69,1539.91 806.41,1539.19 805.13,1538.47 C803.86,1537.74 802.2,1537.29 801.3,1536.3 C800.4,1535.31 800.27,1533.8 799.75,1532.55 C799.23,1531.3 798.37,1530.09 798.2,1528.8 C798.03,1527.51 798.55,1526.13 798.72,1524.8 C798.9,1523.47 799.08,1522.13 799.25,1520.8 C799.42,1519.47 799.6,1518.13 799.77,1516.8 C799.95,1515.47 800.12,1514.23 800.3,1512.8 C800.48,1511.37 800.67,1509.73 800.85,1508.2 C801.03,1506.67 801.22,1505.13 801.4,1503.6 C801.58,1502.07 801.77,1500.53 801.95,1499 C802.13,1497.47 802.5,1495.94 802.5,1494.4 C802.5,1492.86 802.13,1491.3 801.95,1489.75 C801.77,1488.2 801.58,1486.65 801.4,1485.1 C801.22,1483.55 801.03,1482 800.85,1480.45 C800.67,1478.9 800.48,1477.24 800.3,1475.8 C800.12,1474.36 799.95,1473.13 799.77,1471.8 C799.6,1470.47 799.42,1469.13 799.25,1467.8 C799.08,1466.47 798.9,1465.13 798.72,1463.8 C798.55,1462.47 798.03,1461.08 798.2,1459.8 C798.37,1458.53 799.23,1457.37 799.75,1456.15 C800.27,1454.93 800.4,1453.47 801.3,1452.5 C802.2,1451.53 803.86,1451.06 805.13,1450.33 C806.41,1449.61 807.69,1448.89 808.97,1448.17 C810.24,1447.44 811.59,1446.89 812.8,1446 C814.01,1445.11 815.07,1443.87 816.2,1442.8 C817.33,1441.73 818.39,1440.2 819.6,1439.6 C820.81,1439 822.17,1439.33 823.45,1439.2 C824.73,1439.07 826.45,1438.13 827.3,1438.8 C828.15,1439.47 828.14,1441.73 828.55,1443.19 C828.97,1444.66 829.39,1446.12 829.81,1447.59 C830.22,1449.05 830.68,1450.48 831.06,1451.98 C831.44,1453.49 831.75,1455.08 832.1,1456.63 C832.45,1458.19 832.8,1459.74 833.14,1461.29 C833.49,1462.84 833.91,1464.38 834.18,1465.94 C834.46,1467.5 834.6,1469.09 834.81,1470.66 C835.02,1472.24 835.23,1473.81 835.44,1475.39 C835.65,1476.96 835.93,1478.53 836.07,1480.11 C836.21,1481.69 836.21,1483.29 836.28,1484.88 C836.35,1486.46 836.42,1488.05 836.49,1489.64 C836.56,1491.23 836.7,1492.81 836.7,1494.4 C836.7,1495.99 836.56,1497.57 836.49,1499.16 C836.42,1500.75 836.35,1502.34 836.28,1503.92 C836.21,1505.51 836.21,1507.11 836.07,1508.69 C835.93,1510.27 835.65,1511.84 835.44,1513.41 C835.23,1514.99 835.02,1516.56 834.81,1518.14 C834.6,1519.71 834.46,1521.3 834.18,1522.86 C833.91,1524.42 833.49,1525.96 833.14,1527.51 C832.8,1529.06 832.45,1530.61 832.1,1532.17 C831.75,1533.72 831.44,1535.31 831.06,1536.82 C830.68,1538.32 830.22,1539.75 829.81,1541.21 C829.39,1542.68 828.97,1544.14 828.55,1545.61 C828.14,1547.07 828.15,1549.33 827.3,1550 Z" fill="none" stroke="#fff" stroke-width="7.7" stroke-linejoin="round"/></g>
<path d="M827.3,1550 C826.45,1550.67 824.73,1549.73 823.45,1549.6 C822.17,1549.47 820.81,1549.8 819.6,1549.2 C818.39,1548.6 817.33,1547.07 816.2,1546 C815.07,1544.93 814.01,1543.69 812.8,1542.8 C811.59,1541.91 810.24,1541.36 808.97,1540.63 C807.69,1539.91 806.41,1539.19 805.13,1538.47 C803.86,1537.74 802.2,1537.29 801.3,1536.3 C800.4,1535.31 800.27,1533.8 799.75,1532.55 C799.23,1531.3 798.37,1530.09 798.2,1528.8 C798.03,1527.51 798.55,1526.13 798.72,1524.8 C798.9,1523.47 799.08,1522.13 799.25,1520.8 C799.42,1519.47 799.6,1518.13 799.77,1516.8 C799.95,1515.47 800.12,1514.23 800.3,1512.8 C800.48,1511.37 800.67,1509.73 800.85,1508.2 C801.03,1506.67 801.22,1505.13 801.4,1503.6 C801.58,1502.07 801.77,1500.53 801.95,1499 C802.13,1497.47 802.5,1495.94 802.5,1494.4 C802.5,1492.86 802.13,1491.3 801.95,1489.75 C801.77,1488.2 801.58,1486.65 801.4,1485.1 C801.22,1483.55 801.03,1482 800.85,1480.45 C800.67,1478.9 800.48,1477.24 800.3,1475.8 C800.12,1474.36 799.95,1473.13 799.77,1471.8 C799.6,1470.47 799.42,1469.13 799.25,1467.8 C799.08,1466.47 798.9,1465.13 798.72,1463.8 C798.55,1462.47 798.03,1461.08 798.2,1459.8 C798.37,1458.53 799.23,1457.37 799.75,1456.15 C800.27,1454.93 800.4,1453.47 801.3,1452.5 C802.2,1451.53 803.86,1451.06 805.13,1450.33 C806.41,1449.61 807.69,1448.89 808.97,1448.17 C810.24,1447.44 811.59,1446.89 812.8,1446 C814.01,1445.11 815.07,1443.87 816.2,1442.8 C817.33,1441.73 818.39,1440.2 819.6,1439.6 C820.81,1439 822.17,1439.33 823.45,1439.2 C824.73,1439.07 826.45,1438.13 827.3,1438.8 C828.15,1439.47 828.14,1441.73 828.55,1443.19 C828.97,1444.66 829.39,1446.12 829.81,1447.59 C830.22,1449.05 830.68,1450.48 831.06,1451.98 C831.44,1453.49 831.75,1455.08 832.1,1456.63 C832.45,1458.19 832.8,1459.74 833.14,1461.29 C833.49,1462.84 833.91,1464.38 834.18,1465.94 C834.46,1467.5 834.6,1469.09 834.81,1470.66 C835.02,1472.24 835.23,1473.81 835.44,1475.39 C835.65,1476.96 835.93,1478.53 836.07,1480.11 C836.21,1481.69 836.21,1483.29 836.28,1484.88 C836.35,1486.46 836.42,1488.05 836.49,1489.64 C836.56,1491.23 836.7,1492.81 836.7,1494.4 C836.7,1495.99 836.56,1497.57 836.49,1499.16 C836.42,1500.75 836.35,1502.34 836.28,1503.92 C836.21,1505.51 836.21,1507.11 836.07,1508.69 C835.93,1510.27 835.65,1511.84 835.44,1513.41 C835.23,1514.99 835.02,1516.56 834.81,1518.14 C834.6,1519.71 834.46,1521.3 834.18,1522.86 C833.91,1524.42 833.49,1525.96 833.14,1527.51 C832.8,1529.06 832.45,1530.61 832.1,1532.17 C831.75,1533.72 831.44,1535.31 831.06,1536.82 C830.68,1538.32 830.22,1539.75 829.81,1541.21 C829.39,1542.68 828.97,1544.14 828.55,1545.61 C828.14,1547.07 828.15,1549.33 827.3,1550 Z" fill="none" stroke="#000" stroke-width="2.0" stroke-linejoin="round"/>
<clipPath id="cp5"><path d="M670.8,1336.6 C670.85,1335.18 671.55,1333.35 672.5,1332.5 C673.45,1331.65 675.15,1331.48 676.5,1331.5 C677.85,1331.52 679.15,1332.33 680.6,1332.6 C682.05,1332.87 683.66,1332.95 685.2,1333.12 C686.73,1333.29 688.26,1333.47 689.79,1333.64 C691.32,1333.81 692.86,1333.99 694.39,1334.16 C695.92,1334.33 697.41,1334.43 698.98,1334.68 C700.56,1334.93 702.21,1335.33 703.82,1335.65 C705.43,1335.98 707.05,1336.3 708.66,1336.63 C710.27,1336.95 711.9,1337.2 713.49,1337.6 C715.09,1338 716.65,1338.54 718.22,1339.01 C719.8,1339.48 721.37,1339.95 722.95,1340.42 C724.53,1340.89 726.13,1341.29 727.68,1341.84 C729.23,1342.38 730.73,1343.06 732.26,1343.67 C733.78,1344.29 735.31,1344.9 736.84,1345.51 C738.36,1346.12 739.92,1346.67 741.41,1347.35 C742.91,1348.03 744.34,1348.85 745.81,1349.6 C747.27,1350.35 748.73,1351.1 750.2,1351.85 C751.66,1352.6 753.16,1353.28 754.59,1354.1 C756.02,1354.91 757.37,1355.86 758.76,1356.74 C760.14,1357.62 761.53,1358.5 762.92,1359.38 C764.31,1360.26 765.74,1361.08 767.09,1362.03 C768.44,1362.97 769.7,1364.03 771,1365.04 C772.3,1366.04 773.6,1367.05 774.91,1368.05 C776.21,1369.05 777.56,1370 778.81,1371.06 C780.07,1372.12 781.22,1373.3 782.43,1374.42 C783.63,1375.54 784.84,1376.66 786.05,1377.78 C787.25,1378.89 788.61,1380.07 789.66,1381.13 C790.72,1382.2 791.47,1383.15 792.37,1384.16 C793.28,1385.16 794.18,1386.17 795.09,1387.18 C795.99,1388.19 797.38,1389.27 797.8,1390.2 C798.22,1391.13 797.67,1391.9 797.6,1392.75 C797.53,1393.6 798,1394.51 797.4,1395.3 C796.8,1396.09 795.13,1397.09 794,1397.5 C792.87,1397.91 791.73,1397.68 790.6,1397.77 C789.47,1397.86 788.33,1397.94 787.2,1398.03 C786.07,1398.12 784.85,1398.06 783.8,1398.3 C782.75,1398.54 781.87,1399.07 780.9,1399.45 C779.93,1399.83 778.84,1400.01 778,1400.6 C777.16,1401.19 776.57,1402.2 775.85,1403 C775.13,1403.8 774.66,1404.73 773.7,1405.4 C772.74,1406.07 771.22,1407 770.1,1407 C768.98,1407 767.74,1406.15 767,1405.4 C766.26,1404.65 766.1,1403.47 765.65,1402.5 C765.2,1401.53 765.01,1400.47 764.3,1399.6 C763.59,1398.73 762.37,1398.04 761.4,1397.27 C760.43,1396.49 759.47,1395.71 758.5,1394.93 C757.53,1394.16 756.69,1393.12 755.6,1392.6 C754.51,1392.08 753.18,1392.09 751.97,1391.83 C750.76,1391.58 749.54,1391.32 748.33,1391.07 C747.12,1390.81 745.84,1390.89 744.7,1390.3 C743.56,1389.71 742.5,1388.62 741.5,1387.5 C740.5,1386.38 739.63,1384.88 738.7,1383.57 C737.77,1382.26 736.83,1380.94 735.9,1379.63 C734.97,1378.32 734.05,1376.79 733.1,1375.7 C732.15,1374.61 731.17,1373.94 730.2,1373.07 C729.23,1372.19 728.27,1371.31 727.3,1370.43 C726.33,1369.56 725.61,1368.42 724.4,1367.8 C723.19,1367.18 721.51,1367.09 720.07,1366.73 C718.62,1366.38 717.18,1366.02 715.73,1365.67 C714.29,1365.31 712.61,1364.47 711.4,1364.6 C710.19,1364.73 709.47,1365.83 708.5,1366.45 C707.53,1367.07 706.73,1368.05 705.6,1368.3 C704.47,1368.55 703.02,1368.06 701.73,1367.93 C700.44,1367.81 699.16,1367.69 697.87,1367.57 C696.58,1367.44 695.29,1367.31 694,1367.2 C692.71,1367.09 691.42,1367 690.13,1366.9 C688.84,1366.8 687.56,1366.7 686.27,1366.6 C684.98,1366.5 683.64,1366.83 682.4,1366.3 C681.16,1365.77 679.47,1364.37 678.8,1363.4 C678.13,1362.43 678.53,1361.47 678.4,1360.5 C678.27,1359.53 678.18,1358.69 678,1357.6 C677.82,1356.51 677.53,1355.18 677.3,1353.97 C677.07,1352.76 676.83,1351.54 676.6,1350.33 C676.37,1349.12 676.33,1347.78 675.9,1346.7 C675.47,1345.62 674.67,1344.8 674.05,1343.85 C673.43,1342.9 672.74,1342.21 672.2,1341 C671.66,1339.79 670.75,1338.02 670.8,1336.6 Z"/></clipPath>
<g clip-path="url(#cp5)"><path d="M670.8,1336.6 C670.85,1335.18 671.55,1333.35 672.5,1332.5 C673.45,1331.65 675.15,1331.48 676.5,1331.5 C677.85,1331.52 679.15,1332.33 680.6,1332.6 C682.05,1332.87 683.66,1332.95 685.2,1333.12 C686.73,1333.29 688.26,1333.47 689.79,1333.64 C691.32,1333.81 692.86,1333.99 694.39,1334.16 C695.92,1334.33 697.41,1334.43 698.98,1334.68 C700.56,1334.93 702.21,1335.33 703.82,1335.65 C705.43,1335.98 707.05,1336.3 708.66,1336.63 C710.27,1336.95 711.9,1337.2 713.49,1337.6 C715.09,1338 716.65,1338.54 718.22,1339.01 C719.8,1339.48 721.37,1339.95 722.95,1340.42 C724.53,1340.89 726.13,1341.29 727.68,1341.84 C729.23,1342.38 730.73,1343.06 732.26,1343.67 C733.78,1344.29 735.31,1344.9 736.84,1345.51 C738.36,1346.12 739.92,1346.67 741.41,1347.35 C742.91,1348.03 744.34,1348.85 745.81,1349.6 C747.27,1350.35 748.73,1351.1 750.2,1351.85 C751.66,1352.6 753.16,1353.28 754.59,1354.1 C756.02,1354.91 757.37,1355.86 758.76,1356.74 C760.14,1357.62 761.53,1358.5 762.92,1359.38 C764.31,1360.26 765.74,1361.08 767.09,1362.03 C768.44,1362.97 769.7,1364.03 771,1365.04 C772.3,1366.04 773.6,1367.05 774.91,1368.05 C776.21,1369.05 777.56,1370 778.81,1371.06 C780.07,1372.12 781.22,1373.3 782.43,1374.42 C783.63,1375.54 784.84,1376.66 786.05,1377.78 C787.25,1378.89 788.61,1380.07 789.66,1381.13 C790.72,1382.2 791.47,1383.15 792.37,1384.16 C793.28,1385.16 794.18,1386.17 795.09,1387.18 C795.99,1388.19 797.38,1389.27 797.8,1390.2 C798.22,1391.13 797.67,1391.9 797.6,1392.75 C797.53,1393.6 798,1394.51 797.4,1395.3 C796.8,1396.09 795.13,1397.09 794,1397.5 C792.87,1397.91 791.73,1397.68 790.6,1397.77 C789.47,1397.86 788.33,1397.94 787.2,1398.03 C786.07,1398.12 784.85,1398.06 783.8,1398.3 C782.75,1398.54 781.87,1399.07 780.9,1399.45 C779.93,1399.83 778.84,1400.01 778,1400.6 C777.16,1401.19 776.57,1402.2 775.85,1403 C775.13,1403.8 774.66,1404.73 773.7,1405.4 C772.74,1406.07 771.22,1407 770.1,1407 C768.98,1407 767.74,1406.15 767,1405.4 C766.26,1404.65 766.1,1403.47 765.65,1402.5 C765.2,1401.53 765.01,1400.47 764.3,1399.6 C763.59,1398.73 762.37,1398.04 761.4,1397.27 C760.43,1396.49 759.47,1395.71 758.5,1394.93 C757.53,1394.16 756.69,1393.12 755.6,1392.6 C754.51,1392.08 753.18,1392.09 751.97,1391.83 C750.76,1391.58 749.54,1391.32 748.33,1391.07 C747.12,1390.81 745.84,1390.89 744.7,1390.3 C743.56,1389.71 742.5,1388.62 741.5,1387.5 C740.5,1386.38 739.63,1384.88 738.7,1383.57 C737.77,1382.26 736.83,1380.94 735.9,1379.63 C734.97,1378.32 734.05,1376.79 733.1,1375.7 C732.15,1374.61 731.17,1373.94 730.2,1373.07 C729.23,1372.19 728.27,1371.31 727.3,1370.43 C726.33,1369.56 725.61,1368.42 724.4,1367.8 C723.19,1367.18 721.51,1367.09 720.07,1366.73 C718.62,1366.38 717.18,1366.02 715.73,1365.67 C714.29,1365.31 712.61,1364.47 711.4,1364.6 C710.19,1364.73 709.47,1365.83 708.5,1366.45 C707.53,1367.07 706.73,1368.05 705.6,1368.3 C704.47,1368.55 703.02,1368.06 701.73,1367.93 C700.44,1367.81 699.16,1367.69 697.87,1367.57 C696.58,1367.44 695.29,1367.31 694,1367.2 C692.71,1367.09 691.42,1367 690.13,1366.9 C688.84,1366.8 687.56,1366.7 686.27,1366.6 C684.98,1366.5 683.64,1366.83 682.4,1366.3 C681.16,1365.77 679.47,1364.37 678.8,1363.4 C678.13,1362.43 678.53,1361.47 678.4,1360.5 C678.27,1359.53 678.18,1358.69 678,1357.6 C677.82,1356.51 677.53,1355.18 677.3,1353.97 C677.07,1352.76 676.83,1351.54 676.6,1350.33 C676.37,1349.12 676.33,1347.78 675.9,1346.7 C675.47,1345.62 674.67,1344.8 674.05,1343.85 C673.43,1342.9 672.74,1342.21 672.2,1341 C671.66,1339.79 670.75,1338.02 670.8,1336.6 Z" fill="none" stroke="#000" stroke-width="9.7" stroke-linejoin="round"/><path d="M670.8,1336.6 C670.85,1335.18 671.55,1333.35 672.5,1332.5 C673.45,1331.65 675.15,1331.48 676.5,1331.5 C677.85,1331.52 679.15,1332.33 680.6,1332.6 C682.05,1332.87 683.66,1332.95 685.2,1333.12 C686.73,1333.29 688.26,1333.47 689.79,1333.64 C691.32,1333.81 692.86,1333.99 694.39,1334.16 C695.92,1334.33 697.41,1334.43 698.98,1334.68 C700.56,1334.93 702.21,1335.33 703.82,1335.65 C705.43,1335.98 707.05,1336.3 708.66,1336.63 C710.27,1336.95 711.9,1337.2 713.49,1337.6 C715.09,1338 716.65,1338.54 718.22,1339.01 C719.8,1339.48 721.37,1339.95 722.95,1340.42 C724.53,1340.89 726.13,1341.29 727.68,1341.84 C729.23,1342.38 730.73,1343.06 732.26,1343.67 C733.78,1344.29 735.31,1344.9 736.84,1345.51 C738.36,1346.12 739.92,1346.67 741.41,1347.35 C742.91,1348.03 744.34,1348.85 745.81,1349.6 C747.27,1350.35 748.73,1351.1 750.2,1351.85 C751.66,1352.6 753.16,1353.28 754.59,1354.1 C756.02,1354.91 757.37,1355.86 758.76,1356.74 C760.14,1357.62 761.53,1358.5 762.92,1359.38 C764.31,1360.26 765.74,1361.08 767.09,1362.03 C768.44,1362.97 769.7,1364.03 771,1365.04 C772.3,1366.04 773.6,1367.05 774.91,1368.05 C776.21,1369.05 777.56,1370 778.81,1371.06 C780.07,1372.12 781.22,1373.3 782.43,1374.42 C783.63,1375.54 784.84,1376.66 786.05,1377.78 C787.25,1378.89 788.61,1380.07 789.66,1381.13 C790.72,1382.2 791.47,1383.15 792.37,1384.16 C793.28,1385.16 794.18,1386.17 795.09,1387.18 C795.99,1388.19 797.38,1389.27 797.8,1390.2 C798.22,1391.13 797.67,1391.9 797.6,1392.75 C797.53,1393.6 798,1394.51 797.4,1395.3 C796.8,1396.09 795.13,1397.09 794,1397.5 C792.87,1397.91 791.73,1397.68 790.6,1397.77 C789.47,1397.86 788.33,1397.94 787.2,1398.03 C786.07,1398.12 784.85,1398.06 783.8,1398.3 C782.75,1398.54 781.87,1399.07 780.9,1399.45 C779.93,1399.83 778.84,1400.01 778,1400.6 C777.16,1401.19 776.57,1402.2 775.85,1403 C775.13,1403.8 774.66,1404.73 773.7,1405.4 C772.74,1406.07 771.22,1407 770.1,1407 C768.98,1407 767.74,1406.15 767,1405.4 C766.26,1404.65 766.1,1403.47 765.65,1402.5 C765.2,1401.53 765.01,1400.47 764.3,1399.6 C763.59,1398.73 762.37,1398.04 761.4,1397.27 C760.43,1396.49 759.47,1395.71 758.5,1394.93 C757.53,1394.16 756.69,1393.12 755.6,1392.6 C754.51,1392.08 753.18,1392.09 751.97,1391.83 C750.76,1391.58 749.54,1391.32 748.33,1391.07 C747.12,1390.81 745.84,1390.89 744.7,1390.3 C743.56,1389.71 742.5,1388.62 741.5,1387.5 C740.5,1386.38 739.63,1384.88 738.7,1383.57 C737.77,1382.26 736.83,1380.94 735.9,1379.63 C734.97,1378.32 734.05,1376.79 733.1,1375.7 C732.15,1374.61 731.17,1373.94 730.2,1373.07 C729.23,1372.19 728.27,1371.31 727.3,1370.43 C726.33,1369.56 725.61,1368.42 724.4,1367.8 C723.19,1367.18 721.51,1367.09 720.07,1366.73 C718.62,1366.38 717.18,1366.02 715.73,1365.67 C714.29,1365.31 712.61,1364.47 711.4,1364.6 C710.19,1364.73 709.47,1365.83 708.5,1366.45 C707.53,1367.07 706.73,1368.05 705.6,1368.3 C704.47,1368.55 703.02,1368.06 701.73,1367.93 C700.44,1367.81 699.16,1367.69 697.87,1367.57 C696.58,1367.44 695.29,1367.31 694,1367.2 C692.71,1367.09 691.42,1367 690.13,1366.9 C688.84,1366.8 687.56,1366.7 686.27,1366.6 C684.98,1366.5 683.64,1366.83 682.4,1366.3 C681.16,1365.77 679.47,1364.37 678.8,1363.4 C678.13,1362.43 678.53,1361.47 678.4,1360.5 C678.27,1359.53 678.18,1358.69 678,1357.6 C677.82,1356.51 677.53,1355.18 677.3,1353.97 C677.07,1352.76 676.83,1351.54 676.6,1350.33 C676.37,1349.12 676.33,1347.78 675.9,1346.7 C675.47,1345.62 674.67,1344.8 674.05,1343.85 C673.43,1342.9 672.74,1342.21 672.2,1341 C671.66,1339.79 670.75,1338.02 670.8,1336.6 Z" fill="none" stroke="#fff" stroke-width="7.1" stroke-linejoin="round"/></g>
<path d="M670.8,1336.6 C670.85,1335.18 671.55,1333.35 672.5,1332.5 C673.45,1331.65 675.15,1331.48 676.5,1331.5 C677.85,1331.52 679.15,1332.33 680.6,1332.6 C682.05,1332.87 683.66,1332.95 685.2,1333.12 C686.73,1333.29 688.26,1333.47 689.79,1333.64 C691.32,1333.81 692.86,1333.99 694.39,1334.16 C695.92,1334.33 697.41,1334.43 698.98,1334.68 C700.56,1334.93 702.21,1335.33 703.82,1335.65 C705.43,1335.98 707.05,1336.3 708.66,1336.63 C710.27,1336.95 711.9,1337.2 713.49,1337.6 C715.09,1338 716.65,1338.54 718.22,1339.01 C719.8,1339.48 721.37,1339.95 722.95,1340.42 C724.53,1340.89 726.13,1341.29 727.68,1341.84 C729.23,1342.38 730.73,1343.06 732.26,1343.67 C733.78,1344.29 735.31,1344.9 736.84,1345.51 C738.36,1346.12 739.92,1346.67 741.41,1347.35 C742.91,1348.03 744.34,1348.85 745.81,1349.6 C747.27,1350.35 748.73,1351.1 750.2,1351.85 C751.66,1352.6 753.16,1353.28 754.59,1354.1 C756.02,1354.91 757.37,1355.86 758.76,1356.74 C760.14,1357.62 761.53,1358.5 762.92,1359.38 C764.31,1360.26 765.74,1361.08 767.09,1362.03 C768.44,1362.97 769.7,1364.03 771,1365.04 C772.3,1366.04 773.6,1367.05 774.91,1368.05 C776.21,1369.05 777.56,1370 778.81,1371.06 C780.07,1372.12 781.22,1373.3 782.43,1374.42 C783.63,1375.54 784.84,1376.66 786.05,1377.78 C787.25,1378.89 788.61,1380.07 789.66,1381.13 C790.72,1382.2 791.47,1383.15 792.37,1384.16 C793.28,1385.16 794.18,1386.17 795.09,1387.18 C795.99,1388.19 797.38,1389.27 797.8,1390.2 C798.22,1391.13 797.67,1391.9 797.6,1392.75 C797.53,1393.6 798,1394.51 797.4,1395.3 C796.8,1396.09 795.13,1397.09 794,1397.5 C792.87,1397.91 791.73,1397.68 790.6,1397.77 C789.47,1397.86 788.33,1397.94 787.2,1398.03 C786.07,1398.12 784.85,1398.06 783.8,1398.3 C782.75,1398.54 781.87,1399.07 780.9,1399.45 C779.93,1399.83 778.84,1400.01 778,1400.6 C777.16,1401.19 776.57,1402.2 775.85,1403 C775.13,1403.8 774.66,1404.73 773.7,1405.4 C772.74,1406.07 771.22,1407 770.1,1407 C768.98,1407 767.74,1406.15 767,1405.4 C766.26,1404.65 766.1,1403.47 765.65,1402.5 C765.2,1401.53 765.01,1400.47 764.3,1399.6 C763.59,1398.73 762.37,1398.04 761.4,1397.27 C760.43,1396.49 759.47,1395.71 758.5,1394.93 C757.53,1394.16 756.69,1393.12 755.6,1392.6 C754.51,1392.08 753.18,1392.09 751.97,1391.83 C750.76,1391.58 749.54,1391.32 748.33,1391.07 C747.12,1390.81 745.84,1390.89 744.7,1390.3 C743.56,1389.71 742.5,1388.62 741.5,1387.5 C740.5,1386.38 739.63,1384.88 738.7,1383.57 C737.77,1382.26 736.83,1380.94 735.9,1379.63 C734.97,1378.32 734.05,1376.79 733.1,1375.7 C732.15,1374.61 731.17,1373.94 730.2,1373.07 C729.23,1372.19 728.27,1371.31 727.3,1370.43 C726.33,1369.56 725.61,1368.42 724.4,1367.8 C723.19,1367.18 721.51,1367.09 720.07,1366.73 C718.62,1366.38 717.18,1366.02 715.73,1365.67 C714.29,1365.31 712.61,1364.47 711.4,1364.6 C710.19,1364.73 709.47,1365.83 708.5,1366.45 C707.53,1367.07 706.73,1368.05 705.6,1368.3 C704.47,1368.55 703.02,1368.06 701.73,1367.93 C700.44,1367.81 699.16,1367.69 697.87,1367.57 C696.58,1367.44 695.29,1367.31 694,1367.2 C692.71,1367.09 691.42,1367 690.13,1366.9 C688.84,1366.8 687.56,1366.7 686.27,1366.6 C684.98,1366.5 683.64,1366.83 682.4,1366.3 C681.16,1365.77 679.47,1364.37 678.8,1363.4 C678.13,1362.43 678.53,1361.47 678.4,1360.5 C678.27,1359.53 678.18,1358.69 678,1357.6 C677.82,1356.51 677.53,1355.18 677.3,1353.97 C677.07,1352.76 676.83,1351.54 676.6,1350.33 C676.37,1349.12 676.33,1347.78 675.9,1346.7 C675.47,1345.62 674.67,1344.8 674.05,1343.85 C673.43,1342.9 672.74,1342.21 672.2,1341 C671.66,1339.79 670.75,1338.02 670.8,1336.6 Z" fill="none" stroke="#000" stroke-width="2.0" stroke-linejoin="round"/>
<path d="M704.5,1336.8 V1367.5 M711.5,1337 V1364.5" stroke="#000" stroke-width="1.8" fill="none"/>
<path d="M680,1339.5 Q682,1348 682,1358.5 H704.5 M680,1339.5 H704.5" stroke="#000" stroke-width="1.4" fill="none"/>
<clipPath id="cp6"><path d="M635.8,1617.7 C636.82,1617.09 638.5,1618.05 639.85,1618.22 C641.2,1618.4 642.55,1618.58 643.9,1618.75 C645.25,1618.92 646.6,1619.1 647.95,1619.28 C649.3,1619.45 650.62,1619.56 652,1619.8 C653.38,1620.04 654.82,1620.4 656.23,1620.7 C657.63,1621 659.04,1621.3 660.45,1621.6 C661.86,1621.9 663.27,1622.2 664.67,1622.5 C666.08,1622.8 667.99,1622.68 668.9,1623.4 C669.81,1624.12 669.73,1625.67 670.15,1626.8 C670.57,1627.93 671.1,1628.82 671.4,1630.2 C671.7,1631.58 671.77,1633.47 671.95,1635.1 C672.13,1636.73 672.32,1638.52 672.5,1640 C672.68,1641.48 672.87,1642.67 673.05,1644 C673.23,1645.33 673.46,1646.92 673.6,1648 C673.74,1649.08 673.8,1649.67 673.9,1650.5 C674,1651.33 674.33,1652.17 674.2,1653 C674.07,1653.83 673.47,1654.67 673.1,1655.5 C672.73,1656.33 672.82,1657.47 672,1658 C671.18,1658.53 669.47,1658.47 668.21,1658.71 C666.95,1658.95 665.68,1659.18 664.42,1659.42 C663.16,1659.66 662.04,1660.11 660.63,1660.13 C659.22,1660.15 657.53,1659.74 655.97,1659.54 C654.42,1659.35 652.87,1659.15 651.32,1658.96 C649.77,1658.76 648.21,1658.63 646.67,1658.37 C645.13,1658.11 643.61,1657.72 642.08,1657.39 C640.55,1657.07 639.02,1656.74 637.49,1656.42 C635.96,1656.09 634.42,1655.83 632.9,1655.44 C631.39,1655.05 629.91,1654.53 628.41,1654.08 C626.92,1653.62 625.42,1653.17 623.92,1652.72 C622.43,1652.26 619.84,1652.28 619.44,1651.35 C619.03,1650.43 620.8,1648.55 621.48,1647.15 C622.16,1645.75 622.84,1644.34 623.53,1642.94 C624.21,1641.54 624.89,1640.14 625.57,1638.73 C626.25,1637.33 626.94,1635.93 627.62,1634.53 C628.3,1633.12 628.98,1631.72 629.66,1630.32 C630.35,1628.92 631.03,1627.52 631.71,1626.11 C632.39,1624.71 633.07,1623.31 633.75,1621.91 C634.44,1620.5 634.78,1618.31 635.8,1617.7 Z"/></clipPath>
<g clip-path="url(#cp6)"><path d="M635.8,1617.7 C636.82,1617.09 638.5,1618.05 639.85,1618.22 C641.2,1618.4 642.55,1618.58 643.9,1618.75 C645.25,1618.92 646.6,1619.1 647.95,1619.28 C649.3,1619.45 650.62,1619.56 652,1619.8 C653.38,1620.04 654.82,1620.4 656.23,1620.7 C657.63,1621 659.04,1621.3 660.45,1621.6 C661.86,1621.9 663.27,1622.2 664.67,1622.5 C666.08,1622.8 667.99,1622.68 668.9,1623.4 C669.81,1624.12 669.73,1625.67 670.15,1626.8 C670.57,1627.93 671.1,1628.82 671.4,1630.2 C671.7,1631.58 671.77,1633.47 671.95,1635.1 C672.13,1636.73 672.32,1638.52 672.5,1640 C672.68,1641.48 672.87,1642.67 673.05,1644 C673.23,1645.33 673.46,1646.92 673.6,1648 C673.74,1649.08 673.8,1649.67 673.9,1650.5 C674,1651.33 674.33,1652.17 674.2,1653 C674.07,1653.83 673.47,1654.67 673.1,1655.5 C672.73,1656.33 672.82,1657.47 672,1658 C671.18,1658.53 669.47,1658.47 668.21,1658.71 C666.95,1658.95 665.68,1659.18 664.42,1659.42 C663.16,1659.66 662.04,1660.11 660.63,1660.13 C659.22,1660.15 657.53,1659.74 655.97,1659.54 C654.42,1659.35 652.87,1659.15 651.32,1658.96 C649.77,1658.76 648.21,1658.63 646.67,1658.37 C645.13,1658.11 643.61,1657.72 642.08,1657.39 C640.55,1657.07 639.02,1656.74 637.49,1656.42 C635.96,1656.09 634.42,1655.83 632.9,1655.44 C631.39,1655.05 629.91,1654.53 628.41,1654.08 C626.92,1653.62 625.42,1653.17 623.92,1652.72 C622.43,1652.26 619.84,1652.28 619.44,1651.35 C619.03,1650.43 620.8,1648.55 621.48,1647.15 C622.16,1645.75 622.84,1644.34 623.53,1642.94 C624.21,1641.54 624.89,1640.14 625.57,1638.73 C626.25,1637.33 626.94,1635.93 627.62,1634.53 C628.3,1633.12 628.98,1631.72 629.66,1630.32 C630.35,1628.92 631.03,1627.52 631.71,1626.11 C632.39,1624.71 633.07,1623.31 633.75,1621.91 C634.44,1620.5 634.78,1618.31 635.8,1617.7 Z" fill="none" stroke="#000" stroke-width="9.3" stroke-linejoin="round"/><path d="M635.8,1617.7 C636.82,1617.09 638.5,1618.05 639.85,1618.22 C641.2,1618.4 642.55,1618.58 643.9,1618.75 C645.25,1618.92 646.6,1619.1 647.95,1619.28 C649.3,1619.45 650.62,1619.56 652,1619.8 C653.38,1620.04 654.82,1620.4 656.23,1620.7 C657.63,1621 659.04,1621.3 660.45,1621.6 C661.86,1621.9 663.27,1622.2 664.67,1622.5 C666.08,1622.8 667.99,1622.68 668.9,1623.4 C669.81,1624.12 669.73,1625.67 670.15,1626.8 C670.57,1627.93 671.1,1628.82 671.4,1630.2 C671.7,1631.58 671.77,1633.47 671.95,1635.1 C672.13,1636.73 672.32,1638.52 672.5,1640 C672.68,1641.48 672.87,1642.67 673.05,1644 C673.23,1645.33 673.46,1646.92 673.6,1648 C673.74,1649.08 673.8,1649.67 673.9,1650.5 C674,1651.33 674.33,1652.17 674.2,1653 C674.07,1653.83 673.47,1654.67 673.1,1655.5 C672.73,1656.33 672.82,1657.47 672,1658 C671.18,1658.53 669.47,1658.47 668.21,1658.71 C666.95,1658.95 665.68,1659.18 664.42,1659.42 C663.16,1659.66 662.04,1660.11 660.63,1660.13 C659.22,1660.15 657.53,1659.74 655.97,1659.54 C654.42,1659.35 652.87,1659.15 651.32,1658.96 C649.77,1658.76 648.21,1658.63 646.67,1658.37 C645.13,1658.11 643.61,1657.72 642.08,1657.39 C640.55,1657.07 639.02,1656.74 637.49,1656.42 C635.96,1656.09 634.42,1655.83 632.9,1655.44 C631.39,1655.05 629.91,1654.53 628.41,1654.08 C626.92,1653.62 625.42,1653.17 623.92,1652.72 C622.43,1652.26 619.84,1652.28 619.44,1651.35 C619.03,1650.43 620.8,1648.55 621.48,1647.15 C622.16,1645.75 622.84,1644.34 623.53,1642.94 C624.21,1641.54 624.89,1640.14 625.57,1638.73 C626.25,1637.33 626.94,1635.93 627.62,1634.53 C628.3,1633.12 628.98,1631.72 629.66,1630.32 C630.35,1628.92 631.03,1627.52 631.71,1626.11 C632.39,1624.71 633.07,1623.31 633.75,1621.91 C634.44,1620.5 634.78,1618.31 635.8,1617.7 Z" fill="none" stroke="#fff" stroke-width="6.7" stroke-linejoin="round"/></g>
<path d="M635.8,1617.7 C636.82,1617.09 638.5,1618.05 639.85,1618.22 C641.2,1618.4 642.55,1618.58 643.9,1618.75 C645.25,1618.92 646.6,1619.1 647.95,1619.28 C649.3,1619.45 650.62,1619.56 652,1619.8 C653.38,1620.04 654.82,1620.4 656.23,1620.7 C657.63,1621 659.04,1621.3 660.45,1621.6 C661.86,1621.9 663.27,1622.2 664.67,1622.5 C666.08,1622.8 667.99,1622.68 668.9,1623.4 C669.81,1624.12 669.73,1625.67 670.15,1626.8 C670.57,1627.93 671.1,1628.82 671.4,1630.2 C671.7,1631.58 671.77,1633.47 671.95,1635.1 C672.13,1636.73 672.32,1638.52 672.5,1640 C672.68,1641.48 672.87,1642.67 673.05,1644 C673.23,1645.33 673.46,1646.92 673.6,1648 C673.74,1649.08 673.8,1649.67 673.9,1650.5 C674,1651.33 674.33,1652.17 674.2,1653 C674.07,1653.83 673.47,1654.67 673.1,1655.5 C672.73,1656.33 672.82,1657.47 672,1658 C671.18,1658.53 669.47,1658.47 668.21,1658.71 C666.95,1658.95 665.68,1659.18 664.42,1659.42 C663.16,1659.66 662.04,1660.11 660.63,1660.13 C659.22,1660.15 657.53,1659.74 655.97,1659.54 C654.42,1659.35 652.87,1659.15 651.32,1658.96 C649.77,1658.76 648.21,1658.63 646.67,1658.37 C645.13,1658.11 643.61,1657.72 642.08,1657.39 C640.55,1657.07 639.02,1656.74 637.49,1656.42 C635.96,1656.09 634.42,1655.83 632.9,1655.44 C631.39,1655.05 629.91,1654.53 628.41,1654.08 C626.92,1653.62 625.42,1653.17 623.92,1652.72 C622.43,1652.26 619.84,1652.28 619.44,1651.35 C619.03,1650.43 620.8,1648.55 621.48,1647.15 C622.16,1645.75 622.84,1644.34 623.53,1642.94 C624.21,1641.54 624.89,1640.14 625.57,1638.73 C626.25,1637.33 626.94,1635.93 627.62,1634.53 C628.3,1633.12 628.98,1631.72 629.66,1630.32 C630.35,1628.92 631.03,1627.52 631.71,1626.11 C632.39,1624.71 633.07,1623.31 633.75,1621.91 C634.44,1620.5 634.78,1618.31 635.8,1617.7 Z" fill="none" stroke="#000" stroke-width="2.0" stroke-linejoin="round"/>
<path d="M637.6,1619 V1652.5 M643.8,1619.5 V1653.5 M636.8,1630.3 H671" stroke="#000" stroke-width="1.5" fill="none"/>
<line x1="618.9" y1="1647.5" x2="635.8" y2="1617.7" stroke="#000" stroke-width="2.0"/>
<clipPath id="cp7"><path d="M550.4,1594.5 C551,1593.56 552.27,1593.47 553.2,1592.95 C554.13,1592.43 554.88,1591.83 556,1591.4 C557.12,1590.97 558.62,1590.71 559.93,1590.37 C561.24,1590.02 562.56,1589.68 563.87,1589.33 C565.18,1588.99 566.6,1588.83 567.8,1588.3 C569,1587.77 569.98,1586.88 571.07,1586.17 C572.16,1585.46 573.24,1584.74 574.33,1584.03 C575.42,1583.32 576.59,1582.14 577.6,1581.9 C578.61,1581.66 579.47,1582.37 580.4,1582.6 C581.33,1582.83 583.16,1582.59 583.2,1583.3 C583.24,1584.01 581.48,1585.68 580.61,1586.88 C579.75,1588.07 578.89,1589.26 578.03,1590.45 C577.16,1591.64 576.3,1592.83 575.44,1594.03 C574.58,1595.22 573.71,1596.41 572.85,1597.6 C571.99,1598.79 571.12,1599.98 570.26,1601.17 C569.4,1602.37 568.54,1603.56 567.67,1604.75 C566.81,1605.94 565.95,1607.13 565.09,1608.33 C564.23,1609.52 563.36,1611.73 562.5,1611.9 C561.64,1612.07 560.79,1610.19 559.93,1609.33 C559.08,1608.48 558.22,1607.62 557.37,1606.77 C556.51,1605.91 555.66,1605.09 554.8,1604.2 C553.94,1603.31 553.07,1602.33 552.2,1601.4 C551.33,1600.47 549.9,1599.75 549.6,1598.6 C549.3,1597.45 549.8,1595.44 550.4,1594.5 Z"/></clipPath>
<g clip-path="url(#cp7)"><path d="M550.4,1594.5 C551,1593.56 552.27,1593.47 553.2,1592.95 C554.13,1592.43 554.88,1591.83 556,1591.4 C557.12,1590.97 558.62,1590.71 559.93,1590.37 C561.24,1590.02 562.56,1589.68 563.87,1589.33 C565.18,1588.99 566.6,1588.83 567.8,1588.3 C569,1587.77 569.98,1586.88 571.07,1586.17 C572.16,1585.46 573.24,1584.74 574.33,1584.03 C575.42,1583.32 576.59,1582.14 577.6,1581.9 C578.61,1581.66 579.47,1582.37 580.4,1582.6 C581.33,1582.83 583.16,1582.59 583.2,1583.3 C583.24,1584.01 581.48,1585.68 580.61,1586.88 C579.75,1588.07 578.89,1589.26 578.03,1590.45 C577.16,1591.64 576.3,1592.83 575.44,1594.03 C574.58,1595.22 573.71,1596.41 572.85,1597.6 C571.99,1598.79 571.12,1599.98 570.26,1601.17 C569.4,1602.37 568.54,1603.56 567.67,1604.75 C566.81,1605.94 565.95,1607.13 565.09,1608.33 C564.23,1609.52 563.36,1611.73 562.5,1611.9 C561.64,1612.07 560.79,1610.19 559.93,1609.33 C559.08,1608.48 558.22,1607.62 557.37,1606.77 C556.51,1605.91 555.66,1605.09 554.8,1604.2 C553.94,1603.31 553.07,1602.33 552.2,1601.4 C551.33,1600.47 549.9,1599.75 549.6,1598.6 C549.3,1597.45 549.8,1595.44 550.4,1594.5 Z" fill="none" stroke="#000" stroke-width="8.5" stroke-linejoin="round"/><path d="M550.4,1594.5 C551,1593.56 552.27,1593.47 553.2,1592.95 C554.13,1592.43 554.88,1591.83 556,1591.4 C557.12,1590.97 558.62,1590.71 559.93,1590.37 C561.24,1590.02 562.56,1589.68 563.87,1589.33 C565.18,1588.99 566.6,1588.83 567.8,1588.3 C569,1587.77 569.98,1586.88 571.07,1586.17 C572.16,1585.46 573.24,1584.74 574.33,1584.03 C575.42,1583.32 576.59,1582.14 577.6,1581.9 C578.61,1581.66 579.47,1582.37 580.4,1582.6 C581.33,1582.83 583.16,1582.59 583.2,1583.3 C583.24,1584.01 581.48,1585.68 580.61,1586.88 C579.75,1588.07 578.89,1589.26 578.03,1590.45 C577.16,1591.64 576.3,1592.83 575.44,1594.03 C574.58,1595.22 573.71,1596.41 572.85,1597.6 C571.99,1598.79 571.12,1599.98 570.26,1601.17 C569.4,1602.37 568.54,1603.56 567.67,1604.75 C566.81,1605.94 565.95,1607.13 565.09,1608.33 C564.23,1609.52 563.36,1611.73 562.5,1611.9 C561.64,1612.07 560.79,1610.19 559.93,1609.33 C559.08,1608.48 558.22,1607.62 557.37,1606.77 C556.51,1605.91 555.66,1605.09 554.8,1604.2 C553.94,1603.31 553.07,1602.33 552.2,1601.4 C551.33,1600.47 549.9,1599.75 549.6,1598.6 C549.3,1597.45 549.8,1595.44 550.4,1594.5 Z" fill="none" stroke="#fff" stroke-width="5.9" stroke-linejoin="round"/></g>
<path d="M550.4,1594.5 C551,1593.56 552.27,1593.47 553.2,1592.95 C554.13,1592.43 554.88,1591.83 556,1591.4 C557.12,1590.97 558.62,1590.71 559.93,1590.37 C561.24,1590.02 562.56,1589.68 563.87,1589.33 C565.18,1588.99 566.6,1588.83 567.8,1588.3 C569,1587.77 569.98,1586.88 571.07,1586.17 C572.16,1585.46 573.24,1584.74 574.33,1584.03 C575.42,1583.32 576.59,1582.14 577.6,1581.9 C578.61,1581.66 579.47,1582.37 580.4,1582.6 C581.33,1582.83 583.16,1582.59 583.2,1583.3 C583.24,1584.01 581.48,1585.68 580.61,1586.88 C579.75,1588.07 578.89,1589.26 578.03,1590.45 C577.16,1591.64 576.3,1592.83 575.44,1594.03 C574.58,1595.22 573.71,1596.41 572.85,1597.6 C571.99,1598.79 571.12,1599.98 570.26,1601.17 C569.4,1602.37 568.54,1603.56 567.67,1604.75 C566.81,1605.94 565.95,1607.13 565.09,1608.33 C564.23,1609.52 563.36,1611.73 562.5,1611.9 C561.64,1612.07 560.79,1610.19 559.93,1609.33 C559.08,1608.48 558.22,1607.62 557.37,1606.77 C556.51,1605.91 555.66,1605.09 554.8,1604.2 C553.94,1603.31 553.07,1602.33 552.2,1601.4 C551.33,1600.47 549.9,1599.75 549.6,1598.6 C549.3,1597.45 549.8,1595.44 550.4,1594.5 Z" fill="none" stroke="#000" stroke-width="2.0" stroke-linejoin="round"/>
<line x1="549.9" y1="1606.3" x2="560.4" y2="1615.3" stroke="#000" stroke-width="2.0"/>
<path d="M612.6,1663.8 C613.63,1663.47 615.69,1664.8 617.23,1665.3 C618.78,1665.8 620.32,1666.3 621.87,1666.8 C623.41,1667.3 625.24,1667.72 626.5,1668.3 C627.76,1668.88 628.47,1669.63 629.45,1670.3 C630.43,1670.97 632.22,1671.54 632.4,1672.3 C632.58,1673.06 631.17,1674 630.55,1674.85 C629.93,1675.7 629.75,1676.97 628.7,1677.4 C627.65,1677.83 625.73,1677.43 624.24,1677.44 C622.75,1677.45 621.27,1677.47 619.78,1677.48 C618.29,1677.49 616.81,1677.51 615.32,1677.52 C613.83,1677.53 612.35,1677.55 610.86,1677.56 C609.37,1677.57 606.88,1678.17 606.4,1677.6 C605.91,1677.03 607.43,1675.3 607.95,1674.15 C608.47,1673 608.98,1671.85 609.5,1670.7 C610.02,1669.55 610.53,1668.4 611.05,1667.25 C611.57,1666.1 611.57,1664.12 612.6,1663.8 Z" fill="none" stroke="#000" stroke-width="2.0" stroke-linejoin="round"/>
<line x1="606.8" y1="1676" x2="629" y2="1675.5" stroke="#000" stroke-width="1.2"/>
<clipPath id="cp8"><path d="M716.2,1314.6 C716.44,1313.74 717.88,1312.27 719.2,1311.8 C720.52,1311.33 722.49,1311.8 724.13,1311.79 C725.78,1311.79 727.42,1311.79 729.07,1311.79 C730.71,1311.79 732.36,1311.79 734,1311.78 C735.64,1311.78 737.29,1311.78 738.93,1311.78 C740.58,1311.78 742.22,1311.77 743.87,1311.77 C745.51,1311.77 747.16,1311.77 748.8,1311.77 C750.44,1311.76 752.09,1311.76 753.73,1311.76 C755.38,1311.76 757.02,1311.76 758.67,1311.76 C760.31,1311.75 761.96,1311.75 763.6,1311.75 C765.24,1311.75 766.89,1311.75 768.53,1311.74 C770.18,1311.74 771.82,1311.74 773.47,1311.74 C775.11,1311.74 776.76,1311.74 778.4,1311.73 C780.04,1311.73 781.69,1311.73 783.33,1311.73 C784.98,1311.73 786.62,1311.72 788.27,1311.72 C789.91,1311.72 791.56,1311.72 793.2,1311.72 C794.84,1311.71 796.49,1311.71 798.13,1311.71 C799.78,1311.71 801.42,1311.71 803.07,1311.71 C804.71,1311.7 806.54,1311.45 808,1311.7 C809.46,1311.95 811.1,1312.53 811.8,1313.2 C812.5,1313.88 812.07,1314.9 812.2,1315.75 C812.33,1316.6 813.07,1317.25 812.6,1318.3 C812.13,1319.35 810.47,1320.8 809.4,1322.05 C808.33,1323.3 806.89,1324.62 806.2,1325.8 C805.51,1326.97 805.58,1328 805.27,1329.1 C804.96,1330.2 804.64,1331.3 804.33,1332.4 C804.02,1333.5 803.51,1334.55 803.4,1335.7 C803.29,1336.85 803.58,1338.1 803.67,1339.3 C803.76,1340.5 803.84,1341.7 803.93,1342.9 C804.02,1344.1 804.16,1345.23 804.2,1346.5 C804.24,1347.77 804.2,1349.17 804.2,1350.5 C804.2,1351.83 804.52,1353.49 804.2,1354.5 C803.88,1355.51 802.93,1355.87 802.3,1356.55 C801.67,1357.23 801.17,1358.19 800.4,1358.6 C799.63,1359.01 798.6,1358.87 797.7,1359 C796.8,1359.13 796.04,1359.8 795,1359.4 C793.96,1359 792.64,1357.54 791.46,1356.61 C790.28,1355.68 789.1,1354.76 787.92,1353.83 C786.74,1352.9 785.56,1351.97 784.38,1351.04 C783.2,1350.11 782.06,1349.14 780.84,1348.25 C779.62,1347.37 778.32,1346.56 777.06,1345.71 C775.8,1344.86 774.54,1344.02 773.28,1343.17 C772.02,1342.32 770.79,1341.43 769.49,1340.63 C768.2,1339.83 766.85,1339.13 765.53,1338.38 C764.21,1337.63 762.89,1336.88 761.57,1336.13 C760.25,1335.38 758.95,1334.58 757.6,1333.88 C756.26,1333.18 754.86,1332.59 753.48,1331.94 C752.11,1331.29 750.73,1330.65 749.36,1330 C747.99,1329.35 746.63,1328.65 745.24,1328.06 C743.84,1327.46 742.4,1326.97 740.98,1326.43 C739.56,1325.89 738.14,1325.35 736.72,1324.8 C735.3,1324.26 733.9,1323.67 732.47,1323.18 C731.03,1322.69 729.55,1322.31 728.1,1321.88 C726.64,1321.45 725.19,1321.01 723.73,1320.58 C722.27,1320.15 720.35,1319.89 719.36,1319.28 C718.37,1318.67 718.31,1317.72 717.78,1316.94 C717.25,1316.16 715.96,1315.46 716.2,1314.6 Z"/></clipPath>
<g clip-path="url(#cp8)"><path d="M716.2,1314.6 C716.44,1313.74 717.88,1312.27 719.2,1311.8 C720.52,1311.33 722.49,1311.8 724.13,1311.79 C725.78,1311.79 727.42,1311.79 729.07,1311.79 C730.71,1311.79 732.36,1311.79 734,1311.78 C735.64,1311.78 737.29,1311.78 738.93,1311.78 C740.58,1311.78 742.22,1311.77 743.87,1311.77 C745.51,1311.77 747.16,1311.77 748.8,1311.77 C750.44,1311.76 752.09,1311.76 753.73,1311.76 C755.38,1311.76 757.02,1311.76 758.67,1311.76 C760.31,1311.75 761.96,1311.75 763.6,1311.75 C765.24,1311.75 766.89,1311.75 768.53,1311.74 C770.18,1311.74 771.82,1311.74 773.47,1311.74 C775.11,1311.74 776.76,1311.74 778.4,1311.73 C780.04,1311.73 781.69,1311.73 783.33,1311.73 C784.98,1311.73 786.62,1311.72 788.27,1311.72 C789.91,1311.72 791.56,1311.72 793.2,1311.72 C794.84,1311.71 796.49,1311.71 798.13,1311.71 C799.78,1311.71 801.42,1311.71 803.07,1311.71 C804.71,1311.7 806.54,1311.45 808,1311.7 C809.46,1311.95 811.1,1312.53 811.8,1313.2 C812.5,1313.88 812.07,1314.9 812.2,1315.75 C812.33,1316.6 813.07,1317.25 812.6,1318.3 C812.13,1319.35 810.47,1320.8 809.4,1322.05 C808.33,1323.3 806.89,1324.62 806.2,1325.8 C805.51,1326.97 805.58,1328 805.27,1329.1 C804.96,1330.2 804.64,1331.3 804.33,1332.4 C804.02,1333.5 803.51,1334.55 803.4,1335.7 C803.29,1336.85 803.58,1338.1 803.67,1339.3 C803.76,1340.5 803.84,1341.7 803.93,1342.9 C804.02,1344.1 804.16,1345.23 804.2,1346.5 C804.24,1347.77 804.2,1349.17 804.2,1350.5 C804.2,1351.83 804.52,1353.49 804.2,1354.5 C803.88,1355.51 802.93,1355.87 802.3,1356.55 C801.67,1357.23 801.17,1358.19 800.4,1358.6 C799.63,1359.01 798.6,1358.87 797.7,1359 C796.8,1359.13 796.04,1359.8 795,1359.4 C793.96,1359 792.64,1357.54 791.46,1356.61 C790.28,1355.68 789.1,1354.76 787.92,1353.83 C786.74,1352.9 785.56,1351.97 784.38,1351.04 C783.2,1350.11 782.06,1349.14 780.84,1348.25 C779.62,1347.37 778.32,1346.56 777.06,1345.71 C775.8,1344.86 774.54,1344.02 773.28,1343.17 C772.02,1342.32 770.79,1341.43 769.49,1340.63 C768.2,1339.83 766.85,1339.13 765.53,1338.38 C764.21,1337.63 762.89,1336.88 761.57,1336.13 C760.25,1335.38 758.95,1334.58 757.6,1333.88 C756.26,1333.18 754.86,1332.59 753.48,1331.94 C752.11,1331.29 750.73,1330.65 749.36,1330 C747.99,1329.35 746.63,1328.65 745.24,1328.06 C743.84,1327.46 742.4,1326.97 740.98,1326.43 C739.56,1325.89 738.14,1325.35 736.72,1324.8 C735.3,1324.26 733.9,1323.67 732.47,1323.18 C731.03,1322.69 729.55,1322.31 728.1,1321.88 C726.64,1321.45 725.19,1321.01 723.73,1320.58 C722.27,1320.15 720.35,1319.89 719.36,1319.28 C718.37,1318.67 718.31,1317.72 717.78,1316.94 C717.25,1316.16 715.96,1315.46 716.2,1314.6 Z" fill="none" stroke="#000" stroke-width="10.3" stroke-linejoin="round"/><path d="M716.2,1314.6 C716.44,1313.74 717.88,1312.27 719.2,1311.8 C720.52,1311.33 722.49,1311.8 724.13,1311.79 C725.78,1311.79 727.42,1311.79 729.07,1311.79 C730.71,1311.79 732.36,1311.79 734,1311.78 C735.64,1311.78 737.29,1311.78 738.93,1311.78 C740.58,1311.78 742.22,1311.77 743.87,1311.77 C745.51,1311.77 747.16,1311.77 748.8,1311.77 C750.44,1311.76 752.09,1311.76 753.73,1311.76 C755.38,1311.76 757.02,1311.76 758.67,1311.76 C760.31,1311.75 761.96,1311.75 763.6,1311.75 C765.24,1311.75 766.89,1311.75 768.53,1311.74 C770.18,1311.74 771.82,1311.74 773.47,1311.74 C775.11,1311.74 776.76,1311.74 778.4,1311.73 C780.04,1311.73 781.69,1311.73 783.33,1311.73 C784.98,1311.73 786.62,1311.72 788.27,1311.72 C789.91,1311.72 791.56,1311.72 793.2,1311.72 C794.84,1311.71 796.49,1311.71 798.13,1311.71 C799.78,1311.71 801.42,1311.71 803.07,1311.71 C804.71,1311.7 806.54,1311.45 808,1311.7 C809.46,1311.95 811.1,1312.53 811.8,1313.2 C812.5,1313.88 812.07,1314.9 812.2,1315.75 C812.33,1316.6 813.07,1317.25 812.6,1318.3 C812.13,1319.35 810.47,1320.8 809.4,1322.05 C808.33,1323.3 806.89,1324.62 806.2,1325.8 C805.51,1326.97 805.58,1328 805.27,1329.1 C804.96,1330.2 804.64,1331.3 804.33,1332.4 C804.02,1333.5 803.51,1334.55 803.4,1335.7 C803.29,1336.85 803.58,1338.1 803.67,1339.3 C803.76,1340.5 803.84,1341.7 803.93,1342.9 C804.02,1344.1 804.16,1345.23 804.2,1346.5 C804.24,1347.77 804.2,1349.17 804.2,1350.5 C804.2,1351.83 804.52,1353.49 804.2,1354.5 C803.88,1355.51 802.93,1355.87 802.3,1356.55 C801.67,1357.23 801.17,1358.19 800.4,1358.6 C799.63,1359.01 798.6,1358.87 797.7,1359 C796.8,1359.13 796.04,1359.8 795,1359.4 C793.96,1359 792.64,1357.54 791.46,1356.61 C790.28,1355.68 789.1,1354.76 787.92,1353.83 C786.74,1352.9 785.56,1351.97 784.38,1351.04 C783.2,1350.11 782.06,1349.14 780.84,1348.25 C779.62,1347.37 778.32,1346.56 777.06,1345.71 C775.8,1344.86 774.54,1344.02 773.28,1343.17 C772.02,1342.32 770.79,1341.43 769.49,1340.63 C768.2,1339.83 766.85,1339.13 765.53,1338.38 C764.21,1337.63 762.89,1336.88 761.57,1336.13 C760.25,1335.38 758.95,1334.58 757.6,1333.88 C756.26,1333.18 754.86,1332.59 753.48,1331.94 C752.11,1331.29 750.73,1330.65 749.36,1330 C747.99,1329.35 746.63,1328.65 745.24,1328.06 C743.84,1327.46 742.4,1326.97 740.98,1326.43 C739.56,1325.89 738.14,1325.35 736.72,1324.8 C735.3,1324.26 733.9,1323.67 732.47,1323.18 C731.03,1322.69 729.55,1322.31 728.1,1321.88 C726.64,1321.45 725.19,1321.01 723.73,1320.58 C722.27,1320.15 720.35,1319.89 719.36,1319.28 C718.37,1318.67 718.31,1317.72 717.78,1316.94 C717.25,1316.16 715.96,1315.46 716.2,1314.6 Z" fill="none" stroke="#fff" stroke-width="7.7" stroke-linejoin="round"/></g>
<path d="M716.2,1314.6 C716.44,1313.74 717.88,1312.27 719.2,1311.8 C720.52,1311.33 722.49,1311.8 724.13,1311.79 C725.78,1311.79 727.42,1311.79 729.07,1311.79 C730.71,1311.79 732.36,1311.79 734,1311.78 C735.64,1311.78 737.29,1311.78 738.93,1311.78 C740.58,1311.78 742.22,1311.77 743.87,1311.77 C745.51,1311.77 747.16,1311.77 748.8,1311.77 C750.44,1311.76 752.09,1311.76 753.73,1311.76 C755.38,1311.76 757.02,1311.76 758.67,1311.76 C760.31,1311.75 761.96,1311.75 763.6,1311.75 C765.24,1311.75 766.89,1311.75 768.53,1311.74 C770.18,1311.74 771.82,1311.74 773.47,1311.74 C775.11,1311.74 776.76,1311.74 778.4,1311.73 C780.04,1311.73 781.69,1311.73 783.33,1311.73 C784.98,1311.73 786.62,1311.72 788.27,1311.72 C789.91,1311.72 791.56,1311.72 793.2,1311.72 C794.84,1311.71 796.49,1311.71 798.13,1311.71 C799.78,1311.71 801.42,1311.71 803.07,1311.71 C804.71,1311.7 806.54,1311.45 808,1311.7 C809.46,1311.95 811.1,1312.53 811.8,1313.2 C812.5,1313.88 812.07,1314.9 812.2,1315.75 C812.33,1316.6 813.07,1317.25 812.6,1318.3 C812.13,1319.35 810.47,1320.8 809.4,1322.05 C808.33,1323.3 806.89,1324.62 806.2,1325.8 C805.51,1326.97 805.58,1328 805.27,1329.1 C804.96,1330.2 804.64,1331.3 804.33,1332.4 C804.02,1333.5 803.51,1334.55 803.4,1335.7 C803.29,1336.85 803.58,1338.1 803.67,1339.3 C803.76,1340.5 803.84,1341.7 803.93,1342.9 C804.02,1344.1 804.16,1345.23 804.2,1346.5 C804.24,1347.77 804.2,1349.17 804.2,1350.5 C804.2,1351.83 804.52,1353.49 804.2,1354.5 C803.88,1355.51 802.93,1355.87 802.3,1356.55 C801.67,1357.23 801.17,1358.19 800.4,1358.6 C799.63,1359.01 798.6,1358.87 797.7,1359 C796.8,1359.13 796.04,1359.8 795,1359.4 C793.96,1359 792.64,1357.54 791.46,1356.61 C790.28,1355.68 789.1,1354.76 787.92,1353.83 C786.74,1352.9 785.56,1351.97 784.38,1351.04 C783.2,1350.11 782.06,1349.14 780.84,1348.25 C779.62,1347.37 778.32,1346.56 777.06,1345.71 C775.8,1344.86 774.54,1344.02 773.28,1343.17 C772.02,1342.32 770.79,1341.43 769.49,1340.63 C768.2,1339.83 766.85,1339.13 765.53,1338.38 C764.21,1337.63 762.89,1336.88 761.57,1336.13 C760.25,1335.38 758.95,1334.58 757.6,1333.88 C756.26,1333.18 754.86,1332.59 753.48,1331.94 C752.11,1331.29 750.73,1330.65 749.36,1330 C747.99,1329.35 746.63,1328.65 745.24,1328.06 C743.84,1327.46 742.4,1326.97 740.98,1326.43 C739.56,1325.89 738.14,1325.35 736.72,1324.8 C735.3,1324.26 733.9,1323.67 732.47,1323.18 C731.03,1322.69 729.55,1322.31 728.1,1321.88 C726.64,1321.45 725.19,1321.01 723.73,1320.58 C722.27,1320.15 720.35,1319.89 719.36,1319.28 C718.37,1318.67 718.31,1317.72 717.78,1316.94 C717.25,1316.16 715.96,1315.46 716.2,1314.6 Z" fill="none" stroke="#000" stroke-width="2.0" stroke-linejoin="round"/>
<clipPath id="cp9"><path d="M632.6,1314.6 C632.36,1313.74 630.92,1312.27 629.6,1311.8 C628.28,1311.33 626.31,1311.8 624.67,1311.79 C623.02,1311.79 621.38,1311.79 619.73,1311.79 C618.09,1311.79 616.44,1311.79 614.8,1311.78 C613.16,1311.78 611.51,1311.78 609.87,1311.78 C608.22,1311.78 606.58,1311.77 604.93,1311.77 C603.29,1311.77 601.64,1311.77 600,1311.77 C598.36,1311.76 596.71,1311.76 595.07,1311.76 C593.42,1311.76 591.78,1311.76 590.13,1311.76 C588.49,1311.75 586.84,1311.75 585.2,1311.75 C583.56,1311.75 581.91,1311.75 580.27,1311.74 C578.62,1311.74 576.98,1311.74 575.33,1311.74 C573.69,1311.74 572.04,1311.74 570.4,1311.73 C568.76,1311.73 567.11,1311.73 565.47,1311.73 C563.82,1311.73 562.18,1311.72 560.53,1311.72 C558.89,1311.72 557.24,1311.72 555.6,1311.72 C553.96,1311.71 552.31,1311.71 550.67,1311.71 C549.02,1311.71 547.38,1311.71 545.73,1311.71 C544.09,1311.7 542.26,1311.45 540.8,1311.7 C539.34,1311.95 537.7,1312.53 537,1313.2 C536.3,1313.88 536.73,1314.9 536.6,1315.75 C536.47,1316.6 535.73,1317.25 536.2,1318.3 C536.67,1319.35 538.33,1320.8 539.4,1322.05 C540.47,1323.3 541.91,1324.62 542.6,1325.8 C543.29,1326.97 543.22,1328 543.53,1329.1 C543.84,1330.2 544.16,1331.3 544.47,1332.4 C544.78,1333.5 545.29,1334.55 545.4,1335.7 C545.51,1336.85 545.22,1338.1 545.13,1339.3 C545.04,1340.5 544.96,1341.7 544.87,1342.9 C544.78,1344.1 544.64,1345.23 544.6,1346.5 C544.56,1347.77 544.6,1349.17 544.6,1350.5 C544.6,1351.83 544.28,1353.49 544.6,1354.5 C544.92,1355.51 545.87,1355.87 546.5,1356.55 C547.13,1357.23 547.63,1358.19 548.4,1358.6 C549.17,1359.01 550.2,1358.87 551.1,1359 C552,1359.13 552.76,1359.8 553.8,1359.4 C554.84,1359 556.16,1357.54 557.34,1356.61 C558.52,1355.68 559.7,1354.76 560.88,1353.83 C562.06,1352.9 563.24,1351.97 564.42,1351.04 C565.6,1350.11 566.74,1349.14 567.96,1348.25 C569.18,1347.37 570.48,1346.56 571.74,1345.71 C573,1344.86 574.26,1344.02 575.52,1343.17 C576.78,1342.32 578.01,1341.43 579.31,1340.63 C580.6,1339.83 581.95,1339.13 583.27,1338.38 C584.59,1337.63 585.91,1336.88 587.23,1336.13 C588.55,1335.38 589.85,1334.58 591.2,1333.88 C592.54,1333.18 593.94,1332.59 595.32,1331.94 C596.69,1331.29 598.07,1330.65 599.44,1330 C600.81,1329.35 602.17,1328.65 603.56,1328.06 C604.96,1327.46 606.4,1326.97 607.82,1326.43 C609.24,1325.89 610.66,1325.35 612.08,1324.8 C613.5,1324.26 614.9,1323.67 616.33,1323.18 C617.77,1322.69 619.25,1322.31 620.7,1321.88 C622.16,1321.45 623.61,1321.01 625.07,1320.58 C626.53,1320.15 628.45,1319.89 629.44,1319.28 C630.43,1318.67 630.49,1317.72 631.02,1316.94 C631.55,1316.16 632.84,1315.46 632.6,1314.6 Z"/></clipPath>
<g clip-path="url(#cp9)"><path d="M632.6,1314.6 C632.36,1313.74 630.92,1312.27 629.6,1311.8 C628.28,1311.33 626.31,1311.8 624.67,1311.79 C623.02,1311.79 621.38,1311.79 619.73,1311.79 C618.09,1311.79 616.44,1311.79 614.8,1311.78 C613.16,1311.78 611.51,1311.78 609.87,1311.78 C608.22,1311.78 606.58,1311.77 604.93,1311.77 C603.29,1311.77 601.64,1311.77 600,1311.77 C598.36,1311.76 596.71,1311.76 595.07,1311.76 C593.42,1311.76 591.78,1311.76 590.13,1311.76 C588.49,1311.75 586.84,1311.75 585.2,1311.75 C583.56,1311.75 581.91,1311.75 580.27,1311.74 C578.62,1311.74 576.98,1311.74 575.33,1311.74 C573.69,1311.74 572.04,1311.74 570.4,1311.73 C568.76,1311.73 567.11,1311.73 565.47,1311.73 C563.82,1311.73 562.18,1311.72 560.53,1311.72 C558.89,1311.72 557.24,1311.72 555.6,1311.72 C553.96,1311.71 552.31,1311.71 550.67,1311.71 C549.02,1311.71 547.38,1311.71 545.73,1311.71 C544.09,1311.7 542.26,1311.45 540.8,1311.7 C539.34,1311.95 537.7,1312.53 537,1313.2 C536.3,1313.88 536.73,1314.9 536.6,1315.75 C536.47,1316.6 535.73,1317.25 536.2,1318.3 C536.67,1319.35 538.33,1320.8 539.4,1322.05 C540.47,1323.3 541.91,1324.62 542.6,1325.8 C543.29,1326.97 543.22,1328 543.53,1329.1 C543.84,1330.2 544.16,1331.3 544.47,1332.4 C544.78,1333.5 545.29,1334.55 545.4,1335.7 C545.51,1336.85 545.22,1338.1 545.13,1339.3 C545.04,1340.5 544.96,1341.7 544.87,1342.9 C544.78,1344.1 544.64,1345.23 544.6,1346.5 C544.56,1347.77 544.6,1349.17 544.6,1350.5 C544.6,1351.83 544.28,1353.49 544.6,1354.5 C544.92,1355.51 545.87,1355.87 546.5,1356.55 C547.13,1357.23 547.63,1358.19 548.4,1358.6 C549.17,1359.01 550.2,1358.87 551.1,1359 C552,1359.13 552.76,1359.8 553.8,1359.4 C554.84,1359 556.16,1357.54 557.34,1356.61 C558.52,1355.68 559.7,1354.76 560.88,1353.83 C562.06,1352.9 563.24,1351.97 564.42,1351.04 C565.6,1350.11 566.74,1349.14 567.96,1348.25 C569.18,1347.37 570.48,1346.56 571.74,1345.71 C573,1344.86 574.26,1344.02 575.52,1343.17 C576.78,1342.32 578.01,1341.43 579.31,1340.63 C580.6,1339.83 581.95,1339.13 583.27,1338.38 C584.59,1337.63 585.91,1336.88 587.23,1336.13 C588.55,1335.38 589.85,1334.58 591.2,1333.88 C592.54,1333.18 593.94,1332.59 595.32,1331.94 C596.69,1331.29 598.07,1330.65 599.44,1330 C600.81,1329.35 602.17,1328.65 603.56,1328.06 C604.96,1327.46 606.4,1326.97 607.82,1326.43 C609.24,1325.89 610.66,1325.35 612.08,1324.8 C613.5,1324.26 614.9,1323.67 616.33,1323.18 C617.77,1322.69 619.25,1322.31 620.7,1321.88 C622.16,1321.45 623.61,1321.01 625.07,1320.58 C626.53,1320.15 628.45,1319.89 629.44,1319.28 C630.43,1318.67 630.49,1317.72 631.02,1316.94 C631.55,1316.16 632.84,1315.46 632.6,1314.6 Z" fill="none" stroke="#000" stroke-width="10.3" stroke-linejoin="round"/><path d="M632.6,1314.6 C632.36,1313.74 630.92,1312.27 629.6,1311.8 C628.28,1311.33 626.31,1311.8 624.67,1311.79 C623.02,1311.79 621.38,1311.79 619.73,1311.79 C618.09,1311.79 616.44,1311.79 614.8,1311.78 C613.16,1311.78 611.51,1311.78 609.87,1311.78 C608.22,1311.78 606.58,1311.77 604.93,1311.77 C603.29,1311.77 601.64,1311.77 600,1311.77 C598.36,1311.76 596.71,1311.76 595.07,1311.76 C593.42,1311.76 591.78,1311.76 590.13,1311.76 C588.49,1311.75 586.84,1311.75 585.2,1311.75 C583.56,1311.75 581.91,1311.75 580.27,1311.74 C578.62,1311.74 576.98,1311.74 575.33,1311.74 C573.69,1311.74 572.04,1311.74 570.4,1311.73 C568.76,1311.73 567.11,1311.73 565.47,1311.73 C563.82,1311.73 562.18,1311.72 560.53,1311.72 C558.89,1311.72 557.24,1311.72 555.6,1311.72 C553.96,1311.71 552.31,1311.71 550.67,1311.71 C549.02,1311.71 547.38,1311.71 545.73,1311.71 C544.09,1311.7 542.26,1311.45 540.8,1311.7 C539.34,1311.95 537.7,1312.53 537,1313.2 C536.3,1313.88 536.73,1314.9 536.6,1315.75 C536.47,1316.6 535.73,1317.25 536.2,1318.3 C536.67,1319.35 538.33,1320.8 539.4,1322.05 C540.47,1323.3 541.91,1324.62 542.6,1325.8 C543.29,1326.97 543.22,1328 543.53,1329.1 C543.84,1330.2 544.16,1331.3 544.47,1332.4 C544.78,1333.5 545.29,1334.55 545.4,1335.7 C545.51,1336.85 545.22,1338.1 545.13,1339.3 C545.04,1340.5 544.96,1341.7 544.87,1342.9 C544.78,1344.1 544.64,1345.23 544.6,1346.5 C544.56,1347.77 544.6,1349.17 544.6,1350.5 C544.6,1351.83 544.28,1353.49 544.6,1354.5 C544.92,1355.51 545.87,1355.87 546.5,1356.55 C547.13,1357.23 547.63,1358.19 548.4,1358.6 C549.17,1359.01 550.2,1358.87 551.1,1359 C552,1359.13 552.76,1359.8 553.8,1359.4 C554.84,1359 556.16,1357.54 557.34,1356.61 C558.52,1355.68 559.7,1354.76 560.88,1353.83 C562.06,1352.9 563.24,1351.97 564.42,1351.04 C565.6,1350.11 566.74,1349.14 567.96,1348.25 C569.18,1347.37 570.48,1346.56 571.74,1345.71 C573,1344.86 574.26,1344.02 575.52,1343.17 C576.78,1342.32 578.01,1341.43 579.31,1340.63 C580.6,1339.83 581.95,1339.13 583.27,1338.38 C584.59,1337.63 585.91,1336.88 587.23,1336.13 C588.55,1335.38 589.85,1334.58 591.2,1333.88 C592.54,1333.18 593.94,1332.59 595.32,1331.94 C596.69,1331.29 598.07,1330.65 599.44,1330 C600.81,1329.35 602.17,1328.65 603.56,1328.06 C604.96,1327.46 606.4,1326.97 607.82,1326.43 C609.24,1325.89 610.66,1325.35 612.08,1324.8 C613.5,1324.26 614.9,1323.67 616.33,1323.18 C617.77,1322.69 619.25,1322.31 620.7,1321.88 C622.16,1321.45 623.61,1321.01 625.07,1320.58 C626.53,1320.15 628.45,1319.89 629.44,1319.28 C630.43,1318.67 630.49,1317.72 631.02,1316.94 C631.55,1316.16 632.84,1315.46 632.6,1314.6 Z" fill="none" stroke="#fff" stroke-width="7.7" stroke-linejoin="round"/></g>
<path d="M632.6,1314.6 C632.36,1313.74 630.92,1312.27 629.6,1311.8 C628.28,1311.33 626.31,1311.8 624.67,1311.79 C623.02,1311.79 621.38,1311.79 619.73,1311.79 C618.09,1311.79 616.44,1311.79 614.8,1311.78 C613.16,1311.78 611.51,1311.78 609.87,1311.78 C608.22,1311.78 606.58,1311.77 604.93,1311.77 C603.29,1311.77 601.64,1311.77 600,1311.77 C598.36,1311.76 596.71,1311.76 595.07,1311.76 C593.42,1311.76 591.78,1311.76 590.13,1311.76 C588.49,1311.75 586.84,1311.75 585.2,1311.75 C583.56,1311.75 581.91,1311.75 580.27,1311.74 C578.62,1311.74 576.98,1311.74 575.33,1311.74 C573.69,1311.74 572.04,1311.74 570.4,1311.73 C568.76,1311.73 567.11,1311.73 565.47,1311.73 C563.82,1311.73 562.18,1311.72 560.53,1311.72 C558.89,1311.72 557.24,1311.72 555.6,1311.72 C553.96,1311.71 552.31,1311.71 550.67,1311.71 C549.02,1311.71 547.38,1311.71 545.73,1311.71 C544.09,1311.7 542.26,1311.45 540.8,1311.7 C539.34,1311.95 537.7,1312.53 537,1313.2 C536.3,1313.88 536.73,1314.9 536.6,1315.75 C536.47,1316.6 535.73,1317.25 536.2,1318.3 C536.67,1319.35 538.33,1320.8 539.4,1322.05 C540.47,1323.3 541.91,1324.62 542.6,1325.8 C543.29,1326.97 543.22,1328 543.53,1329.1 C543.84,1330.2 544.16,1331.3 544.47,1332.4 C544.78,1333.5 545.29,1334.55 545.4,1335.7 C545.51,1336.85 545.22,1338.1 545.13,1339.3 C545.04,1340.5 544.96,1341.7 544.87,1342.9 C544.78,1344.1 544.64,1345.23 544.6,1346.5 C544.56,1347.77 544.6,1349.17 544.6,1350.5 C544.6,1351.83 544.28,1353.49 544.6,1354.5 C544.92,1355.51 545.87,1355.87 546.5,1356.55 C547.13,1357.23 547.63,1358.19 548.4,1358.6 C549.17,1359.01 550.2,1358.87 551.1,1359 C552,1359.13 552.76,1359.8 553.8,1359.4 C554.84,1359 556.16,1357.54 557.34,1356.61 C558.52,1355.68 559.7,1354.76 560.88,1353.83 C562.06,1352.9 563.24,1351.97 564.42,1351.04 C565.6,1350.11 566.74,1349.14 567.96,1348.25 C569.18,1347.37 570.48,1346.56 571.74,1345.71 C573,1344.86 574.26,1344.02 575.52,1343.17 C576.78,1342.32 578.01,1341.43 579.31,1340.63 C580.6,1339.83 581.95,1339.13 583.27,1338.38 C584.59,1337.63 585.91,1336.88 587.23,1336.13 C588.55,1335.38 589.85,1334.58 591.2,1333.88 C592.54,1333.18 593.94,1332.59 595.32,1331.94 C596.69,1331.29 598.07,1330.65 599.44,1330 C600.81,1329.35 602.17,1328.65 603.56,1328.06 C604.96,1327.46 606.4,1326.97 607.82,1326.43 C609.24,1325.89 610.66,1325.35 612.08,1324.8 C613.5,1324.26 614.9,1323.67 616.33,1323.18 C617.77,1322.69 619.25,1322.31 620.7,1321.88 C622.16,1321.45 623.61,1321.01 625.07,1320.58 C626.53,1320.15 628.45,1319.89 629.44,1319.28 C630.43,1318.67 630.49,1317.72 631.02,1316.94 C631.55,1316.16 632.84,1315.46 632.6,1314.6 Z" fill="none" stroke="#000" stroke-width="2.0" stroke-linejoin="round"/>
<clipPath id="cp10"><path d="M716.2,1674.2 C716.44,1675.06 717.88,1676.53 719.2,1677 C720.52,1677.47 722.49,1677 724.13,1677.01 C725.78,1677.01 727.42,1677.01 729.07,1677.01 C730.71,1677.01 732.36,1677.01 734,1677.02 C735.64,1677.02 737.29,1677.02 738.93,1677.02 C740.58,1677.02 742.22,1677.03 743.87,1677.03 C745.51,1677.03 747.16,1677.03 748.8,1677.03 C750.44,1677.04 752.09,1677.04 753.73,1677.04 C755.38,1677.04 757.02,1677.04 758.67,1677.04 C760.31,1677.05 761.96,1677.05 763.6,1677.05 C765.24,1677.05 766.89,1677.05 768.53,1677.06 C770.18,1677.06 771.82,1677.06 773.47,1677.06 C775.11,1677.06 776.76,1677.06 778.4,1677.07 C780.04,1677.07 781.69,1677.07 783.33,1677.07 C784.98,1677.07 786.62,1677.08 788.27,1677.08 C789.91,1677.08 791.56,1677.08 793.2,1677.08 C794.84,1677.09 796.49,1677.09 798.13,1677.09 C799.78,1677.09 801.42,1677.09 803.07,1677.09 C804.71,1677.1 806.54,1677.35 808,1677.1 C809.46,1676.85 811.1,1676.28 811.8,1675.6 C812.5,1674.93 812.07,1673.9 812.2,1673.05 C812.33,1672.2 813.07,1671.55 812.6,1670.5 C812.13,1669.45 810.47,1668 809.4,1666.75 C808.33,1665.5 806.89,1664.18 806.2,1663 C805.51,1661.83 805.58,1660.8 805.27,1659.7 C804.96,1658.6 804.64,1657.5 804.33,1656.4 C804.02,1655.3 803.51,1654.25 803.4,1653.1 C803.29,1651.95 803.58,1650.7 803.67,1649.5 C803.76,1648.3 803.84,1647.1 803.93,1645.9 C804.02,1644.7 804.16,1643.57 804.2,1642.3 C804.24,1641.03 804.2,1639.63 804.2,1638.3 C804.2,1636.97 804.52,1635.31 804.2,1634.3 C803.88,1633.29 802.93,1632.93 802.3,1632.25 C801.67,1631.57 801.17,1630.61 800.4,1630.2 C799.63,1629.79 798.6,1629.93 797.7,1629.8 C796.8,1629.67 796.04,1629 795,1629.4 C793.96,1629.8 792.64,1631.26 791.46,1632.19 C790.28,1633.12 789.1,1634.04 787.92,1634.97 C786.74,1635.9 785.56,1636.83 784.38,1637.76 C783.2,1638.69 782.06,1639.66 780.84,1640.55 C779.62,1641.43 778.32,1642.24 777.06,1643.09 C775.8,1643.94 774.54,1644.78 773.28,1645.63 C772.02,1646.48 770.79,1647.37 769.49,1648.17 C768.2,1648.97 766.85,1649.67 765.53,1650.42 C764.21,1651.17 762.89,1651.92 761.57,1652.67 C760.25,1653.42 758.95,1654.22 757.6,1654.92 C756.26,1655.62 754.86,1656.21 753.48,1656.86 C752.11,1657.51 750.73,1658.15 749.36,1658.8 C747.99,1659.45 746.63,1660.15 745.24,1660.74 C743.84,1661.34 742.4,1661.83 740.98,1662.37 C739.56,1662.91 738.14,1663.45 736.72,1664 C735.3,1664.54 733.9,1665.13 732.47,1665.62 C731.03,1666.11 729.55,1666.49 728.1,1666.92 C726.64,1667.35 725.19,1667.79 723.73,1668.22 C722.27,1668.65 720.35,1668.91 719.36,1669.52 C718.37,1670.13 718.31,1671.08 717.78,1671.86 C717.25,1672.64 715.96,1673.34 716.2,1674.2 Z"/></clipPath>
<g clip-path="url(#cp10)"><path d="M716.2,1674.2 C716.44,1675.06 717.88,1676.53 719.2,1677 C720.52,1677.47 722.49,1677 724.13,1677.01 C725.78,1677.01 727.42,1677.01 729.07,1677.01 C730.71,1677.01 732.36,1677.01 734,1677.02 C735.64,1677.02 737.29,1677.02 738.93,1677.02 C740.58,1677.02 742.22,1677.03 743.87,1677.03 C745.51,1677.03 747.16,1677.03 748.8,1677.03 C750.44,1677.04 752.09,1677.04 753.73,1677.04 C755.38,1677.04 757.02,1677.04 758.67,1677.04 C760.31,1677.05 761.96,1677.05 763.6,1677.05 C765.24,1677.05 766.89,1677.05 768.53,1677.06 C770.18,1677.06 771.82,1677.06 773.47,1677.06 C775.11,1677.06 776.76,1677.06 778.4,1677.07 C780.04,1677.07 781.69,1677.07 783.33,1677.07 C784.98,1677.07 786.62,1677.08 788.27,1677.08 C789.91,1677.08 791.56,1677.08 793.2,1677.08 C794.84,1677.09 796.49,1677.09 798.13,1677.09 C799.78,1677.09 801.42,1677.09 803.07,1677.09 C804.71,1677.1 806.54,1677.35 808,1677.1 C809.46,1676.85 811.1,1676.28 811.8,1675.6 C812.5,1674.93 812.07,1673.9 812.2,1673.05 C812.33,1672.2 813.07,1671.55 812.6,1670.5 C812.13,1669.45 810.47,1668 809.4,1666.75 C808.33,1665.5 806.89,1664.18 806.2,1663 C805.51,1661.83 805.58,1660.8 805.27,1659.7 C804.96,1658.6 804.64,1657.5 804.33,1656.4 C804.02,1655.3 803.51,1654.25 803.4,1653.1 C803.29,1651.95 803.58,1650.7 803.67,1649.5 C803.76,1648.3 803.84,1647.1 803.93,1645.9 C804.02,1644.7 804.16,1643.57 804.2,1642.3 C804.24,1641.03 804.2,1639.63 804.2,1638.3 C804.2,1636.97 804.52,1635.31 804.2,1634.3 C803.88,1633.29 802.93,1632.93 802.3,1632.25 C801.67,1631.57 801.17,1630.61 800.4,1630.2 C799.63,1629.79 798.6,1629.93 797.7,1629.8 C796.8,1629.67 796.04,1629 795,1629.4 C793.96,1629.8 792.64,1631.26 791.46,1632.19 C790.28,1633.12 789.1,1634.04 787.92,1634.97 C786.74,1635.9 785.56,1636.83 784.38,1637.76 C783.2,1638.69 782.06,1639.66 780.84,1640.55 C779.62,1641.43 778.32,1642.24 777.06,1643.09 C775.8,1643.94 774.54,1644.78 773.28,1645.63 C772.02,1646.48 770.79,1647.37 769.49,1648.17 C768.2,1648.97 766.85,1649.67 765.53,1650.42 C764.21,1651.17 762.89,1651.92 761.57,1652.67 C760.25,1653.42 758.95,1654.22 757.6,1654.92 C756.26,1655.62 754.86,1656.21 753.48,1656.86 C752.11,1657.51 750.73,1658.15 749.36,1658.8 C747.99,1659.45 746.63,1660.15 745.24,1660.74 C743.84,1661.34 742.4,1661.83 740.98,1662.37 C739.56,1662.91 738.14,1663.45 736.72,1664 C735.3,1664.54 733.9,1665.13 732.47,1665.62 C731.03,1666.11 729.55,1666.49 728.1,1666.92 C726.64,1667.35 725.19,1667.79 723.73,1668.22 C722.27,1668.65 720.35,1668.91 719.36,1669.52 C718.37,1670.13 718.31,1671.08 717.78,1671.86 C717.25,1672.64 715.96,1673.34 716.2,1674.2 Z" fill="none" stroke="#000" stroke-width="10.3" stroke-linejoin="round"/><path d="M716.2,1674.2 C716.44,1675.06 717.88,1676.53 719.2,1677 C720.52,1677.47 722.49,1677 724.13,1677.01 C725.78,1677.01 727.42,1677.01 729.07,1677.01 C730.71,1677.01 732.36,1677.01 734,1677.02 C735.64,1677.02 737.29,1677.02 738.93,1677.02 C740.58,1677.02 742.22,1677.03 743.87,1677.03 C745.51,1677.03 747.16,1677.03 748.8,1677.03 C750.44,1677.04 752.09,1677.04 753.73,1677.04 C755.38,1677.04 757.02,1677.04 758.67,1677.04 C760.31,1677.05 761.96,1677.05 763.6,1677.05 C765.24,1677.05 766.89,1677.05 768.53,1677.06 C770.18,1677.06 771.82,1677.06 773.47,1677.06 C775.11,1677.06 776.76,1677.06 778.4,1677.07 C780.04,1677.07 781.69,1677.07 783.33,1677.07 C784.98,1677.07 786.62,1677.08 788.27,1677.08 C789.91,1677.08 791.56,1677.08 793.2,1677.08 C794.84,1677.09 796.49,1677.09 798.13,1677.09 C799.78,1677.09 801.42,1677.09 803.07,1677.09 C804.71,1677.1 806.54,1677.35 808,1677.1 C809.46,1676.85 811.1,1676.28 811.8,1675.6 C812.5,1674.93 812.07,1673.9 812.2,1673.05 C812.33,1672.2 813.07,1671.55 812.6,1670.5 C812.13,1669.45 810.47,1668 809.4,1666.75 C808.33,1665.5 806.89,1664.18 806.2,1663 C805.51,1661.83 805.58,1660.8 805.27,1659.7 C804.96,1658.6 804.64,1657.5 804.33,1656.4 C804.02,1655.3 803.51,1654.25 803.4,1653.1 C803.29,1651.95 803.58,1650.7 803.67,1649.5 C803.76,1648.3 803.84,1647.1 803.93,1645.9 C804.02,1644.7 804.16,1643.57 804.2,1642.3 C804.24,1641.03 804.2,1639.63 804.2,1638.3 C804.2,1636.97 804.52,1635.31 804.2,1634.3 C803.88,1633.29 802.93,1632.93 802.3,1632.25 C801.67,1631.57 801.17,1630.61 800.4,1630.2 C799.63,1629.79 798.6,1629.93 797.7,1629.8 C796.8,1629.67 796.04,1629 795,1629.4 C793.96,1629.8 792.64,1631.26 791.46,1632.19 C790.28,1633.12 789.1,1634.04 787.92,1634.97 C786.74,1635.9 785.56,1636.83 784.38,1637.76 C783.2,1638.69 782.06,1639.66 780.84,1640.55 C779.62,1641.43 778.32,1642.24 777.06,1643.09 C775.8,1643.94 774.54,1644.78 773.28,1645.63 C772.02,1646.48 770.79,1647.37 769.49,1648.17 C768.2,1648.97 766.85,1649.67 765.53,1650.42 C764.21,1651.17 762.89,1651.92 761.57,1652.67 C760.25,1653.42 758.95,1654.22 757.6,1654.92 C756.26,1655.62 754.86,1656.21 753.48,1656.86 C752.11,1657.51 750.73,1658.15 749.36,1658.8 C747.99,1659.45 746.63,1660.15 745.24,1660.74 C743.84,1661.34 742.4,1661.83 740.98,1662.37 C739.56,1662.91 738.14,1663.45 736.72,1664 C735.3,1664.54 733.9,1665.13 732.47,1665.62 C731.03,1666.11 729.55,1666.49 728.1,1666.92 C726.64,1667.35 725.19,1667.79 723.73,1668.22 C722.27,1668.65 720.35,1668.91 719.36,1669.52 C718.37,1670.13 718.31,1671.08 717.78,1671.86 C717.25,1672.64 715.96,1673.34 716.2,1674.2 Z" fill="none" stroke="#fff" stroke-width="7.7" stroke-linejoin="round"/></g>
<path d="M716.2,1674.2 C716.44,1675.06 717.88,1676.53 719.2,1677 C720.52,1677.47 722.49,1677 724.13,1677.01 C725.78,1677.01 727.42,1677.01 729.07,1677.01 C730.71,1677.01 732.36,1677.01 734,1677.02 C735.64,1677.02 737.29,1677.02 738.93,1677.02 C740.58,1677.02 742.22,1677.03 743.87,1677.03 C745.51,1677.03 747.16,1677.03 748.8,1677.03 C750.44,1677.04 752.09,1677.04 753.73,1677.04 C755.38,1677.04 757.02,1677.04 758.67,1677.04 C760.31,1677.05 761.96,1677.05 763.6,1677.05 C765.24,1677.05 766.89,1677.05 768.53,1677.06 C770.18,1677.06 771.82,1677.06 773.47,1677.06 C775.11,1677.06 776.76,1677.06 778.4,1677.07 C780.04,1677.07 781.69,1677.07 783.33,1677.07 C784.98,1677.07 786.62,1677.08 788.27,1677.08 C789.91,1677.08 791.56,1677.08 793.2,1677.08 C794.84,1677.09 796.49,1677.09 798.13,1677.09 C799.78,1677.09 801.42,1677.09 803.07,1677.09 C804.71,1677.1 806.54,1677.35 808,1677.1 C809.46,1676.85 811.1,1676.28 811.8,1675.6 C812.5,1674.93 812.07,1673.9 812.2,1673.05 C812.33,1672.2 813.07,1671.55 812.6,1670.5 C812.13,1669.45 810.47,1668 809.4,1666.75 C808.33,1665.5 806.89,1664.18 806.2,1663 C805.51,1661.83 805.58,1660.8 805.27,1659.7 C804.96,1658.6 804.64,1657.5 804.33,1656.4 C804.02,1655.3 803.51,1654.25 803.4,1653.1 C803.29,1651.95 803.58,1650.7 803.67,1649.5 C803.76,1648.3 803.84,1647.1 803.93,1645.9 C804.02,1644.7 804.16,1643.57 804.2,1642.3 C804.24,1641.03 804.2,1639.63 804.2,1638.3 C804.2,1636.97 804.52,1635.31 804.2,1634.3 C803.88,1633.29 802.93,1632.93 802.3,1632.25 C801.67,1631.57 801.17,1630.61 800.4,1630.2 C799.63,1629.79 798.6,1629.93 797.7,1629.8 C796.8,1629.67 796.04,1629 795,1629.4 C793.96,1629.8 792.64,1631.26 791.46,1632.19 C790.28,1633.12 789.1,1634.04 787.92,1634.97 C786.74,1635.9 785.56,1636.83 784.38,1637.76 C783.2,1638.69 782.06,1639.66 780.84,1640.55 C779.62,1641.43 778.32,1642.24 777.06,1643.09 C775.8,1643.94 774.54,1644.78 773.28,1645.63 C772.02,1646.48 770.79,1647.37 769.49,1648.17 C768.2,1648.97 766.85,1649.67 765.53,1650.42 C764.21,1651.17 762.89,1651.92 761.57,1652.67 C760.25,1653.42 758.95,1654.22 757.6,1654.92 C756.26,1655.62 754.86,1656.21 753.48,1656.86 C752.11,1657.51 750.73,1658.15 749.36,1658.8 C747.99,1659.45 746.63,1660.15 745.24,1660.74 C743.84,1661.34 742.4,1661.83 740.98,1662.37 C739.56,1662.91 738.14,1663.45 736.72,1664 C735.3,1664.54 733.9,1665.13 732.47,1665.62 C731.03,1666.11 729.55,1666.49 728.1,1666.92 C726.64,1667.35 725.19,1667.79 723.73,1668.22 C722.27,1668.65 720.35,1668.91 719.36,1669.52 C718.37,1670.13 718.31,1671.08 717.78,1671.86 C717.25,1672.64 715.96,1673.34 716.2,1674.2 Z" fill="none" stroke="#000" stroke-width="2.0" stroke-linejoin="round"/>
<clipPath id="cp11"><path d="M810.4,1371.6 C810.58,1370.63 811.8,1369.77 812.5,1368.85 C813.2,1367.93 813.53,1366.62 814.6,1366.1 C815.67,1365.57 817.49,1365.83 818.93,1365.7 C820.38,1365.57 821.82,1365.43 823.27,1365.3 C824.71,1365.17 826.21,1365.15 827.6,1364.9 C828.99,1364.65 830.27,1364.17 831.6,1363.8 C832.93,1363.43 834.27,1363.07 835.6,1362.7 C836.93,1362.33 838.39,1362.1 839.6,1361.6 C840.81,1361.1 841.77,1360.33 842.85,1359.7 C843.93,1359.07 844.97,1358.24 846.1,1357.8 C847.23,1357.36 848.47,1357.3 849.65,1357.05 C850.83,1356.8 852.25,1356.06 853.2,1356.3 C854.15,1356.54 854.63,1357.77 855.35,1358.5 C856.07,1359.23 857.14,1359.52 857.5,1360.7 C857.86,1361.88 857.5,1363.94 857.5,1365.56 C857.5,1367.18 857.5,1368.8 857.5,1370.42 C857.5,1372.04 857.5,1373.66 857.5,1375.28 C857.5,1376.9 857.5,1378.52 857.5,1380.14 C857.5,1381.76 857.5,1383.48 857.5,1385 C857.5,1386.52 857.5,1387.86 857.5,1389.28 C857.5,1390.71 857.5,1392.14 857.5,1393.57 C857.5,1394.99 857.5,1396.42 857.5,1397.85 C857.5,1399.28 857.5,1400.71 857.5,1402.13 C857.5,1403.56 857.5,1404.99 857.5,1406.42 C857.5,1407.84 858.08,1409.44 857.5,1410.7 C856.92,1411.96 855.17,1413.16 854,1414 C852.83,1414.84 851.67,1415.17 850.5,1415.75 C849.33,1416.33 848.11,1417.02 847,1417.5 C845.89,1417.98 844.9,1418.27 843.85,1418.65 C842.8,1419.03 841.74,1420.03 840.7,1419.8 C839.66,1419.57 838.37,1418.26 837.6,1417.3 C836.83,1416.34 836.57,1415.12 836.05,1414.04 C835.53,1412.95 835.02,1411.86 834.5,1410.77 C833.98,1409.68 833.55,1408.63 832.95,1407.51 C832.35,1406.39 831.58,1405.2 830.9,1404.05 C830.22,1402.89 829.53,1401.74 828.85,1400.58 C828.17,1399.43 827.52,1398.25 826.8,1397.12 C826.08,1395.99 825.28,1394.91 824.52,1393.81 C823.77,1392.7 823.01,1391.6 822.25,1390.49 C821.49,1389.38 820.77,1388.25 819.97,1387.17 C819.18,1386.09 818.31,1385.07 817.48,1384.02 C816.65,1382.96 815.82,1381.91 814.99,1380.86 C814.16,1379.81 813.08,1378.74 812.49,1377.7 C811.9,1376.67 811.8,1375.67 811.45,1374.65 C811.1,1373.63 810.22,1372.57 810.4,1371.6 Z"/></clipPath>
<g clip-path="url(#cp11)"><path d="M810.4,1371.6 C810.58,1370.63 811.8,1369.77 812.5,1368.85 C813.2,1367.93 813.53,1366.62 814.6,1366.1 C815.67,1365.57 817.49,1365.83 818.93,1365.7 C820.38,1365.57 821.82,1365.43 823.27,1365.3 C824.71,1365.17 826.21,1365.15 827.6,1364.9 C828.99,1364.65 830.27,1364.17 831.6,1363.8 C832.93,1363.43 834.27,1363.07 835.6,1362.7 C836.93,1362.33 838.39,1362.1 839.6,1361.6 C840.81,1361.1 841.77,1360.33 842.85,1359.7 C843.93,1359.07 844.97,1358.24 846.1,1357.8 C847.23,1357.36 848.47,1357.3 849.65,1357.05 C850.83,1356.8 852.25,1356.06 853.2,1356.3 C854.15,1356.54 854.63,1357.77 855.35,1358.5 C856.07,1359.23 857.14,1359.52 857.5,1360.7 C857.86,1361.88 857.5,1363.94 857.5,1365.56 C857.5,1367.18 857.5,1368.8 857.5,1370.42 C857.5,1372.04 857.5,1373.66 857.5,1375.28 C857.5,1376.9 857.5,1378.52 857.5,1380.14 C857.5,1381.76 857.5,1383.48 857.5,1385 C857.5,1386.52 857.5,1387.86 857.5,1389.28 C857.5,1390.71 857.5,1392.14 857.5,1393.57 C857.5,1394.99 857.5,1396.42 857.5,1397.85 C857.5,1399.28 857.5,1400.71 857.5,1402.13 C857.5,1403.56 857.5,1404.99 857.5,1406.42 C857.5,1407.84 858.08,1409.44 857.5,1410.7 C856.92,1411.96 855.17,1413.16 854,1414 C852.83,1414.84 851.67,1415.17 850.5,1415.75 C849.33,1416.33 848.11,1417.02 847,1417.5 C845.89,1417.98 844.9,1418.27 843.85,1418.65 C842.8,1419.03 841.74,1420.03 840.7,1419.8 C839.66,1419.57 838.37,1418.26 837.6,1417.3 C836.83,1416.34 836.57,1415.12 836.05,1414.04 C835.53,1412.95 835.02,1411.86 834.5,1410.77 C833.98,1409.68 833.55,1408.63 832.95,1407.51 C832.35,1406.39 831.58,1405.2 830.9,1404.05 C830.22,1402.89 829.53,1401.74 828.85,1400.58 C828.17,1399.43 827.52,1398.25 826.8,1397.12 C826.08,1395.99 825.28,1394.91 824.52,1393.81 C823.77,1392.7 823.01,1391.6 822.25,1390.49 C821.49,1389.38 820.77,1388.25 819.97,1387.17 C819.18,1386.09 818.31,1385.07 817.48,1384.02 C816.65,1382.96 815.82,1381.91 814.99,1380.86 C814.16,1379.81 813.08,1378.74 812.49,1377.7 C811.9,1376.67 811.8,1375.67 811.45,1374.65 C811.1,1373.63 810.22,1372.57 810.4,1371.6 Z" fill="none" stroke="#000" stroke-width="10.3" stroke-linejoin="round"/><path d="M810.4,1371.6 C810.58,1370.63 811.8,1369.77 812.5,1368.85 C813.2,1367.93 813.53,1366.62 814.6,1366.1 C815.67,1365.57 817.49,1365.83 818.93,1365.7 C820.38,1365.57 821.82,1365.43 823.27,1365.3 C824.71,1365.17 826.21,1365.15 827.6,1364.9 C828.99,1364.65 830.27,1364.17 831.6,1363.8 C832.93,1363.43 834.27,1363.07 835.6,1362.7 C836.93,1362.33 838.39,1362.1 839.6,1361.6 C840.81,1361.1 841.77,1360.33 842.85,1359.7 C843.93,1359.07 844.97,1358.24 846.1,1357.8 C847.23,1357.36 848.47,1357.3 849.65,1357.05 C850.83,1356.8 852.25,1356.06 853.2,1356.3 C854.15,1356.54 854.63,1357.77 855.35,1358.5 C856.07,1359.23 857.14,1359.52 857.5,1360.7 C857.86,1361.88 857.5,1363.94 857.5,1365.56 C857.5,1367.18 857.5,1368.8 857.5,1370.42 C857.5,1372.04 857.5,1373.66 857.5,1375.28 C857.5,1376.9 857.5,1378.52 857.5,1380.14 C857.5,1381.76 857.5,1383.48 857.5,1385 C857.5,1386.52 857.5,1387.86 857.5,1389.28 C857.5,1390.71 857.5,1392.14 857.5,1393.57 C857.5,1394.99 857.5,1396.42 857.5,1397.85 C857.5,1399.28 857.5,1400.71 857.5,1402.13 C857.5,1403.56 857.5,1404.99 857.5,1406.42 C857.5,1407.84 858.08,1409.44 857.5,1410.7 C856.92,1411.96 855.17,1413.16 854,1414 C852.83,1414.84 851.67,1415.17 850.5,1415.75 C849.33,1416.33 848.11,1417.02 847,1417.5 C845.89,1417.98 844.9,1418.27 843.85,1418.65 C842.8,1419.03 841.74,1420.03 840.7,1419.8 C839.66,1419.57 838.37,1418.26 837.6,1417.3 C836.83,1416.34 836.57,1415.12 836.05,1414.04 C835.53,1412.95 835.02,1411.86 834.5,1410.77 C833.98,1409.68 833.55,1408.63 832.95,1407.51 C832.35,1406.39 831.58,1405.2 830.9,1404.05 C830.22,1402.89 829.53,1401.74 828.85,1400.58 C828.17,1399.43 827.52,1398.25 826.8,1397.12 C826.08,1395.99 825.28,1394.91 824.52,1393.81 C823.77,1392.7 823.01,1391.6 822.25,1390.49 C821.49,1389.38 820.77,1388.25 819.97,1387.17 C819.18,1386.09 818.31,1385.07 817.48,1384.02 C816.65,1382.96 815.82,1381.91 814.99,1380.86 C814.16,1379.81 813.08,1378.74 812.49,1377.7 C811.9,1376.67 811.8,1375.67 811.45,1374.65 C811.1,1373.63 810.22,1372.57 810.4,1371.6 Z" fill="none" stroke="#fff" stroke-width="7.7" stroke-linejoin="round"/></g>
<path d="M810.4,1371.6 C810.58,1370.63 811.8,1369.77 812.5,1368.85 C813.2,1367.93 813.53,1366.62 814.6,1366.1 C815.67,1365.57 817.49,1365.83 818.93,1365.7 C820.38,1365.57 821.82,1365.43 823.27,1365.3 C824.71,1365.17 826.21,1365.15 827.6,1364.9 C828.99,1364.65 830.27,1364.17 831.6,1363.8 C832.93,1363.43 834.27,1363.07 835.6,1362.7 C836.93,1362.33 838.39,1362.1 839.6,1361.6 C840.81,1361.1 841.77,1360.33 842.85,1359.7 C843.93,1359.07 844.97,1358.24 846.1,1357.8 C847.23,1357.36 848.47,1357.3 849.65,1357.05 C850.83,1356.8 852.25,1356.06 853.2,1356.3 C854.15,1356.54 854.63,1357.77 855.35,1358.5 C856.07,1359.23 857.14,1359.52 857.5,1360.7 C857.86,1361.88 857.5,1363.94 857.5,1365.56 C857.5,1367.18 857.5,1368.8 857.5,1370.42 C857.5,1372.04 857.5,1373.66 857.5,1375.28 C857.5,1376.9 857.5,1378.52 857.5,1380.14 C857.5,1381.76 857.5,1383.48 857.5,1385 C857.5,1386.52 857.5,1387.86 857.5,1389.28 C857.5,1390.71 857.5,1392.14 857.5,1393.57 C857.5,1394.99 857.5,1396.42 857.5,1397.85 C857.5,1399.28 857.5,1400.71 857.5,1402.13 C857.5,1403.56 857.5,1404.99 857.5,1406.42 C857.5,1407.84 858.08,1409.44 857.5,1410.7 C856.92,1411.96 855.17,1413.16 854,1414 C852.83,1414.84 851.67,1415.17 850.5,1415.75 C849.33,1416.33 848.11,1417.02 847,1417.5 C845.89,1417.98 844.9,1418.27 843.85,1418.65 C842.8,1419.03 841.74,1420.03 840.7,1419.8 C839.66,1419.57 838.37,1418.26 837.6,1417.3 C836.83,1416.34 836.57,1415.12 836.05,1414.04 C835.53,1412.95 835.02,1411.86 834.5,1410.77 C833.98,1409.68 833.55,1408.63 832.95,1407.51 C832.35,1406.39 831.58,1405.2 830.9,1404.05 C830.22,1402.89 829.53,1401.74 828.85,1400.58 C828.17,1399.43 827.52,1398.25 826.8,1397.12 C826.08,1395.99 825.28,1394.91 824.52,1393.81 C823.77,1392.7 823.01,1391.6 822.25,1390.49 C821.49,1389.38 820.77,1388.25 819.97,1387.17 C819.18,1386.09 818.31,1385.07 817.48,1384.02 C816.65,1382.96 815.82,1381.91 814.99,1380.86 C814.16,1379.81 813.08,1378.74 812.49,1377.7 C811.9,1376.67 811.8,1375.67 811.45,1374.65 C811.1,1373.63 810.22,1372.57 810.4,1371.6 Z" fill="none" stroke="#000" stroke-width="2.0" stroke-linejoin="round"/>
<clipPath id="cp12"><path d="M538.4,1617.2 C538.22,1618.17 537,1619.03 536.3,1619.95 C535.6,1620.87 535.27,1622.18 534.2,1622.7 C533.13,1623.23 531.31,1622.97 529.87,1623.1 C528.42,1623.23 526.98,1623.37 525.53,1623.5 C524.09,1623.63 522.59,1623.65 521.2,1623.9 C519.81,1624.15 518.53,1624.63 517.2,1625 C515.87,1625.37 514.53,1625.73 513.2,1626.1 C511.87,1626.47 510.41,1626.7 509.2,1627.2 C507.99,1627.7 507.03,1628.47 505.95,1629.1 C504.87,1629.73 503.83,1630.56 502.7,1631 C501.57,1631.44 500.33,1631.5 499.15,1631.75 C497.97,1632 496.55,1632.74 495.6,1632.5 C494.65,1632.26 494.17,1631.03 493.45,1630.3 C492.73,1629.57 491.66,1629.28 491.3,1628.1 C490.94,1626.92 491.3,1624.86 491.3,1623.24 C491.3,1621.62 491.3,1620 491.3,1618.38 C491.3,1616.76 491.3,1615.14 491.3,1613.52 C491.3,1611.9 491.3,1610.28 491.3,1608.66 C491.3,1607.04 491.3,1605.32 491.3,1603.8 C491.3,1602.28 491.3,1600.94 491.3,1599.52 C491.3,1598.09 491.3,1596.66 491.3,1595.23 C491.3,1593.81 491.3,1592.38 491.3,1590.95 C491.3,1589.52 491.3,1588.09 491.3,1586.67 C491.3,1585.24 491.3,1583.81 491.3,1582.38 C491.3,1580.96 490.72,1579.36 491.3,1578.1 C491.88,1576.84 493.63,1575.64 494.8,1574.8 C495.97,1573.96 497.13,1573.63 498.3,1573.05 C499.47,1572.47 500.69,1571.78 501.8,1571.3 C502.91,1570.82 503.9,1570.53 504.95,1570.15 C506,1569.77 507.06,1568.78 508.1,1569 C509.14,1569.23 510.43,1570.54 511.2,1571.5 C511.97,1572.46 512.23,1573.68 512.75,1574.76 C513.27,1575.85 513.78,1576.94 514.3,1578.03 C514.82,1579.12 515.25,1580.17 515.85,1581.29 C516.45,1582.41 517.22,1583.6 517.9,1584.75 C518.58,1585.91 519.27,1587.06 519.95,1588.22 C520.63,1589.37 521.28,1590.55 522,1591.68 C522.72,1592.81 523.52,1593.89 524.28,1594.99 C525.03,1596.1 525.79,1597.2 526.55,1598.31 C527.31,1599.42 528.03,1600.55 528.83,1601.63 C529.62,1602.71 530.49,1603.73 531.32,1604.78 C532.15,1605.84 532.98,1606.89 533.81,1607.94 C534.64,1608.99 535.72,1610.06 536.31,1611.1 C536.9,1612.13 537,1613.13 537.35,1614.15 C537.7,1615.17 538.58,1616.23 538.4,1617.2 Z"/></clipPath>
<g clip-path="url(#cp12)"><path d="M538.4,1617.2 C538.22,1618.17 537,1619.03 536.3,1619.95 C535.6,1620.87 535.27,1622.18 534.2,1622.7 C533.13,1623.23 531.31,1622.97 529.87,1623.1 C528.42,1623.23 526.98,1623.37 525.53,1623.5 C524.09,1623.63 522.59,1623.65 521.2,1623.9 C519.81,1624.15 518.53,1624.63 517.2,1625 C515.87,1625.37 514.53,1625.73 513.2,1626.1 C511.87,1626.47 510.41,1626.7 509.2,1627.2 C507.99,1627.7 507.03,1628.47 505.95,1629.1 C504.87,1629.73 503.83,1630.56 502.7,1631 C501.57,1631.44 500.33,1631.5 499.15,1631.75 C497.97,1632 496.55,1632.74 495.6,1632.5 C494.65,1632.26 494.17,1631.03 493.45,1630.3 C492.73,1629.57 491.66,1629.28 491.3,1628.1 C490.94,1626.92 491.3,1624.86 491.3,1623.24 C491.3,1621.62 491.3,1620 491.3,1618.38 C491.3,1616.76 491.3,1615.14 491.3,1613.52 C491.3,1611.9 491.3,1610.28 491.3,1608.66 C491.3,1607.04 491.3,1605.32 491.3,1603.8 C491.3,1602.28 491.3,1600.94 491.3,1599.52 C491.3,1598.09 491.3,1596.66 491.3,1595.23 C491.3,1593.81 491.3,1592.38 491.3,1590.95 C491.3,1589.52 491.3,1588.09 491.3,1586.67 C491.3,1585.24 491.3,1583.81 491.3,1582.38 C491.3,1580.96 490.72,1579.36 491.3,1578.1 C491.88,1576.84 493.63,1575.64 494.8,1574.8 C495.97,1573.96 497.13,1573.63 498.3,1573.05 C499.47,1572.47 500.69,1571.78 501.8,1571.3 C502.91,1570.82 503.9,1570.53 504.95,1570.15 C506,1569.77 507.06,1568.78 508.1,1569 C509.14,1569.23 510.43,1570.54 511.2,1571.5 C511.97,1572.46 512.23,1573.68 512.75,1574.76 C513.27,1575.85 513.78,1576.94 514.3,1578.03 C514.82,1579.12 515.25,1580.17 515.85,1581.29 C516.45,1582.41 517.22,1583.6 517.9,1584.75 C518.58,1585.91 519.27,1587.06 519.95,1588.22 C520.63,1589.37 521.28,1590.55 522,1591.68 C522.72,1592.81 523.52,1593.89 524.28,1594.99 C525.03,1596.1 525.79,1597.2 526.55,1598.31 C527.31,1599.42 528.03,1600.55 528.83,1601.63 C529.62,1602.71 530.49,1603.73 531.32,1604.78 C532.15,1605.84 532.98,1606.89 533.81,1607.94 C534.64,1608.99 535.72,1610.06 536.31,1611.1 C536.9,1612.13 537,1613.13 537.35,1614.15 C537.7,1615.17 538.58,1616.23 538.4,1617.2 Z" fill="none" stroke="#000" stroke-width="10.3" stroke-linejoin="round"/><path d="M538.4,1617.2 C538.22,1618.17 537,1619.03 536.3,1619.95 C535.6,1620.87 535.27,1622.18 534.2,1622.7 C533.13,1623.23 531.31,1622.97 529.87,1623.1 C528.42,1623.23 526.98,1623.37 525.53,1623.5 C524.09,1623.63 522.59,1623.65 521.2,1623.9 C519.81,1624.15 518.53,1624.63 517.2,1625 C515.87,1625.37 514.53,1625.73 513.2,1626.1 C511.87,1626.47 510.41,1626.7 509.2,1627.2 C507.99,1627.7 507.03,1628.47 505.95,1629.1 C504.87,1629.73 503.83,1630.56 502.7,1631 C501.57,1631.44 500.33,1631.5 499.15,1631.75 C497.97,1632 496.55,1632.74 495.6,1632.5 C494.65,1632.26 494.17,1631.03 493.45,1630.3 C492.73,1629.57 491.66,1629.28 491.3,1628.1 C490.94,1626.92 491.3,1624.86 491.3,1623.24 C491.3,1621.62 491.3,1620 491.3,1618.38 C491.3,1616.76 491.3,1615.14 491.3,1613.52 C491.3,1611.9 491.3,1610.28 491.3,1608.66 C491.3,1607.04 491.3,1605.32 491.3,1603.8 C491.3,1602.28 491.3,1600.94 491.3,1599.52 C491.3,1598.09 491.3,1596.66 491.3,1595.23 C491.3,1593.81 491.3,1592.38 491.3,1590.95 C491.3,1589.52 491.3,1588.09 491.3,1586.67 C491.3,1585.24 491.3,1583.81 491.3,1582.38 C491.3,1580.96 490.72,1579.36 491.3,1578.1 C491.88,1576.84 493.63,1575.64 494.8,1574.8 C495.97,1573.96 497.13,1573.63 498.3,1573.05 C499.47,1572.47 500.69,1571.78 501.8,1571.3 C502.91,1570.82 503.9,1570.53 504.95,1570.15 C506,1569.77 507.06,1568.78 508.1,1569 C509.14,1569.23 510.43,1570.54 511.2,1571.5 C511.97,1572.46 512.23,1573.68 512.75,1574.76 C513.27,1575.85 513.78,1576.94 514.3,1578.03 C514.82,1579.12 515.25,1580.17 515.85,1581.29 C516.45,1582.41 517.22,1583.6 517.9,1584.75 C518.58,1585.91 519.27,1587.06 519.95,1588.22 C520.63,1589.37 521.28,1590.55 522,1591.68 C522.72,1592.81 523.52,1593.89 524.28,1594.99 C525.03,1596.1 525.79,1597.2 526.55,1598.31 C527.31,1599.42 528.03,1600.55 528.83,1601.63 C529.62,1602.71 530.49,1603.73 531.32,1604.78 C532.15,1605.84 532.98,1606.89 533.81,1607.94 C534.64,1608.99 535.72,1610.06 536.31,1611.1 C536.9,1612.13 537,1613.13 537.35,1614.15 C537.7,1615.17 538.58,1616.23 538.4,1617.2 Z" fill="none" stroke="#fff" stroke-width="7.7" stroke-linejoin="round"/></g>
<path d="M538.4,1617.2 C538.22,1618.17 537,1619.03 536.3,1619.95 C535.6,1620.87 535.27,1622.18 534.2,1622.7 C533.13,1623.23 531.31,1622.97 529.87,1623.1 C528.42,1623.23 526.98,1623.37 525.53,1623.5 C524.09,1623.63 522.59,1623.65 521.2,1623.9 C519.81,1624.15 518.53,1624.63 517.2,1625 C515.87,1625.37 514.53,1625.73 513.2,1626.1 C511.87,1626.47 510.41,1626.7 509.2,1627.2 C507.99,1627.7 507.03,1628.47 505.95,1629.1 C504.87,1629.73 503.83,1630.56 502.7,1631 C501.57,1631.44 500.33,1631.5 499.15,1631.75 C497.97,1632 496.55,1632.74 495.6,1632.5 C494.65,1632.26 494.17,1631.03 493.45,1630.3 C492.73,1629.57 491.66,1629.28 491.3,1628.1 C490.94,1626.92 491.3,1624.86 491.3,1623.24 C491.3,1621.62 491.3,1620 491.3,1618.38 C491.3,1616.76 491.3,1615.14 491.3,1613.52 C491.3,1611.9 491.3,1610.28 491.3,1608.66 C491.3,1607.04 491.3,1605.32 491.3,1603.8 C491.3,1602.28 491.3,1600.94 491.3,1599.52 C491.3,1598.09 491.3,1596.66 491.3,1595.23 C491.3,1593.81 491.3,1592.38 491.3,1590.95 C491.3,1589.52 491.3,1588.09 491.3,1586.67 C491.3,1585.24 491.3,1583.81 491.3,1582.38 C491.3,1580.96 490.72,1579.36 491.3,1578.1 C491.88,1576.84 493.63,1575.64 494.8,1574.8 C495.97,1573.96 497.13,1573.63 498.3,1573.05 C499.47,1572.47 500.69,1571.78 501.8,1571.3 C502.91,1570.82 503.9,1570.53 504.95,1570.15 C506,1569.77 507.06,1568.78 508.1,1569 C509.14,1569.23 510.43,1570.54 511.2,1571.5 C511.97,1572.46 512.23,1573.68 512.75,1574.76 C513.27,1575.85 513.78,1576.94 514.3,1578.03 C514.82,1579.12 515.25,1580.17 515.85,1581.29 C516.45,1582.41 517.22,1583.6 517.9,1584.75 C518.58,1585.91 519.27,1587.06 519.95,1588.22 C520.63,1589.37 521.28,1590.55 522,1591.68 C522.72,1592.81 523.52,1593.89 524.28,1594.99 C525.03,1596.1 525.79,1597.2 526.55,1598.31 C527.31,1599.42 528.03,1600.55 528.83,1601.63 C529.62,1602.71 530.49,1603.73 531.32,1604.78 C532.15,1605.84 532.98,1606.89 533.81,1607.94 C534.64,1608.99 535.72,1610.06 536.31,1611.1 C536.9,1612.13 537,1613.13 537.35,1614.15 C537.7,1615.17 538.58,1616.23 538.4,1617.2 Z" fill="none" stroke="#000" stroke-width="2.0" stroke-linejoin="round"/>
<clipPath id="cp13"><path d="M853.7,1536.8 C854.41,1536.85 854.97,1538.23 855.6,1538.95 C856.23,1539.67 857.18,1539.93 857.5,1541.1 C857.82,1542.27 857.5,1544.34 857.5,1545.96 C857.5,1547.58 857.5,1549.2 857.5,1550.82 C857.5,1552.45 857.5,1554.07 857.5,1555.69 C857.5,1557.31 857.5,1558.93 857.5,1560.55 C857.5,1562.17 857.5,1563.79 857.5,1565.41 C857.5,1567.03 857.5,1568.65 857.5,1570.28 C857.5,1571.9 857.5,1573.52 857.5,1575.14 C857.5,1576.76 857.5,1578.39 857.5,1580 C857.5,1581.61 857.5,1583.2 857.5,1584.8 C857.5,1586.4 857.5,1588 857.5,1589.6 C857.5,1591.2 857.5,1592.8 857.5,1594.4 C857.5,1596 857.5,1597.6 857.5,1599.2 C857.5,1600.8 857.5,1602.4 857.5,1604 C857.5,1605.6 857.5,1607.2 857.5,1608.8 C857.5,1610.4 857.5,1612 857.5,1613.6 C857.5,1615.2 857.5,1616.8 857.5,1618.4 C857.5,1620 857.5,1621.6 857.5,1623.2 C857.5,1624.8 857.91,1626.83 857.5,1628 C857.09,1629.17 855.87,1629.47 855.05,1630.2 C854.23,1630.93 853.73,1632.22 852.6,1632.4 C851.48,1632.58 849.5,1631.97 848.3,1631.3 C847.1,1630.63 846.37,1629.37 845.4,1628.4 C844.43,1627.43 843.47,1626.47 842.5,1625.5 C841.53,1624.53 840.75,1623.21 839.6,1622.6 C838.45,1621.99 836.93,1622.11 835.6,1621.87 C834.27,1621.62 832.93,1621.38 831.6,1621.13 C830.27,1620.89 828.72,1620.25 827.6,1620.4 C826.48,1620.55 825.8,1621.5 824.9,1622.05 C824,1622.6 823.19,1623.24 822.2,1623.7 C821.21,1624.16 820.03,1624.43 818.95,1624.8 C817.87,1625.17 816.67,1626.11 815.7,1625.9 C814.73,1625.69 814,1624.33 813.15,1623.55 C812.3,1622.77 810.96,1622.31 810.6,1621.2 C810.24,1620.09 810.87,1618.33 811,1616.9 C811.13,1615.47 810.83,1613.98 811.4,1612.6 C811.97,1611.22 813.4,1609.95 814.41,1608.63 C815.41,1607.3 816.41,1605.98 817.41,1604.65 C818.41,1603.33 819.5,1601.96 820.42,1600.68 C821.33,1599.4 822.08,1598.21 822.91,1596.98 C823.74,1595.74 824.57,1594.51 825.4,1593.27 C826.23,1592.04 827.11,1590.83 827.89,1589.57 C828.67,1588.3 829.36,1586.98 830.1,1585.69 C830.84,1584.4 831.57,1583.1 832.31,1581.81 C833.05,1580.52 833.83,1579.25 834.52,1577.93 C835.21,1576.61 835.8,1575.24 836.44,1573.9 C837.08,1572.56 837.72,1571.21 838.35,1569.87 C838.99,1568.52 839.68,1567.2 840.27,1565.84 C840.86,1564.47 841.35,1563.06 841.88,1561.67 C842.42,1560.28 842.96,1558.9 843.5,1557.51 C844.03,1556.12 844.62,1554.75 845.11,1553.35 C845.59,1551.94 845.98,1550.5 846.41,1549.08 C846.84,1547.65 847.28,1546.23 847.71,1544.8 C848.14,1543.38 848.4,1541.56 849.01,1540.53 C849.62,1539.51 850.57,1539.29 851.35,1538.67 C852.14,1538.04 852.99,1536.75 853.7,1536.8 Z"/></clipPath>
<g clip-path="url(#cp13)"><path d="M853.7,1536.8 C854.41,1536.85 854.97,1538.23 855.6,1538.95 C856.23,1539.67 857.18,1539.93 857.5,1541.1 C857.82,1542.27 857.5,1544.34 857.5,1545.96 C857.5,1547.58 857.5,1549.2 857.5,1550.82 C857.5,1552.45 857.5,1554.07 857.5,1555.69 C857.5,1557.31 857.5,1558.93 857.5,1560.55 C857.5,1562.17 857.5,1563.79 857.5,1565.41 C857.5,1567.03 857.5,1568.65 857.5,1570.28 C857.5,1571.9 857.5,1573.52 857.5,1575.14 C857.5,1576.76 857.5,1578.39 857.5,1580 C857.5,1581.61 857.5,1583.2 857.5,1584.8 C857.5,1586.4 857.5,1588 857.5,1589.6 C857.5,1591.2 857.5,1592.8 857.5,1594.4 C857.5,1596 857.5,1597.6 857.5,1599.2 C857.5,1600.8 857.5,1602.4 857.5,1604 C857.5,1605.6 857.5,1607.2 857.5,1608.8 C857.5,1610.4 857.5,1612 857.5,1613.6 C857.5,1615.2 857.5,1616.8 857.5,1618.4 C857.5,1620 857.5,1621.6 857.5,1623.2 C857.5,1624.8 857.91,1626.83 857.5,1628 C857.09,1629.17 855.87,1629.47 855.05,1630.2 C854.23,1630.93 853.73,1632.22 852.6,1632.4 C851.48,1632.58 849.5,1631.97 848.3,1631.3 C847.1,1630.63 846.37,1629.37 845.4,1628.4 C844.43,1627.43 843.47,1626.47 842.5,1625.5 C841.53,1624.53 840.75,1623.21 839.6,1622.6 C838.45,1621.99 836.93,1622.11 835.6,1621.87 C834.27,1621.62 832.93,1621.38 831.6,1621.13 C830.27,1620.89 828.72,1620.25 827.6,1620.4 C826.48,1620.55 825.8,1621.5 824.9,1622.05 C824,1622.6 823.19,1623.24 822.2,1623.7 C821.21,1624.16 820.03,1624.43 818.95,1624.8 C817.87,1625.17 816.67,1626.11 815.7,1625.9 C814.73,1625.69 814,1624.33 813.15,1623.55 C812.3,1622.77 810.96,1622.31 810.6,1621.2 C810.24,1620.09 810.87,1618.33 811,1616.9 C811.13,1615.47 810.83,1613.98 811.4,1612.6 C811.97,1611.22 813.4,1609.95 814.41,1608.63 C815.41,1607.3 816.41,1605.98 817.41,1604.65 C818.41,1603.33 819.5,1601.96 820.42,1600.68 C821.33,1599.4 822.08,1598.21 822.91,1596.98 C823.74,1595.74 824.57,1594.51 825.4,1593.27 C826.23,1592.04 827.11,1590.83 827.89,1589.57 C828.67,1588.3 829.36,1586.98 830.1,1585.69 C830.84,1584.4 831.57,1583.1 832.31,1581.81 C833.05,1580.52 833.83,1579.25 834.52,1577.93 C835.21,1576.61 835.8,1575.24 836.44,1573.9 C837.08,1572.56 837.72,1571.21 838.35,1569.87 C838.99,1568.52 839.68,1567.2 840.27,1565.84 C840.86,1564.47 841.35,1563.06 841.88,1561.67 C842.42,1560.28 842.96,1558.9 843.5,1557.51 C844.03,1556.12 844.62,1554.75 845.11,1553.35 C845.59,1551.94 845.98,1550.5 846.41,1549.08 C846.84,1547.65 847.28,1546.23 847.71,1544.8 C848.14,1543.38 848.4,1541.56 849.01,1540.53 C849.62,1539.51 850.57,1539.29 851.35,1538.67 C852.14,1538.04 852.99,1536.75 853.7,1536.8 Z" fill="none" stroke="#000" stroke-width="10.3" stroke-linejoin="round"/><path d="M853.7,1536.8 C854.41,1536.85 854.97,1538.23 855.6,1538.95 C856.23,1539.67 857.18,1539.93 857.5,1541.1 C857.82,1542.27 857.5,1544.34 857.5,1545.96 C857.5,1547.58 857.5,1549.2 857.5,1550.82 C857.5,1552.45 857.5,1554.07 857.5,1555.69 C857.5,1557.31 857.5,1558.93 857.5,1560.55 C857.5,1562.17 857.5,1563.79 857.5,1565.41 C857.5,1567.03 857.5,1568.65 857.5,1570.28 C857.5,1571.9 857.5,1573.52 857.5,1575.14 C857.5,1576.76 857.5,1578.39 857.5,1580 C857.5,1581.61 857.5,1583.2 857.5,1584.8 C857.5,1586.4 857.5,1588 857.5,1589.6 C857.5,1591.2 857.5,1592.8 857.5,1594.4 C857.5,1596 857.5,1597.6 857.5,1599.2 C857.5,1600.8 857.5,1602.4 857.5,1604 C857.5,1605.6 857.5,1607.2 857.5,1608.8 C857.5,1610.4 857.5,1612 857.5,1613.6 C857.5,1615.2 857.5,1616.8 857.5,1618.4 C857.5,1620 857.5,1621.6 857.5,1623.2 C857.5,1624.8 857.91,1626.83 857.5,1628 C857.09,1629.17 855.87,1629.47 855.05,1630.2 C854.23,1630.93 853.73,1632.22 852.6,1632.4 C851.48,1632.58 849.5,1631.97 848.3,1631.3 C847.1,1630.63 846.37,1629.37 845.4,1628.4 C844.43,1627.43 843.47,1626.47 842.5,1625.5 C841.53,1624.53 840.75,1623.21 839.6,1622.6 C838.45,1621.99 836.93,1622.11 835.6,1621.87 C834.27,1621.62 832.93,1621.38 831.6,1621.13 C830.27,1620.89 828.72,1620.25 827.6,1620.4 C826.48,1620.55 825.8,1621.5 824.9,1622.05 C824,1622.6 823.19,1623.24 822.2,1623.7 C821.21,1624.16 820.03,1624.43 818.95,1624.8 C817.87,1625.17 816.67,1626.11 815.7,1625.9 C814.73,1625.69 814,1624.33 813.15,1623.55 C812.3,1622.77 810.96,1622.31 810.6,1621.2 C810.24,1620.09 810.87,1618.33 811,1616.9 C811.13,1615.47 810.83,1613.98 811.4,1612.6 C811.97,1611.22 813.4,1609.95 814.41,1608.63 C815.41,1607.3 816.41,1605.98 817.41,1604.65 C818.41,1603.33 819.5,1601.96 820.42,1600.68 C821.33,1599.4 822.08,1598.21 822.91,1596.98 C823.74,1595.74 824.57,1594.51 825.4,1593.27 C826.23,1592.04 827.11,1590.83 827.89,1589.57 C828.67,1588.3 829.36,1586.98 830.1,1585.69 C830.84,1584.4 831.57,1583.1 832.31,1581.81 C833.05,1580.52 833.83,1579.25 834.52,1577.93 C835.21,1576.61 835.8,1575.24 836.44,1573.9 C837.08,1572.56 837.72,1571.21 838.35,1569.87 C838.99,1568.52 839.68,1567.2 840.27,1565.84 C840.86,1564.47 841.35,1563.06 841.88,1561.67 C842.42,1560.28 842.96,1558.9 843.5,1557.51 C844.03,1556.12 844.62,1554.75 845.11,1553.35 C845.59,1551.94 845.98,1550.5 846.41,1549.08 C846.84,1547.65 847.28,1546.23 847.71,1544.8 C848.14,1543.38 848.4,1541.56 849.01,1540.53 C849.62,1539.51 850.57,1539.29 851.35,1538.67 C852.14,1538.04 852.99,1536.75 853.7,1536.8 Z" fill="none" stroke="#fff" stroke-width="7.7" stroke-linejoin="round"/></g>
<path d="M853.7,1536.8 C854.41,1536.85 854.97,1538.23 855.6,1538.95 C856.23,1539.67 857.18,1539.93 857.5,1541.1 C857.82,1542.27 857.5,1544.34 857.5,1545.96 C857.5,1547.58 857.5,1549.2 857.5,1550.82 C857.5,1552.45 857.5,1554.07 857.5,1555.69 C857.5,1557.31 857.5,1558.93 857.5,1560.55 C857.5,1562.17 857.5,1563.79 857.5,1565.41 C857.5,1567.03 857.5,1568.65 857.5,1570.28 C857.5,1571.9 857.5,1573.52 857.5,1575.14 C857.5,1576.76 857.5,1578.39 857.5,1580 C857.5,1581.61 857.5,1583.2 857.5,1584.8 C857.5,1586.4 857.5,1588 857.5,1589.6 C857.5,1591.2 857.5,1592.8 857.5,1594.4 C857.5,1596 857.5,1597.6 857.5,1599.2 C857.5,1600.8 857.5,1602.4 857.5,1604 C857.5,1605.6 857.5,1607.2 857.5,1608.8 C857.5,1610.4 857.5,1612 857.5,1613.6 C857.5,1615.2 857.5,1616.8 857.5,1618.4 C857.5,1620 857.5,1621.6 857.5,1623.2 C857.5,1624.8 857.91,1626.83 857.5,1628 C857.09,1629.17 855.87,1629.47 855.05,1630.2 C854.23,1630.93 853.73,1632.22 852.6,1632.4 C851.48,1632.58 849.5,1631.97 848.3,1631.3 C847.1,1630.63 846.37,1629.37 845.4,1628.4 C844.43,1627.43 843.47,1626.47 842.5,1625.5 C841.53,1624.53 840.75,1623.21 839.6,1622.6 C838.45,1621.99 836.93,1622.11 835.6,1621.87 C834.27,1621.62 832.93,1621.38 831.6,1621.13 C830.27,1620.89 828.72,1620.25 827.6,1620.4 C826.48,1620.55 825.8,1621.5 824.9,1622.05 C824,1622.6 823.19,1623.24 822.2,1623.7 C821.21,1624.16 820.03,1624.43 818.95,1624.8 C817.87,1625.17 816.67,1626.11 815.7,1625.9 C814.73,1625.69 814,1624.33 813.15,1623.55 C812.3,1622.77 810.96,1622.31 810.6,1621.2 C810.24,1620.09 810.87,1618.33 811,1616.9 C811.13,1615.47 810.83,1613.98 811.4,1612.6 C811.97,1611.22 813.4,1609.95 814.41,1608.63 C815.41,1607.3 816.41,1605.98 817.41,1604.65 C818.41,1603.33 819.5,1601.96 820.42,1600.68 C821.33,1599.4 822.08,1598.21 822.91,1596.98 C823.74,1595.74 824.57,1594.51 825.4,1593.27 C826.23,1592.04 827.11,1590.83 827.89,1589.57 C828.67,1588.3 829.36,1586.98 830.1,1585.69 C830.84,1584.4 831.57,1583.1 832.31,1581.81 C833.05,1580.52 833.83,1579.25 834.52,1577.93 C835.21,1576.61 835.8,1575.24 836.44,1573.9 C837.08,1572.56 837.72,1571.21 838.35,1569.87 C838.99,1568.52 839.68,1567.2 840.27,1565.84 C840.86,1564.47 841.35,1563.06 841.88,1561.67 C842.42,1560.28 842.96,1558.9 843.5,1557.51 C844.03,1556.12 844.62,1554.75 845.11,1553.35 C845.59,1551.94 845.98,1550.5 846.41,1549.08 C846.84,1547.65 847.28,1546.23 847.71,1544.8 C848.14,1543.38 848.4,1541.56 849.01,1540.53 C849.62,1539.51 850.57,1539.29 851.35,1538.67 C852.14,1538.04 852.99,1536.75 853.7,1536.8 Z" fill="none" stroke="#000" stroke-width="2.0" stroke-linejoin="round"/>
<clipPath id="cp14"><path d="M495.1,1452 C494.39,1451.95 493.83,1450.57 493.2,1449.85 C492.57,1449.13 491.62,1448.87 491.3,1447.7 C490.98,1446.53 491.3,1444.46 491.3,1442.84 C491.3,1441.22 491.3,1439.6 491.3,1437.98 C491.3,1436.35 491.3,1434.73 491.3,1433.11 C491.3,1431.49 491.3,1429.87 491.3,1428.25 C491.3,1426.63 491.3,1425.01 491.3,1423.39 C491.3,1421.77 491.3,1420.15 491.3,1418.53 C491.3,1416.9 491.3,1415.28 491.3,1413.66 C491.3,1412.04 491.3,1410.41 491.3,1408.8 C491.3,1407.19 491.3,1405.6 491.3,1404 C491.3,1402.4 491.3,1400.8 491.3,1399.2 C491.3,1397.6 491.3,1396 491.3,1394.4 C491.3,1392.8 491.3,1391.2 491.3,1389.6 C491.3,1388 491.3,1386.4 491.3,1384.8 C491.3,1383.2 491.3,1381.6 491.3,1380 C491.3,1378.4 491.3,1376.8 491.3,1375.2 C491.3,1373.6 491.3,1372 491.3,1370.4 C491.3,1368.8 491.3,1367.2 491.3,1365.6 C491.3,1364 490.89,1361.97 491.3,1360.8 C491.71,1359.63 492.93,1359.33 493.75,1358.6 C494.57,1357.87 495.07,1356.58 496.2,1356.4 C497.32,1356.22 499.3,1356.83 500.5,1357.5 C501.7,1358.17 502.43,1359.43 503.4,1360.4 C504.37,1361.37 505.33,1362.33 506.3,1363.3 C507.27,1364.27 508.05,1365.59 509.2,1366.2 C510.35,1366.81 511.87,1366.69 513.2,1366.93 C514.53,1367.18 515.87,1367.42 517.2,1367.67 C518.53,1367.91 520.08,1368.55 521.2,1368.4 C522.32,1368.25 523,1367.3 523.9,1366.75 C524.8,1366.2 525.61,1365.56 526.6,1365.1 C527.59,1364.64 528.77,1364.37 529.85,1364 C530.93,1363.63 532.13,1362.69 533.1,1362.9 C534.07,1363.11 534.8,1364.47 535.65,1365.25 C536.5,1366.03 537.84,1366.49 538.2,1367.6 C538.56,1368.71 537.93,1370.47 537.8,1371.9 C537.67,1373.33 537.97,1374.82 537.4,1376.2 C536.83,1377.58 535.4,1378.85 534.39,1380.17 C533.39,1381.5 532.39,1382.82 531.39,1384.15 C530.39,1385.47 529.3,1386.84 528.38,1388.12 C527.47,1389.4 526.72,1390.59 525.89,1391.82 C525.06,1393.06 524.23,1394.29 523.4,1395.53 C522.57,1396.76 521.69,1397.97 520.91,1399.23 C520.13,1400.5 519.44,1401.82 518.7,1403.11 C517.96,1404.4 517.23,1405.7 516.49,1406.99 C515.75,1408.28 514.97,1409.55 514.28,1410.87 C513.59,1412.19 513,1413.56 512.36,1414.9 C511.72,1416.24 511.08,1417.59 510.45,1418.93 C509.81,1420.28 509.12,1421.6 508.53,1422.96 C507.94,1424.33 507.45,1425.74 506.92,1427.13 C506.38,1428.52 505.84,1429.9 505.3,1431.29 C504.77,1432.68 504.18,1434.05 503.69,1435.45 C503.21,1436.86 502.82,1438.3 502.39,1439.72 C501.96,1441.15 501.52,1442.57 501.09,1444 C500.66,1445.42 500.4,1447.24 499.79,1448.27 C499.18,1449.29 498.23,1449.51 497.45,1450.13 C496.66,1450.76 495.81,1452.05 495.1,1452 Z"/></clipPath>
<g clip-path="url(#cp14)"><path d="M495.1,1452 C494.39,1451.95 493.83,1450.57 493.2,1449.85 C492.57,1449.13 491.62,1448.87 491.3,1447.7 C490.98,1446.53 491.3,1444.46 491.3,1442.84 C491.3,1441.22 491.3,1439.6 491.3,1437.98 C491.3,1436.35 491.3,1434.73 491.3,1433.11 C491.3,1431.49 491.3,1429.87 491.3,1428.25 C491.3,1426.63 491.3,1425.01 491.3,1423.39 C491.3,1421.77 491.3,1420.15 491.3,1418.53 C491.3,1416.9 491.3,1415.28 491.3,1413.66 C491.3,1412.04 491.3,1410.41 491.3,1408.8 C491.3,1407.19 491.3,1405.6 491.3,1404 C491.3,1402.4 491.3,1400.8 491.3,1399.2 C491.3,1397.6 491.3,1396 491.3,1394.4 C491.3,1392.8 491.3,1391.2 491.3,1389.6 C491.3,1388 491.3,1386.4 491.3,1384.8 C491.3,1383.2 491.3,1381.6 491.3,1380 C491.3,1378.4 491.3,1376.8 491.3,1375.2 C491.3,1373.6 491.3,1372 491.3,1370.4 C491.3,1368.8 491.3,1367.2 491.3,1365.6 C491.3,1364 490.89,1361.97 491.3,1360.8 C491.71,1359.63 492.93,1359.33 493.75,1358.6 C494.57,1357.87 495.07,1356.58 496.2,1356.4 C497.32,1356.22 499.3,1356.83 500.5,1357.5 C501.7,1358.17 502.43,1359.43 503.4,1360.4 C504.37,1361.37 505.33,1362.33 506.3,1363.3 C507.27,1364.27 508.05,1365.59 509.2,1366.2 C510.35,1366.81 511.87,1366.69 513.2,1366.93 C514.53,1367.18 515.87,1367.42 517.2,1367.67 C518.53,1367.91 520.08,1368.55 521.2,1368.4 C522.32,1368.25 523,1367.3 523.9,1366.75 C524.8,1366.2 525.61,1365.56 526.6,1365.1 C527.59,1364.64 528.77,1364.37 529.85,1364 C530.93,1363.63 532.13,1362.69 533.1,1362.9 C534.07,1363.11 534.8,1364.47 535.65,1365.25 C536.5,1366.03 537.84,1366.49 538.2,1367.6 C538.56,1368.71 537.93,1370.47 537.8,1371.9 C537.67,1373.33 537.97,1374.82 537.4,1376.2 C536.83,1377.58 535.4,1378.85 534.39,1380.17 C533.39,1381.5 532.39,1382.82 531.39,1384.15 C530.39,1385.47 529.3,1386.84 528.38,1388.12 C527.47,1389.4 526.72,1390.59 525.89,1391.82 C525.06,1393.06 524.23,1394.29 523.4,1395.53 C522.57,1396.76 521.69,1397.97 520.91,1399.23 C520.13,1400.5 519.44,1401.82 518.7,1403.11 C517.96,1404.4 517.23,1405.7 516.49,1406.99 C515.75,1408.28 514.97,1409.55 514.28,1410.87 C513.59,1412.19 513,1413.56 512.36,1414.9 C511.72,1416.24 511.08,1417.59 510.45,1418.93 C509.81,1420.28 509.12,1421.6 508.53,1422.96 C507.94,1424.33 507.45,1425.74 506.92,1427.13 C506.38,1428.52 505.84,1429.9 505.3,1431.29 C504.77,1432.68 504.18,1434.05 503.69,1435.45 C503.21,1436.86 502.82,1438.3 502.39,1439.72 C501.96,1441.15 501.52,1442.57 501.09,1444 C500.66,1445.42 500.4,1447.24 499.79,1448.27 C499.18,1449.29 498.23,1449.51 497.45,1450.13 C496.66,1450.76 495.81,1452.05 495.1,1452 Z" fill="none" stroke="#000" stroke-width="10.3" stroke-linejoin="round"/><path d="M495.1,1452 C494.39,1451.95 493.83,1450.57 493.2,1449.85 C492.57,1449.13 491.62,1448.87 491.3,1447.7 C490.98,1446.53 491.3,1444.46 491.3,1442.84 C491.3,1441.22 491.3,1439.6 491.3,1437.98 C491.3,1436.35 491.3,1434.73 491.3,1433.11 C491.3,1431.49 491.3,1429.87 491.3,1428.25 C491.3,1426.63 491.3,1425.01 491.3,1423.39 C491.3,1421.77 491.3,1420.15 491.3,1418.53 C491.3,1416.9 491.3,1415.28 491.3,1413.66 C491.3,1412.04 491.3,1410.41 491.3,1408.8 C491.3,1407.19 491.3,1405.6 491.3,1404 C491.3,1402.4 491.3,1400.8 491.3,1399.2 C491.3,1397.6 491.3,1396 491.3,1394.4 C491.3,1392.8 491.3,1391.2 491.3,1389.6 C491.3,1388 491.3,1386.4 491.3,1384.8 C491.3,1383.2 491.3,1381.6 491.3,1380 C491.3,1378.4 491.3,1376.8 491.3,1375.2 C491.3,1373.6 491.3,1372 491.3,1370.4 C491.3,1368.8 491.3,1367.2 491.3,1365.6 C491.3,1364 490.89,1361.97 491.3,1360.8 C491.71,1359.63 492.93,1359.33 493.75,1358.6 C494.57,1357.87 495.07,1356.58 496.2,1356.4 C497.32,1356.22 499.3,1356.83 500.5,1357.5 C501.7,1358.17 502.43,1359.43 503.4,1360.4 C504.37,1361.37 505.33,1362.33 506.3,1363.3 C507.27,1364.27 508.05,1365.59 509.2,1366.2 C510.35,1366.81 511.87,1366.69 513.2,1366.93 C514.53,1367.18 515.87,1367.42 517.2,1367.67 C518.53,1367.91 520.08,1368.55 521.2,1368.4 C522.32,1368.25 523,1367.3 523.9,1366.75 C524.8,1366.2 525.61,1365.56 526.6,1365.1 C527.59,1364.64 528.77,1364.37 529.85,1364 C530.93,1363.63 532.13,1362.69 533.1,1362.9 C534.07,1363.11 534.8,1364.47 535.65,1365.25 C536.5,1366.03 537.84,1366.49 538.2,1367.6 C538.56,1368.71 537.93,1370.47 537.8,1371.9 C537.67,1373.33 537.97,1374.82 537.4,1376.2 C536.83,1377.58 535.4,1378.85 534.39,1380.17 C533.39,1381.5 532.39,1382.82 531.39,1384.15 C530.39,1385.47 529.3,1386.84 528.38,1388.12 C527.47,1389.4 526.72,1390.59 525.89,1391.82 C525.06,1393.06 524.23,1394.29 523.4,1395.53 C522.57,1396.76 521.69,1397.97 520.91,1399.23 C520.13,1400.5 519.44,1401.82 518.7,1403.11 C517.96,1404.4 517.23,1405.7 516.49,1406.99 C515.75,1408.28 514.97,1409.55 514.28,1410.87 C513.59,1412.19 513,1413.56 512.36,1414.9 C511.72,1416.24 511.08,1417.59 510.45,1418.93 C509.81,1420.28 509.12,1421.6 508.53,1422.96 C507.94,1424.33 507.45,1425.74 506.92,1427.13 C506.38,1428.52 505.84,1429.9 505.3,1431.29 C504.77,1432.68 504.18,1434.05 503.69,1435.45 C503.21,1436.86 502.82,1438.3 502.39,1439.72 C501.96,1441.15 501.52,1442.57 501.09,1444 C500.66,1445.42 500.4,1447.24 499.79,1448.27 C499.18,1449.29 498.23,1449.51 497.45,1450.13 C496.66,1450.76 495.81,1452.05 495.1,1452 Z" fill="none" stroke="#fff" stroke-width="7.7" stroke-linejoin="round"/></g>
<path d="M495.1,1452 C494.39,1451.95 493.83,1450.57 493.2,1449.85 C492.57,1449.13 491.62,1448.87 491.3,1447.7 C490.98,1446.53 491.3,1444.46 491.3,1442.84 C491.3,1441.22 491.3,1439.6 491.3,1437.98 C491.3,1436.35 491.3,1434.73 491.3,1433.11 C491.3,1431.49 491.3,1429.87 491.3,1428.25 C491.3,1426.63 491.3,1425.01 491.3,1423.39 C491.3,1421.77 491.3,1420.15 491.3,1418.53 C491.3,1416.9 491.3,1415.28 491.3,1413.66 C491.3,1412.04 491.3,1410.41 491.3,1408.8 C491.3,1407.19 491.3,1405.6 491.3,1404 C491.3,1402.4 491.3,1400.8 491.3,1399.2 C491.3,1397.6 491.3,1396 491.3,1394.4 C491.3,1392.8 491.3,1391.2 491.3,1389.6 C491.3,1388 491.3,1386.4 491.3,1384.8 C491.3,1383.2 491.3,1381.6 491.3,1380 C491.3,1378.4 491.3,1376.8 491.3,1375.2 C491.3,1373.6 491.3,1372 491.3,1370.4 C491.3,1368.8 491.3,1367.2 491.3,1365.6 C491.3,1364 490.89,1361.97 491.3,1360.8 C491.71,1359.63 492.93,1359.33 493.75,1358.6 C494.57,1357.87 495.07,1356.58 496.2,1356.4 C497.32,1356.22 499.3,1356.83 500.5,1357.5 C501.7,1358.17 502.43,1359.43 503.4,1360.4 C504.37,1361.37 505.33,1362.33 506.3,1363.3 C507.27,1364.27 508.05,1365.59 509.2,1366.2 C510.35,1366.81 511.87,1366.69 513.2,1366.93 C514.53,1367.18 515.87,1367.42 517.2,1367.67 C518.53,1367.91 520.08,1368.55 521.2,1368.4 C522.32,1368.25 523,1367.3 523.9,1366.75 C524.8,1366.2 525.61,1365.56 526.6,1365.1 C527.59,1364.64 528.77,1364.37 529.85,1364 C530.93,1363.63 532.13,1362.69 533.1,1362.9 C534.07,1363.11 534.8,1364.47 535.65,1365.25 C536.5,1366.03 537.84,1366.49 538.2,1367.6 C538.56,1368.71 537.93,1370.47 537.8,1371.9 C537.67,1373.33 537.97,1374.82 537.4,1376.2 C536.83,1377.58 535.4,1378.85 534.39,1380.17 C533.39,1381.5 532.39,1382.82 531.39,1384.15 C530.39,1385.47 529.3,1386.84 528.38,1388.12 C527.47,1389.4 526.72,1390.59 525.89,1391.82 C525.06,1393.06 524.23,1394.29 523.4,1395.53 C522.57,1396.76 521.69,1397.97 520.91,1399.23 C520.13,1400.5 519.44,1401.82 518.7,1403.11 C517.96,1404.4 517.23,1405.7 516.49,1406.99 C515.75,1408.28 514.97,1409.55 514.28,1410.87 C513.59,1412.19 513,1413.56 512.36,1414.9 C511.72,1416.24 511.08,1417.59 510.45,1418.93 C509.81,1420.28 509.12,1421.6 508.53,1422.96 C507.94,1424.33 507.45,1425.74 506.92,1427.13 C506.38,1428.52 505.84,1429.9 505.3,1431.29 C504.77,1432.68 504.18,1434.05 503.69,1435.45 C503.21,1436.86 502.82,1438.3 502.39,1439.72 C501.96,1441.15 501.52,1442.57 501.09,1444 C500.66,1445.42 500.4,1447.24 499.79,1448.27 C499.18,1449.29 498.23,1449.51 497.45,1450.13 C496.66,1450.76 495.81,1452.05 495.1,1452 Z" fill="none" stroke="#000" stroke-width="2.0" stroke-linejoin="round"/>
<line x1="433.5" y1="1314.8" x2="499.5" y2="1314.8" stroke="#000" stroke-width="2.2"/>
<line x1="402.8" y1="1674.7" x2="497.2" y2="1674.7" stroke="#000" stroke-width="2.2"/>
<line x1="440.9" y1="1372.3" x2="441.1" y2="1674.7" stroke="#000" stroke-width="2.2"/>
<line x1="433.9" y1="1315.6" x2="403.2" y2="1674.7" stroke="#000" stroke-width="2.0" stroke-dasharray="6 3.5"/>
<line x1="445.9" y1="1315.6" x2="414.8" y2="1674.7" stroke="#000" stroke-width="2.0" stroke-dasharray="6 3.5"/>
<text x="659.6" y="1168.51" font-size="43.5" fill="#000" text-anchor="start" textLength="28.32" lengthAdjust="spacingAndGlyphs">B</text>
<line x1="477.7" y1="1260.2" x2="871" y2="1260.2" stroke="#000" stroke-width="1.0"/>
<path d="M477.7,1260.2 L490.7,1257 L490.7,1263.4 Z" fill="#000"/>
<path d="M871,1260.2 L858,1263.4 L858,1257 Z" fill="#000"/>
<line x1="477.7" y1="1254" x2="477.7" y2="1340" stroke="#000" stroke-width="1.0"/>
<line x1="871" y1="1254" x2="871" y2="1340" stroke="#555" stroke-width="1.0"/>
<text x="657.58" y="1255.14" font-size="20.7" fill="#000" text-anchor="start" textLength="33.8" lengthAdjust="spacingAndGlyphs">130</text>
<line x1="990.7" y1="1297.8" x2="990.7" y2="1691.2" stroke="#000" stroke-width="1.0"/>
<path d="M990.7,1297.8 L993.9,1310.8 L987.5,1310.8 Z" fill="#000"/>
<path d="M990.7,1691.2 L987.5,1678.2 L993.9,1678.2 Z" fill="#000"/>
<line x1="828" y1="1297.8" x2="995" y2="1297.8" stroke="#000" stroke-width="1.0"/>
<line x1="828" y1="1691.2" x2="995" y2="1691.2" stroke="#000" stroke-width="1.0"/>
<text x="984.84" y="1509.87" font-size="20.7" fill="#000" text-anchor="start" textLength="32.83" lengthAdjust="spacingAndGlyphs" transform="rotate(-90 984.84 1509.87)">130</text>
<path d="M860.79,1308.01 A263.6,263.6 0 0 1 937.96,1489.8" stroke="#000" stroke-width="1.0" fill="none"/>
<path d="M937.96,1499 A263.6,263.6 0 0 1 860.79,1680.79" stroke="#000" stroke-width="1.0" fill="none"/>
<path d="M860.79,1308.01 L872.6,1314.33 L868.31,1319.08 Z" fill="#000"/>
<path d="M938,1493.9 L934.8,1480.9 L941.2,1480.9 Z" fill="#000"/>
<path d="M938,1494.9 L941.2,1507.9 L934.8,1507.9 Z" fill="#000"/>
<path d="M860.79,1680.79 L868.31,1669.72 L872.6,1674.47 Z" fill="#000"/>
<line x1="857.82" y1="1677.82" x2="863.62" y2="1683.62" stroke="#9ccc4c" stroke-width="0.9" stroke-dasharray="22 3.5 5 3.5"/>
<text x="920.18" y="1381.41" font-size="20.7" fill="#000" text-anchor="start" textLength="28.55" lengthAdjust="spacingAndGlyphs" transform="rotate(68 920.18 1381.41)">45°</text>
<text x="906.22" y="1602.04" font-size="20.7" fill="#000" text-anchor="start" textLength="28.55" lengthAdjust="spacingAndGlyphs" transform="rotate(-68 906.22 1602.04)">45°</text>
<line x1="611.8" y1="1596" x2="560.2" y2="1679.7" stroke="#000" stroke-width="1.0"/>
<path d="M560.2,1679.7 L564.3,1666.95 L569.75,1670.31 Z" fill="#000"/>
<text x="571.02" y="1650.18" font-size="20.7" fill="#000" text-anchor="start" textLength="42.8" lengthAdjust="spacingAndGlyphs" transform="rotate(-58.35 571.02 1650.18)">ø145</text>
<line x1="507.6" y1="1650" x2="507.6" y2="1752" stroke="#000" stroke-width="1.0"/>
<line x1="530.6" y1="1650" x2="530.6" y2="1752" stroke="#000" stroke-width="1.0"/>
<line x1="482.7" y1="1748.7" x2="632.9" y2="1748.7" stroke="#000" stroke-width="1.0"/>
<path d="M507.6,1748.7 L494.6,1751.9 L494.6,1745.5 Z" fill="#000"/>
<path d="M530.6,1748.7 L543.6,1745.5 L543.6,1751.9 Z" fill="#000"/>
<text x="548.7" y="1743.39" font-size="20.7" fill="#000" text-anchor="start" textLength="80" lengthAdjust="spacingAndGlyphs">4-M8×20</text>
<path d="M1195.0,1320.4 H1496.3 L1519.6,1343.7 V1645.2 M1496.5,1668.5 H1195.0 L1171.7,1645.2 V1343.7 L1195.0,1320.4" stroke="#000" stroke-width="2.2" fill="none" stroke-linejoin="round"/>
<line x1="1519.6" y1="1645.2" x2="1486.8" y2="1677.9" stroke="#000" stroke-width="2.2"/>
<line x1="1146" y1="1494.5" x2="1542" y2="1494.5" stroke="#9ccc4c" stroke-width="1.2" stroke-dasharray="22 3.5 5 3.5"/>
<line x1="1345.2" y1="1288" x2="1345.2" y2="1913" stroke="#9ccc4c" stroke-width="1.2" stroke-dasharray="22 3.5 5 3.5"/>
<circle cx="1345.2" cy="1494.5" r="166.8" stroke="#000" stroke-width="2.2" fill="none"/>
<circle cx="1205.97" cy="1355.27" r="13.7" stroke="#000" stroke-width="2.0" fill="none"/>
<line x1="1244.86" y1="1394.16" x2="1169.48" y2="1318.78" stroke="#9ccc4c" stroke-width="0.9" stroke-dasharray="22 3.5 5 3.5"/>
<path d="M1175.55,1394.57 A196.9,196.9 0 0 1 1245.27,1324.85" stroke="#9ccc4c" stroke-width="1.1" fill="none" stroke-dasharray="22 3.5 5 3.5"/>
<circle cx="1484.43" cy="1355.27" r="13.7" stroke="#000" stroke-width="2.0" fill="none"/>
<line x1="1445.54" y1="1394.16" x2="1524.81" y2="1314.89" stroke="#9ccc4c" stroke-width="0.9" stroke-dasharray="22 3.5 5 3.5"/>
<path d="M1445.13,1324.85 A196.9,196.9 0 0 1 1514.85,1394.57" stroke="#9ccc4c" stroke-width="1.1" fill="none" stroke-dasharray="22 3.5 5 3.5"/>
<circle cx="1484.43" cy="1633.73" r="13.7" stroke="#000" stroke-width="2.0" fill="none"/>
<line x1="1445.54" y1="1594.84" x2="1524.81" y2="1674.11" stroke="#9ccc4c" stroke-width="0.9" stroke-dasharray="22 3.5 5 3.5"/>
<path d="M1514.85,1594.43 A196.9,196.9 0 0 1 1445.13,1664.15" stroke="#9ccc4c" stroke-width="1.1" fill="none" stroke-dasharray="22 3.5 5 3.5"/>
<circle cx="1205.97" cy="1633.73" r="13.7" stroke="#000" stroke-width="2.0" fill="none"/>
<line x1="1244.86" y1="1594.84" x2="1169.48" y2="1670.22" stroke="#9ccc4c" stroke-width="0.9" stroke-dasharray="22 3.5 5 3.5"/>
<path d="M1245.27,1664.15 A196.9,196.9 0 0 1 1175.55,1594.43" stroke="#9ccc4c" stroke-width="1.1" fill="none" stroke-dasharray="22 3.5 5 3.5"/>
<circle cx="1345.2" cy="1494.5" r="103.2" stroke="#000" stroke-width="2.2" fill="none"/>
<circle cx="1345.2" cy="1494.5" r="60.3" stroke="#000" stroke-width="2.2" fill="none"/>
<circle cx="1345.2" cy="1494.5" r="48.2" stroke="#000" stroke-width="2.2" fill="none"/>
<path d="M1443.72,1498.4 A98.6,98.6 0 0 1 1432.47,1540.38 L1407.07,1525.72 A69.3,69.3 0 0 0 1414.39,1498.4 Z" stroke="#000" stroke-width="2.0" fill="none" stroke-linejoin="miter"/>
<path d="M1428.57,1547.14 A98.6,98.6 0 0 1 1397.84,1577.87 L1383.17,1552.47 A69.3,69.3 0 0 0 1403.17,1532.47 Z" stroke="#000" stroke-width="2.0" fill="none" stroke-linejoin="miter"/>
<path d="M1391.08,1581.77 A98.6,98.6 0 0 1 1349.1,1593.02 L1349.1,1563.69 A69.3,69.3 0 0 0 1376.42,1556.37 Z" stroke="#000" stroke-width="2.0" fill="none" stroke-linejoin="miter"/>
<path d="M1341.3,1593.02 A98.6,98.6 0 0 1 1299.32,1581.77 L1313.98,1556.37 A69.3,69.3 0 0 0 1341.3,1563.69 Z" stroke="#000" stroke-width="2.0" fill="none" stroke-linejoin="miter"/>
<path d="M1292.56,1577.87 A98.6,98.6 0 0 1 1261.83,1547.14 L1287.23,1532.47 A69.3,69.3 0 0 0 1307.23,1552.47 Z" stroke="#000" stroke-width="2.0" fill="none" stroke-linejoin="miter"/>
<path d="M1257.93,1540.38 A98.6,98.6 0 0 1 1246.68,1498.4 L1276.01,1498.4 A69.3,69.3 0 0 0 1283.33,1525.72 Z" stroke="#000" stroke-width="2.0" fill="none" stroke-linejoin="miter"/>
<path d="M1246.68,1490.6 A98.6,98.6 0 0 1 1257.93,1448.62 L1283.33,1463.28 A69.3,69.3 0 0 0 1276.01,1490.6 Z" stroke="#000" stroke-width="2.0" fill="none" stroke-linejoin="miter"/>
<path d="M1261.83,1441.86 A98.6,98.6 0 0 1 1292.56,1411.13 L1307.23,1436.53 A69.3,69.3 0 0 0 1287.23,1456.53 Z" stroke="#000" stroke-width="2.0" fill="none" stroke-linejoin="miter"/>
<path d="M1299.32,1407.23 A98.6,98.6 0 0 1 1341.3,1395.98 L1341.3,1425.31 A69.3,69.3 0 0 0 1313.98,1432.63 Z" stroke="#000" stroke-width="2.0" fill="none" stroke-linejoin="miter"/>
<path d="M1349.1,1395.98 A98.6,98.6 0 0 1 1391.08,1407.23 L1376.42,1432.63 A69.3,69.3 0 0 0 1349.1,1425.31 Z" stroke="#000" stroke-width="2.0" fill="none" stroke-linejoin="miter"/>
<path d="M1397.84,1411.13 A98.6,98.6 0 0 1 1428.57,1441.86 L1403.17,1456.53 A69.3,69.3 0 0 0 1383.17,1436.53 Z" stroke="#000" stroke-width="2.0" fill="none" stroke-linejoin="miter"/>
<path d="M1432.47,1448.62 A98.6,98.6 0 0 1 1443.72,1490.6 L1414.39,1490.6 A69.3,69.3 0 0 0 1407.07,1463.28 Z" stroke="#000" stroke-width="2.0" fill="none" stroke-linejoin="miter"/>
<path d="M1330.6,1447.0 V1437.6 H1361 V1447.0" stroke="#000" stroke-width="1.8" fill="none"/>
<circle cx="1345.2" cy="1494.5" r="14" stroke="#000" stroke-width="2.0" fill="none"/>
<path d="M1326.5,1494.5 A18.7,18.7 0 1 1 1345.2,1513.2" stroke="#000" stroke-width="2.0" fill="none"/>
<rect x="1171.7" y="1678.2" width="348.2" height="57.2" stroke="#000" stroke-width="2.2" fill="none"/>
<line x1="1253.7" y1="1668.5" x2="1253.7" y2="1735.4" stroke="#000" stroke-width="2.2"/>
<line x1="1437.3" y1="1668.5" x2="1437.3" y2="1735.4" stroke="#000" stroke-width="2.2"/>
<line x1="1190.5" y1="1737.2" x2="1500" y2="1737.2" stroke="#000" stroke-width="2.2"/>
<path d="M1190.5,1737.2 V1766 Q1190.5,1770 1188.5,1777.5 M1500,1737.2 V1766 Q1500,1770 1502,1777.5" stroke="#000" stroke-width="2.2" fill="none"/>
<line x1="1190.5" y1="1770.4" x2="1500" y2="1770.4" stroke="#000" stroke-width="2.2"/>
<path d="M1149,1904.8 L1152.7,1782 Q1152.7,1777.5 1157,1777.5 H1533 Q1537,1777.5 1537.2,1782 L1542.7,1904.8 Z" stroke="#000" stroke-width="2.2" fill="none"/>
<line x1="1196.8" y1="1777.5" x2="1195.9" y2="1904.8" stroke="#000" stroke-width="2.2"/>
<line x1="1494.3" y1="1777.5" x2="1495.2" y2="1904.8" stroke="#000" stroke-width="2.2"/>
<text x="1332.8" y="1169.06" font-size="43.5" fill="#000" text-anchor="start" textLength="24.96" lengthAdjust="spacingAndGlyphs">A</text>
<line x1="1171.7" y1="1274.8" x2="1519.6" y2="1274.8" stroke="#000" stroke-width="1.0"/>
<path d="M1171.7,1274.8 L1184.7,1271.6 L1184.7,1278 Z" fill="#000"/>
<path d="M1519.6,1274.8 L1506.6,1278 L1506.6,1271.6 Z" fill="#000"/>
<line x1="1171.7" y1="1270.5" x2="1171.7" y2="1344" stroke="#000" stroke-width="1.0"/>
<line x1="1519.6" y1="1270.5" x2="1519.6" y2="1344" stroke="#000" stroke-width="1.0"/>
<text x="1328.86" y="1269.64" font-size="20.7" fill="#000" text-anchor="start" textLength="32.76" lengthAdjust="spacingAndGlyphs">115</text>
<line x1="1591.1" y1="1320.4" x2="1591.1" y2="1668.5" stroke="#000" stroke-width="1.0"/>
<path d="M1591.1,1320.4 L1594.3,1333.4 L1587.9,1333.4 Z" fill="#000"/>
<path d="M1591.1,1668.5 L1587.9,1655.5 L1594.3,1655.5 Z" fill="#000"/>
<line x1="1496" y1="1320.4" x2="1595" y2="1320.4" stroke="#000" stroke-width="1.0"/>
<line x1="1492.8" y1="1668.5" x2="1595" y2="1668.5" stroke="#000" stroke-width="1.0"/>
<text x="1585.04" y="1508.27" font-size="20.7" fill="#000" text-anchor="start" textLength="31.35" lengthAdjust="spacingAndGlyphs" transform="rotate(-90 1585.04 1508.27)">115</text>
<path d="M1169.48,1318.78 A248.5,248.5 0 0 0 1096.74,1498.84" stroke="#000" stroke-width="1.0" fill="none"/>
<path d="M1169.48,1670.22 A248.5,248.5 0 0 1 1096.74,1498.84" stroke="#000" stroke-width="1.0" fill="none"/>
<path d="M1169.48,1318.78 L1161.96,1329.86 L1157.68,1325.1 Z" fill="#000"/>
<path d="M1096.7,1493.9 L1093.5,1480.9 L1099.9,1480.9 Z" fill="#000"/>
<path d="M1096.7,1495.1 L1099.9,1508.1 L1093.5,1508.1 Z" fill="#000"/>
<path d="M1169.48,1670.22 L1157.68,1663.9 L1161.96,1659.14 Z" fill="#000"/>
<line x1="1092.5" y1="1494.5" x2="1146" y2="1494.5" stroke="#000" stroke-width="1.0"/>
<text x="1108.28" y="1401.08" font-size="20.7" fill="#000" text-anchor="start" textLength="28.55" lengthAdjust="spacingAndGlyphs" transform="rotate(-66 1108.28 1401.08)">45°</text>
<text x="1125.48" y="1586.05" font-size="20.7" fill="#000" text-anchor="start" textLength="28.55" lengthAdjust="spacingAndGlyphs" transform="rotate(60 1125.48 1586.05)">45°</text>
<line x1="1286.2" y1="1584.2" x2="1239.5" y2="1660" stroke="#000" stroke-width="1.0"/>
<path d="M1239.5,1660 L1243.59,1647.25 L1249.04,1650.61 Z" fill="#000"/>
<text x="1257.43" y="1625.34" font-size="20.7" fill="#000" text-anchor="start" textLength="42.8" lengthAdjust="spacingAndGlyphs" transform="rotate(-58.4 1257.43 1625.34)">ø130</text>
<line x1="1192.8" y1="1640" x2="1192.8" y2="1718" stroke="#555" stroke-width="1.0"/>
<line x1="1219.5" y1="1640" x2="1219.5" y2="1718" stroke="#555" stroke-width="1.0"/>
<line x1="1113.7" y1="1714" x2="1244.6" y2="1714" stroke="#000" stroke-width="1.0"/>
<path d="M1192.8,1714 L1179.8,1717.2 L1179.8,1710.8 Z" fill="#000"/>
<path d="M1219.5,1714 L1232.5,1710.8 L1232.5,1717.2 Z" fill="#000"/>
<text x="1115.3" y="1707.94" font-size="20.7" fill="#000" text-anchor="start" textLength="41.12" lengthAdjust="spacingAndGlyphs">4-ø9</text>
<line x1="1529.9" y1="1714" x2="1599.6" y2="1714" stroke="#000" stroke-width="1.0"/>
<line x1="1529.9" y1="1714" x2="1494.3" y2="1671.9" stroke="#000" stroke-width="1.0"/>
<path d="M1494.3,1671.9 L1505.14,1679.76 L1500.25,1683.89 Z" fill="#000"/>
<text x="1544.13" y="1707.94" font-size="20.7" fill="#000" text-anchor="start" textLength="43" lengthAdjust="spacingAndGlyphs">ø152</text>
<defs><filter id="wmf" x="-5%" y="-20%" width="110%" height="150%" color-interpolation-filters="sRGB">
<feGaussianBlur in="SourceAlpha" stdDeviation="3.5"/>
<feOffset dx="-2.5" dy="3.5" result="b"/>
<feComposite in="b" in2="SourceAlpha" operator="out" result="s"/>
<feColorMatrix in="s" type="matrix" values="0 0 0 0 0  0 0 0 0 0  0 0 0 0 0  0 0 0 0.26 0" result="s2"/>
<feColorMatrix in="SourceGraphic" type="matrix" values="1 0 0 0 0  0 1 0 0 0  0 0 1 0 0  0 0 0 0.55 0" result="g"/>
<feMerge><feMergeNode in="s2"/><feMergeNode in="g"/></feMerge>
</filter></defs>
<g filter="url(#wmf)" fill="#fff">
<path fill-rule="evenodd" d="M581,928 H703.6 V1050.6 H581 Z M612,960.2 H671.8 V1019.6 H612 Z M581,1050.6 H612 V1097.2 H581 Z M719.2,928 H751 V1018.8 H810.8 V928 H841.8 V1050.6 H719.2 Z M858.2,928.7 H980.8 V958.7 H890.1 V1050.8 H858.2 Z M991.9,928 H1115.1 V1005.1 H1024 V1018.6 H1084 V1051.2 H991.9 Z M1024,955.9 H1084 V976.6 H1024 Z M1128.8,881.6 H1160.9 V1051 H1128.8 Z M1177.1,928.3 H1299 V1051.3 H1177.1 Z M1207.8,959.1 H1267 V1019.5 H1207.8 Z M1314.9,928.3 H1439 V1096.9 H1345.6 V1065 H1407.2 V1051.3 H1314.9 Z M1347.9,960.2 H1407.2 V1019.5 H1347.9 Z M1453.9,928.3 H1484.6 V1051.3 H1453.9 Z M1453.9,881.6 H1484.6 V913.5 H1453.9 Z M1501.7,928.3 H1623 V959.1 H1533.1 V1019.5 H1623 V1051.3 H1501.7 Z "/>
<circle cx="390" cy="942.8" r="13.5"/><circle cx="436.1" cy="942.8" r="13.5"/><circle cx="482.2" cy="942.8" r="13.5"/><circle cx="390" cy="989.4" r="13.5"/><circle cx="436.1" cy="989.4" r="13.5"/><circle cx="528.7" cy="989.4" r="13.5"/><circle cx="390" cy="1035.4" r="13.5"/><circle cx="528.7" cy="1035.4" r="13.5"/><circle cx="436.1" cy="1082" r="13.5"/><circle cx="482.2" cy="1082" r="13.5"/><circle cx="528.7" cy="1082" r="13.5"/>
<text x="626.8" y="1094.6" font-size="51" font-weight="bold" letter-spacing="4.8" fill="#fff">research &amp; development</text>
</g>
<g fill="#c3d38a" stroke="#c3d38a" opacity="0.9">
<path d="M528.7,942.8 L482.2,989.4 L482.2,1035.4 L436.1,1035.4 L390,1082" fill="none" stroke-width="7.2"/>
<circle cx="528.7" cy="942.8" r="13.5" stroke="none"/><circle cx="482.2" cy="989.4" r="13.5" stroke="none"/><circle cx="482.2" cy="1035.4" r="13.5" stroke="none"/><circle cx="436.1" cy="1035.4" r="13.5" stroke="none"/><circle cx="390" cy="1082" r="13.5" stroke="none"/>
</g>
</g>
</svg></body></html>
